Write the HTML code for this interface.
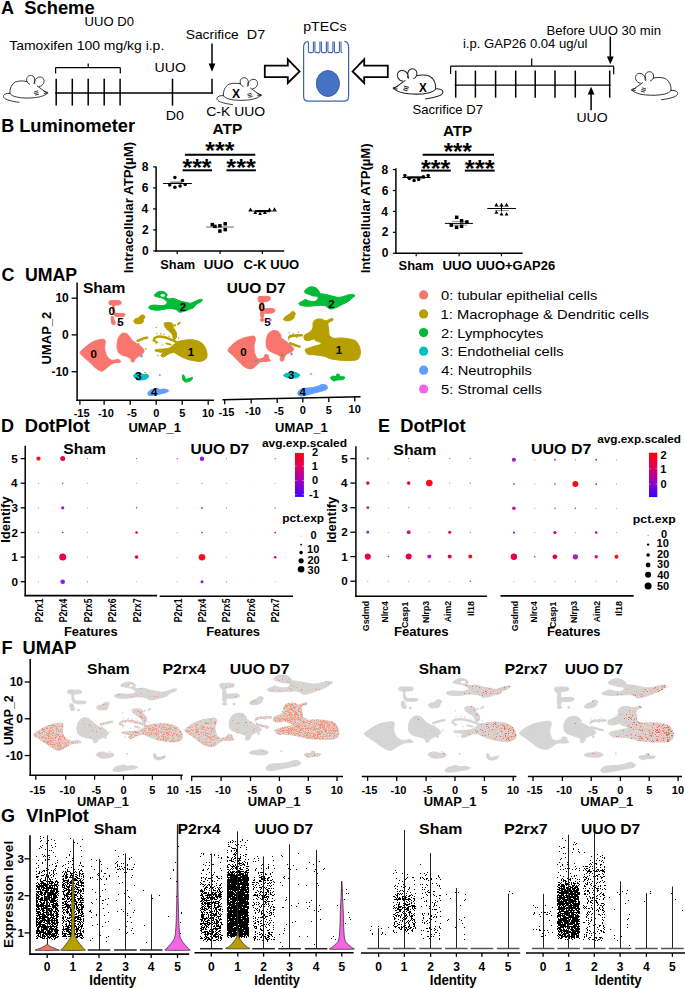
<!DOCTYPE html>
<html><head><meta charset="utf-8"><style>
html,body{margin:0;padding:0;background:#fff;}
svg{display:block;font-family:"Liberation Sans", sans-serif;}
</style></head><body>
<svg width="685" height="988" viewBox="0 0 685 988">
<rect width="685" height="988" fill="#fff"/>
<text x="1.05" y="14.00" font-size="18.00" style="font-weight:bold;" fill="#000">A</text>
<text x="24.27" y="14.00" font-size="18.00" style="font-weight:bold;" fill="#000" textLength="70.36" lengthAdjust="spacingAndGlyphs">Scheme</text>
<text x="84.59" y="25.50" font-size="13.00" style="" fill="#000" textLength="49.42" lengthAdjust="spacingAndGlyphs">UUO D0</text>
<text x="9.19" y="49.60" font-size="13.50" style="" fill="#000" textLength="155.07" lengthAdjust="spacingAndGlyphs">Tamoxifen 100 mg/kg i.p.</text>
<line x1="55.20" y1="93.00" x2="212.80" y2="93.00" stroke="#000" stroke-width="1.35"/>
<line x1="56.20" y1="78.70" x2="56.20" y2="105.60" stroke="#000" stroke-width="1.50"/>
<line x1="72.30" y1="78.70" x2="72.30" y2="105.60" stroke="#000" stroke-width="1.50"/>
<line x1="88.20" y1="78.70" x2="88.20" y2="105.60" stroke="#000" stroke-width="1.50"/>
<line x1="104.20" y1="78.70" x2="104.20" y2="105.60" stroke="#000" stroke-width="1.50"/>
<line x1="120.10" y1="78.70" x2="120.10" y2="105.60" stroke="#000" stroke-width="1.50"/>
<line x1="172.50" y1="78.70" x2="172.50" y2="105.60" stroke="#000" stroke-width="1.50"/>
<line x1="212.00" y1="78.70" x2="212.00" y2="93.70" stroke="#000" stroke-width="1.50"/>
<path d="M55.6,73.5 V68.3 Q55.6,67.7 56.4,67.7 H87.4 Q88.2,67.7 88.2,66.9 V63.5 M88.2,66.9 Q88.2,67.7 89,67.7 H119.5 Q120.3,67.7 120.3,68.3 V73.5" stroke="#000" stroke-width="1.20" fill="none"/>
<text x="154.61" y="71.90" font-size="13.00" style="" fill="#000" textLength="31.26" lengthAdjust="spacingAndGlyphs">UUO</text>
<text x="165.83" y="119.60" font-size="13.00" style="" fill="#000" textLength="18.23" lengthAdjust="spacingAndGlyphs">D0</text>
<text x="185.67" y="39.30" font-size="13.50" style="" fill="#000" textLength="53.15" lengthAdjust="spacingAndGlyphs">Sacrifice</text>
<text x="246.82" y="39.30" font-size="13.50" style="" fill="#000" textLength="18.41" lengthAdjust="spacingAndGlyphs">D7</text>
<line x1="212.00" y1="43.60" x2="212.00" y2="64.50" stroke="#000" stroke-width="1.50"/>
<path d="M208.6,63.6 L215.4,63.6 L212,71.8 Z" stroke="none" stroke-width="1.00" fill="#000"/>
<path d="M9.9,93.5 C9.5,88 12,84 15.2,82.1 C18,80.8 22,80.6 26.6,81.4 M37.2,86 C40,88 43.5,90.5 47.3,93.2 C45,95.5 41,97 34.2,97.7 C28,98.3 22,98.2 16.5,97 C13,96.2 11,95 9.9,93.5 M26.9,81.6 C25.8,78.5 27.5,75.6 30.4,75.4 C33.5,75.3 35.3,78 34.6,81.2 C34.2,82.6 33.8,83.5 34.2,84 C35,83.6 35.2,82 34.6,81.2 M26.9,81.6 C27.5,82.8 28.5,83.8 29.6,84.2 M34.6,81.2 C35.5,78.5 37.8,76.8 40.5,77 C43.5,77.3 44.8,80.5 43.6,83.2 C42.8,85 41.2,86.2 39.4,86.4 M9.9,93.3 C7,93.2 4.3,93.8 3.5,95.6 C3,97.5 5,99 8,100 C11,101 15,101.8 19,102.3 M34.2,92 L37.5,91 M34.6,93.5 L38,92.6 M35.4,95 L38.6,94.2 M43.8,91.2 L47.6,92.4 M44.2,93.4 L47.8,93.2" stroke="#222" stroke-width="0.90" fill="none" stroke-linecap="round"/>
<path d="M9.9,93.5 C9.5,88 12,84 15.2,82.1 C18,80.8 22,80.6 26.6,81.4 M37.2,86 C40,88 43.5,90.5 47.3,93.2 C45,95.5 41,97 34.2,97.7 C28,98.3 22,98.2 16.5,97 C13,96.2 11,95 9.9,93.5 M26.9,81.6 C25.8,78.5 27.5,75.6 30.4,75.4 C33.5,75.3 35.3,78 34.6,81.2 C34.2,82.6 33.8,83.5 34.2,84 C35,83.6 35.2,82 34.6,81.2 M26.9,81.6 C27.5,82.8 28.5,83.8 29.6,84.2 M34.6,81.2 C35.5,78.5 37.8,76.8 40.5,77 C43.5,77.3 44.8,80.5 43.6,83.2 C42.8,85 41.2,86.2 39.4,86.4 M9.9,93.3 C7,93.2 4.3,93.8 3.5,95.6 C3,97.5 5,99 8,100 C11,101 15,101.8 19,102.3 M34.2,92 L37.5,91 M34.6,93.5 L38,92.6 M35.4,95 L38.6,94.2 M43.8,91.2 L47.6,92.4 M44.2,93.4 L47.8,93.2" stroke="#222" stroke-width="0.90" fill="none" transform="translate(213.5,2.3)" stroke-linecap="round"/>
<text x="231.99" y="97.60" font-size="12.00" style="font-weight:bold;" fill="#000" textLength="8.11" lengthAdjust="spacingAndGlyphs">X</text>
<text x="206.29" y="116.30" font-size="13.50" style="" fill="#000" textLength="58.88" lengthAdjust="spacingAndGlyphs">C-K UUO</text>
<path d="M264.8,65.6 H287.8 V59.3 L299.6,71.4 L287.8,83 V77.2 H264.8 Z" stroke="#000" stroke-width="1.80" fill="#fff" stroke-linejoin="miter"/>
<path d="M387.8,65.6 H364.2 V59.3 L352.6,71.4 L364.2,83 V77.2 H387.8 Z" stroke="#000" stroke-width="1.80" fill="#fff" stroke-linejoin="miter"/>
<text x="303.19" y="30.50" font-size="13.50" style="" fill="#000" textLength="43.33" lengthAdjust="spacingAndGlyphs">pTECs</text>
<path d="M307.8,41.4 C305,41.8 303.6,44 303.6,47.5 V96.2 Q303.6,101.2 308.6,101.2 H343.6 Q348.6,101.2 348.6,96.2 V47.5 C348.6,44 347.2,41.8 344.4,41.4" stroke="#3C64B0" stroke-width="1.20" fill="none"/>
<path d="M308.4,41.4 V51.2 Q308.4,52.6 309.8,52.6 H312.0 Q313.4,52.6 313.4,51.2 V41.4 M314.9,41.4 V51.2 Q314.9,52.6 316.3,52.6 H318.5 Q319.9,52.6 319.9,51.2 V41.4 M321.4,41.4 V51.2 Q321.4,52.6 322.8,52.6 H325.0 Q326.4,52.6 326.4,51.2 V41.4 M327.9,41.4 V51.2 Q327.9,52.6 329.3,52.6 H331.5 Q332.9,52.6 332.9,51.2 V41.4 M334.4,41.4 V51.2 Q334.4,52.6 335.8,52.6 H338.0 Q339.4,52.6 339.4,51.2 V41.4 M341.0,41.4 V51.2 Q341.0,52.6 342.4,52.6 " stroke="#3C64B0" stroke-width="1.10" fill="none"/>
<ellipse cx="327.9" cy="83.5" rx="11.6" ry="13.0" fill="#4472C4" stroke="#2F528F" stroke-width="0.8"/>
<path d="M9.9,93.5 C9.5,88 12,84 15.2,82.1 C18,80.8 22,80.6 26.6,81.4 M37.2,86 C40,88 43.5,90.5 47.3,93.2 C45,95.5 41,97 34.2,97.7 C28,98.3 22,98.2 16.5,97 C13,96.2 11,95 9.9,93.5 M26.9,81.6 C25.8,78.5 27.5,75.6 30.4,75.4 C33.5,75.3 35.3,78 34.6,81.2 C34.2,82.6 33.8,83.5 34.2,84 C35,83.6 35.2,82 34.6,81.2 M26.9,81.6 C27.5,82.8 28.5,83.8 29.6,84.2 M34.6,81.2 C35.5,78.5 37.8,76.8 40.5,77 C43.5,77.3 44.8,80.5 43.6,83.2 C42.8,85 41.2,86.2 39.4,86.4 M9.9,93.3 C7,93.2 4.3,93.8 3.5,95.6 C3,97.5 5,99 8,100 C11,101 15,101.8 19,102.3 M34.2,92 L37.5,91 M34.6,93.5 L38,92.6 M35.4,95 L38.6,94.2 M43.8,91.2 L47.6,92.4 M44.2,93.4 L47.8,93.2" stroke="#222" stroke-width="0.90" fill="none" transform="translate(446.7,-15.7) scale(-1.12,1.12)" stroke-linecap="round"/>
<text x="418.90" y="92.00" font-size="12.00" style="font-weight:bold;" fill="#000" textLength="7.81" lengthAdjust="spacingAndGlyphs">X</text>
<text x="412.40" y="114.20" font-size="13.00" style="" fill="#000" textLength="70.65" lengthAdjust="spacingAndGlyphs">Sacrifice D7</text>
<path d="M9.9,93.5 C9.5,88 12,84 15.2,82.1 C18,80.8 22,80.6 26.6,81.4 M37.2,86 C40,88 43.5,90.5 47.3,93.2 C45,95.5 41,97 34.2,97.7 C28,98.3 22,98.2 16.5,97 C13,96.2 11,95 9.9,93.5 M26.9,81.6 C25.8,78.5 27.5,75.6 30.4,75.4 C33.5,75.3 35.3,78 34.6,81.2 C34.2,82.6 33.8,83.5 34.2,84 C35,83.6 35.2,82 34.6,81.2 M26.9,81.6 C27.5,82.8 28.5,83.8 29.6,84.2 M34.6,81.2 C35.5,78.5 37.8,76.8 40.5,77 C43.5,77.3 44.8,80.5 43.6,83.2 C42.8,85 41.2,86.2 39.4,86.4 M9.9,93.3 C7,93.2 4.3,93.8 3.5,95.6 C3,97.5 5,99 8,100 C11,101 15,101.8 19,102.3 M34.2,92 L37.5,91 M34.6,93.5 L38,92.6 M35.4,95 L38.6,94.2 M43.8,91.2 L47.6,92.4 M44.2,93.4 L47.8,93.2" stroke="#222" stroke-width="0.90" fill="none" transform="translate(681.3,-6.7) scale(-1.04,1.04)" stroke-linecap="round"/>
<line x1="454.60" y1="85.10" x2="610.50" y2="85.10" stroke="#000" stroke-width="1.35"/>
<line x1="455.70" y1="70.60" x2="455.70" y2="97.70" stroke="#000" stroke-width="1.50"/>
<line x1="475.40" y1="70.60" x2="475.40" y2="97.70" stroke="#000" stroke-width="1.50"/>
<line x1="495.60" y1="70.60" x2="495.60" y2="97.70" stroke="#000" stroke-width="1.50"/>
<line x1="515.70" y1="70.60" x2="515.70" y2="97.70" stroke="#000" stroke-width="1.50"/>
<line x1="535.20" y1="70.60" x2="535.20" y2="97.70" stroke="#000" stroke-width="1.50"/>
<line x1="555.00" y1="70.60" x2="555.00" y2="97.70" stroke="#000" stroke-width="1.50"/>
<line x1="575.30" y1="70.60" x2="575.30" y2="97.70" stroke="#000" stroke-width="1.50"/>
<line x1="609.70" y1="70.60" x2="609.70" y2="97.70" stroke="#000" stroke-width="1.50"/>
<path d="M450.6,74 V66.9 Q450.6,66.1 451.4,66.1 H530.9 Q531.7,66.1 531.7,65.3 V58.5 M531.7,65.3 Q531.7,66.1 532.5,66.1 H612.9 Q613.7,66.1 613.7,66.9 V74.3" stroke="#000" stroke-width="1.20" fill="none"/>
<text x="462.92" y="48.00" font-size="13.00" style="" fill="#000" textLength="124.55" lengthAdjust="spacingAndGlyphs">i.p. GAP26 0.04 ug/ul</text>
<text x="546.52" y="34.90" font-size="13.00" style="" fill="#000" textLength="114.43" lengthAdjust="spacingAndGlyphs">Before UUO 30 min</text>
<line x1="610.30" y1="36.50" x2="610.30" y2="57.50" stroke="#000" stroke-width="1.50"/>
<path d="M606.9,56.6 L613.7,56.6 L610.3,64.2 Z" stroke="none" stroke-width="1.00" fill="#000"/>
<line x1="591.10" y1="93.50" x2="591.10" y2="110.20" stroke="#000" stroke-width="1.50"/>
<path d="M587.7,94.6 L594.5,94.6 L591.1,86.8 Z" stroke="none" stroke-width="1.00" fill="#000"/>
<text x="576.41" y="121.80" font-size="13.00" style="" fill="#000" textLength="31.26" lengthAdjust="spacingAndGlyphs">UUO</text>
<text x="1.30" y="131.50" font-size="18.00" style="font-weight:bold;" fill="#000">B</text>
<text x="19.17" y="131.50" font-size="18.00" style="font-weight:bold;" fill="#000" textLength="116.00" lengthAdjust="spacingAndGlyphs">Luminometer</text>
<line x1="156.10" y1="166.40" x2="156.10" y2="251.70" stroke="#000" stroke-width="1.50"/>
<line x1="155.40" y1="250.90" x2="284.20" y2="250.90" stroke="#000" stroke-width="1.50"/>
<line x1="153.10" y1="250.90" x2="156.10" y2="250.90" stroke="#000" stroke-width="1.20"/>
<text x="141.92" y="255.03" font-size="12.00" style="font-weight:bold;" fill="#000">0</text>
<line x1="153.10" y1="229.90" x2="156.10" y2="229.90" stroke="#000" stroke-width="1.20"/>
<text x="141.91" y="234.09" font-size="12.00" style="font-weight:bold;" fill="#000">2</text>
<line x1="153.10" y1="208.90" x2="156.10" y2="208.90" stroke="#000" stroke-width="1.20"/>
<text x="141.49" y="213.03" font-size="12.00" style="font-weight:bold;" fill="#000">4</text>
<line x1="153.10" y1="187.90" x2="156.10" y2="187.90" stroke="#000" stroke-width="1.20"/>
<text x="141.86" y="192.03" font-size="12.00" style="font-weight:bold;" fill="#000">6</text>
<line x1="153.10" y1="166.90" x2="156.10" y2="166.90" stroke="#000" stroke-width="1.20"/>
<text x="141.80" y="171.03" font-size="12.00" style="font-weight:bold;" fill="#000">8</text>
<line x1="177.20" y1="250.90" x2="177.20" y2="253.90" stroke="#000" stroke-width="1.20"/>
<line x1="220.10" y1="250.90" x2="220.10" y2="253.90" stroke="#000" stroke-width="1.20"/>
<line x1="262.40" y1="250.90" x2="262.40" y2="253.90" stroke="#000" stroke-width="1.20"/>
<text x="160.33" y="268.50" font-size="12.50" style="font-weight:bold;" fill="#000" textLength="34.86" lengthAdjust="spacingAndGlyphs">Sham</text>
<text x="203.80" y="268.50" font-size="12.50" style="font-weight:bold;" fill="#000" textLength="29.77" lengthAdjust="spacingAndGlyphs">UUO</text>
<text x="243.47" y="268.50" font-size="12.50" style="font-weight:bold;" fill="#000" textLength="55.78" lengthAdjust="spacingAndGlyphs">C-K UUO</text>
<text transform="translate(133.30,272.50) rotate(-90)" x="-0.88" y="0" font-size="13.00" style="font-weight:bold;" fill="#000" textLength="131.53" lengthAdjust="spacingAndGlyphs">Intracellular ATP(µM)</text>
<text x="212.53" y="134.00" font-size="14.50" style="font-weight:bold;" fill="#000" textLength="29.68" lengthAdjust="spacingAndGlyphs">ATP</text>
<text x="205.33" y="158.76" font-size="24.50" style="font-weight:bold;" fill="#000" textLength="29.00" lengthAdjust="spacingAndGlyphs">***</text>
<line x1="184.90" y1="154.70" x2="255.30" y2="154.70" stroke="#000" stroke-width="2.00"/>
<text x="182.53" y="176.26" font-size="24.50" style="font-weight:bold;" fill="#000" textLength="29.00" lengthAdjust="spacingAndGlyphs">***</text>
<text x="226.33" y="176.26" font-size="24.50" style="font-weight:bold;" fill="#000" textLength="29.40" lengthAdjust="spacingAndGlyphs">***</text>
<line x1="182.60" y1="170.30" x2="212.00" y2="170.30" stroke="#000" stroke-width="2.00"/>
<line x1="226.40" y1="170.30" x2="255.90" y2="170.30" stroke="#000" stroke-width="2.00"/>
<rect x="170.3" y="181.4" width="11.7" height="1.8" fill="#888"/>
<line x1="163.10" y1="183.50" x2="191.90" y2="183.50" stroke="#000" stroke-width="1.00"/>
<circle cx="174.90" cy="177.50" r="1.75" fill="#000"/>
<circle cx="182.50" cy="180.50" r="1.75" fill="#000"/>
<circle cx="169.70" cy="184.90" r="1.75" fill="#000"/>
<circle cx="174.90" cy="187.30" r="1.75" fill="#000"/>
<circle cx="180.10" cy="186.10" r="1.75" fill="#000"/>
<circle cx="185.20" cy="184.50" r="1.75" fill="#000"/>
<line x1="206.10" y1="227.00" x2="233.90" y2="227.00" stroke="#777" stroke-width="1.10"/>
<rect x="210.55" y="222.85" width="3.50" height="3.50" fill="#000"/>
<rect x="213.15" y="224.65" width="3.50" height="3.50" fill="#000"/>
<rect x="218.15" y="224.05" width="3.50" height="3.50" fill="#000"/>
<rect x="218.15" y="229.35" width="3.50" height="3.50" fill="#000"/>
<rect x="223.45" y="222.05" width="3.50" height="3.50" fill="#000"/>
<rect x="223.45" y="227.85" width="3.50" height="3.50" fill="#000"/>
<line x1="248.50" y1="211.10" x2="276.80" y2="211.10" stroke="#333" stroke-width="1.00"/>
<rect x="255.2" y="210.0" width="15.0" height="2.2" fill="#000"/>
<path d="M250.50,207.50 L248.57,211.00 L252.43,211.00 Z" fill="#000"/>
<path d="M255.20,210.50 L253.27,214.00 L257.12,214.00 Z" fill="#000"/>
<path d="M260.10,211.60 L258.18,215.10 L262.03,215.10 Z" fill="#000"/>
<path d="M264.90,210.50 L262.97,214.00 L266.82,214.00 Z" fill="#000"/>
<path d="M269.50,207.50 L267.57,211.00 L271.43,211.00 Z" fill="#000"/>
<path d="M274.50,207.20 L272.57,210.70 L276.43,210.70 Z" fill="#000"/>
<line x1="395.90" y1="168.30" x2="395.90" y2="254.00" stroke="#000" stroke-width="1.50"/>
<line x1="395.20" y1="253.20" x2="522.60" y2="253.20" stroke="#000" stroke-width="1.50"/>
<line x1="392.90" y1="253.20" x2="395.90" y2="253.20" stroke="#000" stroke-width="1.20"/>
<text x="381.72" y="257.33" font-size="12.00" style="font-weight:bold;" fill="#000">0</text>
<line x1="392.90" y1="232.30" x2="395.90" y2="232.30" stroke="#000" stroke-width="1.20"/>
<text x="381.71" y="236.49" font-size="12.00" style="font-weight:bold;" fill="#000">2</text>
<line x1="392.90" y1="211.40" x2="395.90" y2="211.40" stroke="#000" stroke-width="1.20"/>
<text x="381.29" y="215.53" font-size="12.00" style="font-weight:bold;" fill="#000">4</text>
<line x1="392.90" y1="190.50" x2="395.90" y2="190.50" stroke="#000" stroke-width="1.20"/>
<text x="381.66" y="194.63" font-size="12.00" style="font-weight:bold;" fill="#000">6</text>
<line x1="392.90" y1="169.60" x2="395.90" y2="169.60" stroke="#000" stroke-width="1.20"/>
<text x="381.60" y="173.73" font-size="12.00" style="font-weight:bold;" fill="#000">8</text>
<line x1="416.20" y1="253.20" x2="416.20" y2="256.20" stroke="#000" stroke-width="1.20"/>
<line x1="459.10" y1="253.20" x2="459.10" y2="256.20" stroke="#000" stroke-width="1.20"/>
<line x1="501.40" y1="253.20" x2="501.40" y2="256.20" stroke="#000" stroke-width="1.20"/>
<text x="398.63" y="270.00" font-size="12.50" style="font-weight:bold;" fill="#000" textLength="35.17" lengthAdjust="spacingAndGlyphs">Sham</text>
<text x="442.51" y="270.00" font-size="12.50" style="font-weight:bold;" fill="#000" textLength="29.35" lengthAdjust="spacingAndGlyphs">UUO</text>
<text x="476.22" y="270.00" font-size="12.50" style="font-weight:bold;" fill="#000" textLength="78.95" lengthAdjust="spacingAndGlyphs">UUO+GAP26</text>
<text transform="translate(370.40,272.50) rotate(-90)" x="-0.87" y="0" font-size="13.00" style="font-weight:bold;" fill="#000" textLength="130.01" lengthAdjust="spacingAndGlyphs">Intracellular ATP(µM)</text>
<text x="442.93" y="136.00" font-size="14.50" style="font-weight:bold;" fill="#000" textLength="29.37" lengthAdjust="spacingAndGlyphs">ATP</text>
<text x="443.73" y="159.86" font-size="24.50" style="font-weight:bold;" fill="#000" textLength="28.09" lengthAdjust="spacingAndGlyphs">***</text>
<line x1="422.70" y1="154.70" x2="494.00" y2="154.70" stroke="#000" stroke-width="2.00"/>
<text x="421.03" y="177.36" font-size="24.50" style="font-weight:bold;" fill="#000" textLength="29.30" lengthAdjust="spacingAndGlyphs">***</text>
<text x="464.72" y="177.36" font-size="24.50" style="font-weight:bold;" fill="#000" textLength="30.00" lengthAdjust="spacingAndGlyphs">***</text>
<line x1="421.10" y1="170.60" x2="450.80" y2="170.60" stroke="#000" stroke-width="2.00"/>
<line x1="464.80" y1="170.60" x2="494.70" y2="170.60" stroke="#000" stroke-width="2.00"/>
<rect x="407" y="176.3" width="18" height="2.2" fill="#000"/>
<line x1="402.40" y1="177.50" x2="430.70" y2="177.50" stroke="#000" stroke-width="1.00"/>
<circle cx="404.90" cy="175.50" r="1.75" fill="#000"/>
<circle cx="409.40" cy="178.50" r="1.75" fill="#000"/>
<circle cx="414.10" cy="180.50" r="1.75" fill="#000"/>
<circle cx="418.70" cy="179.60" r="1.75" fill="#000"/>
<circle cx="423.40" cy="176.70" r="1.75" fill="#000"/>
<circle cx="428.20" cy="175.50" r="1.75" fill="#000"/>
<line x1="444.90" y1="223.40" x2="472.90" y2="223.40" stroke="#000" stroke-width="1.00"/>
<line x1="452.00" y1="221.40" x2="467.00" y2="221.40" stroke="#666" stroke-width="0.70"/>
<line x1="452.00" y1="225.10" x2="467.00" y2="225.10" stroke="#666" stroke-width="0.70"/>
<rect x="454.95" y="215.55" width="3.50" height="3.50" fill="#000"/>
<rect x="459.85" y="219.05" width="3.50" height="3.50" fill="#000"/>
<rect x="465.15" y="220.25" width="3.50" height="3.50" fill="#000"/>
<rect x="449.55" y="223.35" width="3.50" height="3.50" fill="#000"/>
<rect x="454.85" y="225.65" width="3.50" height="3.50" fill="#000"/>
<rect x="459.85" y="224.55" width="3.50" height="3.50" fill="#000"/>
<line x1="487.30" y1="208.50" x2="515.90" y2="208.50" stroke="#000" stroke-width="1.00"/>
<line x1="494.90" y1="206.40" x2="508.90" y2="206.40" stroke="#666" stroke-width="0.70"/>
<line x1="494.90" y1="210.50" x2="508.90" y2="210.50" stroke="#666" stroke-width="0.70"/>
<line x1="501.50" y1="205.50" x2="501.50" y2="211.50" stroke="#000" stroke-width="1.00"/>
<path d="M496.40,202.80 L494.47,206.30 L498.32,206.30 Z" fill="#000"/>
<path d="M501.50,202.80 L499.57,206.30 L503.43,206.30 Z" fill="#000"/>
<path d="M506.60,202.80 L504.68,206.30 L508.53,206.30 Z" fill="#000"/>
<path d="M496.40,210.20 L494.47,213.70 L498.32,213.70 Z" fill="#000"/>
<path d="M501.50,211.90 L499.57,215.40 L503.43,215.40 Z" fill="#000"/>
<path d="M506.60,211.90 L504.68,215.40 L508.53,215.40 Z" fill="#000"/>
<text x="1.46" y="281.30" font-size="18.00" style="font-weight:bold;" fill="#000">C</text>
<text x="24.93" y="281.30" font-size="18.00" style="font-weight:bold;" fill="#000" textLength="52.27" lengthAdjust="spacingAndGlyphs">UMAP</text>
<path d="M80.30,352.10 C80.92,351.02 82.98,349.23 84.60,347.80 C86.22,346.37 88.20,344.67 90.00,343.50 C91.80,342.33 93.60,341.47 95.40,340.80 C97.20,340.13 99.27,339.68 100.80,339.50 C102.33,339.32 103.87,339.12 104.60,339.70 C105.33,340.28 105.20,341.73 105.20,343.00 C105.20,344.27 104.60,345.87 104.60,347.30 C104.60,348.73 104.83,350.17 105.20,351.60 C105.57,353.03 105.90,354.55 106.80,355.90 C107.70,357.25 109.35,358.98 110.60,359.70 C111.85,360.42 113.13,360.28 114.30,360.20 C115.47,360.12 116.52,359.02 117.60,359.20 C118.68,359.38 120.53,360.77 120.80,361.30 C121.07,361.83 120.37,362.13 119.20,362.40 C118.03,362.67 115.42,362.37 113.80,362.90 C112.18,363.43 111.12,364.42 109.50,365.60 C107.88,366.78 105.55,369.10 104.10,370.00 C102.65,370.90 102.25,371.37 100.80,371.00 C99.35,370.63 97.20,369.23 95.40,367.80 C93.60,366.37 91.97,364.20 90.00,362.40 C88.03,360.60 85.12,358.35 83.60,357.00 C82.08,355.65 81.45,355.12 80.90,354.30 C80.35,353.48 79.68,353.18 80.30,352.10Z" stroke="#F8766D" stroke-width="1.00" fill="#F8766D" stroke-linejoin="round"/>
<path d="M117.60,340.80 C117.97,339.18 118.38,337.77 119.20,336.50 C120.02,335.23 121.23,333.65 122.50,333.20 C123.77,332.75 125.73,333.35 126.80,333.80 C127.87,334.25 128.00,334.82 128.90,335.90 C129.80,336.98 130.93,339.03 132.20,340.30 C133.47,341.57 134.88,342.33 136.50,343.50 C138.12,344.67 140.63,346.03 141.90,347.30 C143.17,348.57 144.10,349.93 144.10,351.10 C144.10,352.27 142.98,353.32 141.90,354.30 C140.82,355.28 138.77,356.18 137.60,357.00 C136.43,357.82 135.45,358.48 134.90,359.20 C134.35,359.92 134.85,360.85 134.30,361.30 C133.75,361.75 132.22,362.35 131.60,361.90 C130.98,361.45 131.40,359.50 130.60,358.60 C129.80,357.70 128.33,357.13 126.80,356.50 C125.27,355.87 122.85,355.62 121.40,354.80 C119.95,353.98 118.83,353.03 118.10,351.60 C117.37,350.17 117.08,348.00 117.00,346.20 C116.92,344.40 117.23,342.42 117.60,340.80Z" stroke="#F8766D" stroke-width="1.00" fill="#F8766D" stroke-linejoin="round"/>
<path d="M109.50,301.00 C110.42,300.35 113.17,300.57 115.00,300.60 C116.83,300.63 119.60,300.55 120.50,301.20 C121.40,301.85 121.23,303.83 120.40,304.50 C119.57,305.17 116.53,304.87 115.50,305.20 C114.47,305.53 114.32,305.45 114.20,306.50 C114.08,307.55 114.50,310.38 114.80,311.50 C115.10,312.62 114.97,312.88 116.00,313.20 C117.03,313.52 119.53,313.27 121.00,313.40 C122.47,313.53 124.30,313.53 124.80,314.00 C125.30,314.47 125.13,315.77 124.00,316.20 C122.87,316.63 119.67,316.77 118.00,316.60 C116.33,316.43 114.87,316.30 114.00,315.20 C113.13,314.10 113.05,311.63 112.80,310.00 C112.55,308.37 113.05,306.32 112.50,305.40 C111.95,304.48 110.00,305.23 109.50,304.50 C109.00,303.77 108.58,301.65 109.50,301.00Z" stroke="#F8766D" stroke-width="1.00" fill="#F8766D" stroke-linejoin="round"/>
<path d="M111.30,317.00 C111.68,316.48 113.05,316.40 113.50,316.90 C113.95,317.40 113.70,319.07 114.00,320.00 C114.30,320.93 115.22,321.78 115.30,322.50 C115.38,323.22 115.05,324.05 114.50,324.30 C113.95,324.55 112.55,324.72 112.00,324.00 C111.45,323.28 111.32,321.17 111.20,320.00 C111.08,318.83 110.92,317.52 111.30,317.00Z" stroke="#F8766D" stroke-width="1.00" fill="#F8766D" stroke-linejoin="round"/>
<path d="M176.20,342.40 C177.27,341.73 178.53,341.47 179.90,341.10 C181.27,340.73 182.75,340.43 184.40,340.20 C186.05,339.97 188.00,339.70 189.80,339.70 C191.60,339.70 193.47,339.82 195.20,340.20 C196.93,340.58 198.83,341.25 200.20,342.00 C201.57,342.75 202.48,343.57 203.40,344.70 C204.32,345.83 205.10,347.37 205.70,348.80 C206.30,350.23 206.85,351.80 207.00,353.30 C207.15,354.80 207.20,356.60 206.60,357.80 C206.00,359.00 204.68,359.90 203.40,360.50 C202.12,361.10 200.72,361.40 198.90,361.40 C197.08,361.40 194.47,360.87 192.50,360.50 C190.53,360.13 188.90,359.80 187.10,359.20 C185.30,358.60 183.37,357.73 181.70,356.90 C180.03,356.07 178.47,354.95 177.10,354.20 C175.73,353.45 175.00,352.40 173.50,352.40 C172.00,352.40 169.45,353.60 168.10,354.20 C166.75,354.80 166.30,355.55 165.40,356.00 C164.50,356.45 163.45,356.97 162.70,356.90 C161.95,356.83 160.90,356.28 160.90,355.60 C160.90,354.92 163.02,353.42 162.70,352.80 C162.38,352.18 160.22,352.20 159.00,351.90 C157.78,351.60 156.00,351.37 155.40,351.00 C154.80,350.63 154.63,350.00 155.40,349.70 C156.17,349.40 158.33,349.35 160.00,349.20 C161.67,349.05 163.75,349.02 165.40,348.80 C167.05,348.58 168.55,348.52 169.90,347.90 C171.25,347.28 172.45,346.02 173.50,345.10 C174.55,344.18 175.13,343.07 176.20,342.40Z" stroke="#B79F00" stroke-width="1.00" fill="#B79F00" stroke-linejoin="round"/>
<path d="M133.90,320.50 C134.07,319.72 135.23,318.92 136.00,318.50 C136.77,318.08 137.75,318.50 138.50,318.00 C139.25,317.50 139.67,315.98 140.50,315.50 C141.33,315.02 142.77,314.85 143.50,315.10 C144.23,315.35 144.90,316.27 144.90,317.00 C144.90,317.73 143.82,318.58 143.50,319.50 C143.18,320.42 143.75,321.78 143.00,322.50 C142.25,323.22 140.33,323.68 139.00,323.80 C137.67,323.92 135.85,323.75 135.00,323.20 C134.15,322.65 133.73,321.28 133.90,320.50Z" stroke="#B79F00" stroke-width="1.00" fill="#B79F00" stroke-linejoin="round"/>
<path d="M154.50,295.10 C154.82,294.40 156.20,292.93 157.30,292.30 C158.40,291.67 159.83,291.30 161.10,291.30 C162.37,291.30 163.87,291.67 164.90,292.30 C165.93,292.93 167.13,294.32 167.30,295.10 C167.47,295.88 165.67,296.37 165.90,297.00 C166.13,297.63 167.43,298.67 168.70,298.90 C169.97,299.13 172.07,298.23 173.50,298.40 C174.93,298.57 176.03,299.42 177.30,299.90 C178.57,300.38 179.68,300.92 181.10,301.30 C182.52,301.68 184.23,301.88 185.80,302.20 C187.37,302.52 188.92,303.35 190.50,303.20 C192.08,303.05 193.72,301.93 195.30,301.30 C196.88,300.67 198.82,299.63 200.00,299.40 C201.18,299.17 202.23,299.50 202.40,299.90 C202.57,300.30 202.03,301.02 201.00,301.80 C199.97,302.58 197.47,303.58 196.20,304.60 C194.93,305.62 194.50,307.12 193.40,307.90 C192.30,308.68 191.03,308.75 189.60,309.30 C188.17,309.85 186.53,310.72 184.80,311.20 C183.07,311.68 180.45,312.35 179.20,312.20 C177.95,312.05 178.25,310.85 177.30,310.30 C176.35,309.75 174.93,309.22 173.50,308.90 C172.07,308.58 170.28,308.33 168.70,308.40 C167.12,308.47 165.90,308.98 164.00,309.30 C162.10,309.62 159.52,310.30 157.30,310.30 C155.08,310.30 152.12,309.78 150.70,309.30 C149.28,308.82 148.80,308.02 148.80,307.40 C148.80,306.78 149.60,305.98 150.70,305.60 C151.80,305.22 153.82,305.10 155.40,305.10 C156.98,305.10 158.62,305.60 160.20,305.60 C161.78,305.60 163.72,305.67 164.90,305.10 C166.08,304.53 167.45,303.23 167.30,302.20 C167.15,301.17 165.18,299.68 164.00,298.90 C162.82,298.12 161.63,297.90 160.20,297.50 C158.77,297.10 156.35,296.90 155.40,296.50 C154.45,296.10 154.18,295.80 154.50,295.10Z" stroke="#00BA38" stroke-width="1.00" fill="#00BA38" stroke-linejoin="round"/>
<path d="M182.50,375.00 C182.75,374.33 184.00,375.33 184.50,376.00 C185.00,376.67 184.75,378.58 185.50,379.00 C186.25,379.42 187.83,378.75 189.00,378.50 C190.17,378.25 192.17,377.17 192.50,377.50 C192.83,377.83 192.08,379.75 191.00,380.50 C189.92,381.25 187.33,382.08 186.00,382.00 C184.67,381.92 183.58,381.17 183.00,380.00 C182.42,378.83 182.25,375.67 182.50,375.00Z" stroke="#00BA38" stroke-width="1.00" fill="#00BA38" stroke-linejoin="round"/>
<path d="M133.50,376.00 C133.33,375.00 134.92,374.00 136.00,373.50 C137.08,373.00 138.83,372.83 140.00,373.00 C141.17,373.17 141.83,374.30 143.00,374.50 C144.17,374.70 146.07,373.87 147.00,374.20 C147.93,374.53 148.77,375.70 148.60,376.50 C148.43,377.30 147.27,378.42 146.00,379.00 C144.73,379.58 142.50,379.92 141.00,380.00 C139.50,380.08 138.25,380.17 137.00,379.50 C135.75,378.83 133.67,377.00 133.50,376.00Z" stroke="#00BFC4" stroke-width="1.00" fill="#00BFC4" stroke-linejoin="round"/>
<path d="M147.80,393.50 C147.97,392.72 148.97,391.25 150.00,390.50 C151.03,389.75 152.83,389.38 154.00,389.00 C155.17,388.62 156.00,388.12 157.00,388.20 C158.00,388.28 158.83,389.37 160.00,389.50 C161.17,389.63 162.53,388.83 164.00,389.00 C165.47,389.17 168.47,389.92 168.80,390.50 C169.13,391.08 167.47,391.92 166.00,392.50 C164.53,393.08 162.00,393.52 160.00,394.00 C158.00,394.48 155.83,395.20 154.00,395.40 C152.17,395.60 150.03,395.52 149.00,395.20 C147.97,394.88 147.63,394.28 147.80,393.50Z" stroke="#619CFF" stroke-width="1.00" fill="#619CFF" stroke-linejoin="round"/>
<path d="M164.30,323.30 C164.70,322.72 165.88,322.58 167.00,322.50 C168.12,322.42 170.00,322.47 171.00,322.80 C172.00,323.13 172.63,323.72 173.00,324.50 C173.37,325.28 172.87,326.58 173.20,327.50 C173.53,328.42 174.45,329.08 175.00,330.00 C175.55,330.92 176.25,331.92 176.50,333.00 C176.75,334.08 176.67,335.50 176.50,336.50 C176.33,337.50 176.00,338.58 175.50,339.00 C175.00,339.42 174.00,339.58 173.50,339.00 C173.00,338.42 172.92,336.50 172.50,335.50 C172.08,334.50 171.67,333.83 171.00,333.00 C170.33,332.17 169.33,331.25 168.50,330.50 C167.67,329.75 166.65,329.25 166.00,328.50 C165.35,327.75 164.88,326.87 164.60,326.00 C164.32,325.13 163.90,323.88 164.30,323.30Z" stroke="#B79F00" stroke-width="1.00" fill="#B79F00" stroke-linejoin="round"/>
<ellipse cx="162.80" cy="295.40" rx="2.20" ry="1.30" fill="#fff"/>
<path d="M153.80,340.50 C153.93,340.12 154.07,338.80 154.60,338.20 C155.13,337.60 156.10,337.18 157.00,336.90 C157.90,336.62 158.90,336.48 160.00,336.50 C161.10,336.52 162.25,336.68 163.60,337.00 C164.95,337.32 166.60,337.87 168.10,338.40 C169.60,338.93 171.28,339.60 172.60,340.20 C173.92,340.80 175.43,341.70 176.00,342.00" stroke="#B79F00" stroke-width="2.40" fill="none" stroke-linecap="round" stroke-linejoin="round"/>
<path d="M154.00,339.50 C154.25,339.83 155.00,341.03 155.50,341.50 C156.00,341.97 156.75,342.17 157.00,342.30" stroke="#B79F00" stroke-width="1.80" fill="none" stroke-linecap="round" stroke-linejoin="round"/>
<path d="M137.60,340.80 C138.17,340.58 139.85,339.93 141.00,339.50 C142.15,339.07 143.45,338.52 144.50,338.20 C145.55,337.88 146.83,337.70 147.30,337.60" stroke="#B79F00" stroke-width="2.40" fill="none" stroke-linecap="round" stroke-linejoin="round"/>
<path d="M166.30,343.30 L170.80,344.70" stroke="#B79F00" stroke-width="1.80" fill="none" stroke-linecap="round" stroke-linejoin="round"/>
<circle cx="170.9" cy="340.5" r="0.70" fill="#B79F00"/>
<circle cx="175.1" cy="345.6" r="0.70" fill="#B79F00"/>
<circle cx="173.8" cy="345.1" r="0.70" fill="#B79F00"/>
<circle cx="156.7" cy="333.6" r="0.70" fill="#B79F00"/>
<circle cx="178.6" cy="338.2" r="0.70" fill="#B79F00"/>
<circle cx="177.6" cy="324.8" r="0.70" fill="#B79F00"/>
<circle cx="167.3" cy="328.2" r="0.70" fill="#B79F00"/>
<circle cx="169.1" cy="336.3" r="0.70" fill="#B79F00"/>
<circle cx="156.3" cy="327.4" r="0.70" fill="#B79F00"/>
<circle cx="162.7" cy="344.9" r="0.70" fill="#B79F00"/>
<circle cx="174.4" cy="326.0" r="0.70" fill="#B79F00"/>
<circle cx="175.1" cy="325.5" r="0.70" fill="#B79F00"/>
<circle cx="170.8" cy="325.2" r="0.70" fill="#B79F00"/>
<circle cx="156.0" cy="343.8" r="0.70" fill="#B79F00"/>
<circle cx="174.90" cy="324.80" r="0.90" fill="#B79F00"/>
<circle cx="179.40" cy="323.00" r="1.20" fill="#B79F00"/>
<circle cx="178.30" cy="323.80" r="0.90" fill="#B79F00"/>
<circle cx="160.90" cy="333.80" r="0.80" fill="#B79F00"/>
<circle cx="164.00" cy="334.30" r="0.80" fill="#B79F00"/>
<circle cx="158.10" cy="355.50" r="0.80" fill="#B79F00"/>
<circle cx="145.00" cy="372.50" r="0.80" fill="#B79F00"/>
<circle cx="138.70" cy="344.00" r="0.90" fill="#B79F00"/>
<circle cx="145.70" cy="348.90" r="0.80" fill="#B79F00"/>
<circle cx="118.50" cy="324.00" r="1.40" fill="#F564E3"/>
<circle cx="159.80" cy="374.90" r="1.00" fill="#F564E3"/>
<circle cx="141.40" cy="356.10" r="1.30" fill="#619CFF"/>
<text x="108.61" y="315.16" font-size="11.50" style="font-weight:bold;" fill="#000">0</text>
<text x="117.29" y="326.10" font-size="11.50" style="font-weight:bold;" fill="#000">5</text>
<text x="90.61" y="357.76" font-size="11.50" style="font-weight:bold;" fill="#000">0</text>
<text x="179.83" y="311.41" font-size="11.50" style="font-weight:bold;" fill="#000">2</text>
<text x="187.70" y="356.36" font-size="11.50" style="font-weight:bold;" fill="#000">1</text>
<text x="135.28" y="380.15" font-size="11.50" style="font-weight:bold;" fill="#000">3</text>
<text x="151.05" y="395.66" font-size="11.50" style="font-weight:bold;" fill="#000">4</text>
<path d="M228.30,349.20 C228.75,348.12 230.15,346.75 231.60,345.40 C233.05,344.05 235.20,342.27 237.00,341.10 C238.80,339.93 240.43,339.12 242.40,338.40 C244.37,337.68 246.83,337.15 248.80,336.80 C250.77,336.45 253.12,335.77 254.20,336.30 C255.28,336.83 255.30,338.65 255.30,340.00 C255.30,341.35 254.38,342.60 254.20,344.40 C254.02,346.20 253.83,348.65 254.20,350.80 C254.57,352.95 255.50,355.95 256.40,357.30 C257.30,358.65 258.33,358.90 259.60,358.90 C260.87,358.90 263.10,358.02 264.00,357.30 C264.90,356.58 264.28,354.95 265.00,354.60 C265.72,354.25 267.67,354.57 268.30,355.20 C268.93,355.83 268.43,357.50 268.80,358.40 C269.17,359.30 270.95,360.07 270.50,360.60 C270.05,361.13 267.73,361.43 266.10,361.60 C264.47,361.77 262.13,361.15 260.70,361.60 C259.27,362.05 258.75,363.22 257.50,364.30 C256.25,365.38 254.65,367.37 253.20,368.10 C251.75,368.83 250.43,369.05 248.80,368.70 C247.17,368.35 245.20,367.35 243.40,366.00 C241.60,364.65 239.80,362.40 238.00,360.60 C236.20,358.80 234.12,356.65 232.60,355.20 C231.08,353.75 229.62,352.90 228.90,351.90 C228.18,350.90 227.85,350.28 228.30,349.20Z" stroke="#F8766D" stroke-width="1.00" fill="#F8766D" stroke-linejoin="round"/>
<path d="M267.20,336.30 C267.75,334.87 268.32,333.47 269.40,332.50 C270.48,331.53 272.27,330.68 273.70,330.50 C275.13,330.32 276.83,330.72 278.00,331.40 C279.17,332.08 280.15,333.52 280.70,334.60 C281.25,335.68 280.48,336.82 281.30,337.90 C282.12,338.98 283.98,339.85 285.60,341.10 C287.22,342.35 289.65,344.13 291.00,345.40 C292.35,346.67 293.52,347.70 293.70,348.70 C293.88,349.70 293.27,350.50 292.10,351.40 C290.93,352.30 287.97,353.12 286.70,354.10 C285.43,355.08 285.05,356.22 284.50,357.30 C283.95,358.38 284.12,360.05 283.40,360.60 C282.68,361.15 280.73,361.33 280.20,360.60 C279.67,359.87 281.10,357.38 280.20,356.20 C279.30,355.02 276.60,354.40 274.80,353.50 C273.00,352.60 270.75,351.78 269.40,350.80 C268.05,349.82 267.25,349.22 266.70,347.60 C266.15,345.98 266.02,342.98 266.10,341.10 C266.18,339.22 266.65,337.73 267.20,336.30Z" stroke="#F8766D" stroke-width="1.00" fill="#F8766D" stroke-linejoin="round"/>
<path d="M258.40,297.00 C258.97,296.17 260.73,296.62 262.00,296.50 C263.27,296.38 264.70,296.22 266.00,296.30 C267.30,296.38 269.15,296.38 269.80,297.00 C270.45,297.62 270.53,299.25 269.90,300.00 C269.27,300.75 267.07,301.17 266.00,301.50 C264.93,301.83 263.97,301.42 263.50,302.00 C263.03,302.58 263.12,303.92 263.20,305.00 C263.28,306.08 263.20,307.90 264.00,308.50 C264.80,309.10 266.67,308.62 268.00,308.60 C269.33,308.58 270.87,308.22 272.00,308.40 C273.13,308.58 274.55,309.02 274.80,309.70 C275.05,310.38 274.63,311.88 273.50,312.50 C272.37,313.12 269.50,313.28 268.00,313.40 C266.50,313.52 265.25,312.77 264.50,313.20 C263.75,313.63 263.72,315.28 263.50,316.00 C263.28,316.72 263.62,317.28 263.20,317.50 C262.78,317.72 261.47,318.05 261.00,317.30 C260.53,316.55 260.45,314.38 260.40,313.00 C260.35,311.62 260.70,310.67 260.70,309.00 C260.70,307.33 260.75,304.25 260.40,303.00 C260.05,301.75 258.93,302.50 258.60,301.50 C258.27,300.50 257.83,297.83 258.40,297.00Z" stroke="#F8766D" stroke-width="1.00" fill="#F8766D" stroke-linejoin="round"/>
<path d="M260.60,318.80 C260.97,318.42 262.37,318.40 263.00,318.60 C263.63,318.80 264.40,319.57 264.40,320.00 C264.40,320.43 263.60,321.05 263.00,321.20 C262.40,321.35 261.20,321.30 260.80,320.90 C260.40,320.50 260.23,319.18 260.60,318.80Z" stroke="#F8766D" stroke-width="1.00" fill="#F8766D" stroke-linejoin="round"/>
<path d="M304.50,291.10 C304.82,290.32 306.20,289.02 307.30,288.30 C308.40,287.58 309.67,286.88 311.10,286.80 C312.53,286.72 314.63,287.17 315.90,287.80 C317.17,288.43 318.00,289.65 318.70,290.60 C319.40,291.55 319.30,292.93 320.10,293.50 C320.90,294.07 322.15,293.77 323.50,294.00 C324.85,294.23 326.62,294.52 328.20,294.90 C329.78,295.28 331.42,295.90 333.00,296.30 C334.58,296.70 336.13,297.22 337.70,297.30 C339.27,297.38 340.67,297.20 342.40,296.80 C344.13,296.40 346.35,295.30 348.10,294.90 C349.85,294.50 351.78,294.23 352.90,294.40 C354.02,294.57 354.97,295.27 354.80,295.90 C354.63,296.53 353.02,297.25 351.90,298.20 C350.78,299.15 349.68,300.57 348.10,301.60 C346.52,302.63 344.13,303.53 342.40,304.40 C340.67,305.27 339.27,306.08 337.70,306.80 C336.13,307.52 334.42,308.38 333.00,308.70 C331.58,309.02 330.47,309.18 329.20,308.70 C327.93,308.22 326.83,306.37 325.40,305.80 C323.97,305.23 322.50,305.30 320.60,305.30 C318.70,305.30 316.22,305.63 314.00,305.80 C311.78,305.97 309.52,306.38 307.30,306.30 C305.08,306.22 302.12,305.78 300.70,305.30 C299.28,304.82 298.65,304.02 298.80,303.40 C298.95,302.78 300.50,302.23 301.60,301.60 C302.70,300.97 304.42,299.78 305.40,299.60 C306.38,299.42 306.55,300.20 307.50,300.50 C308.45,300.80 309.70,301.30 311.10,301.40 C312.50,301.50 314.75,301.58 315.90,301.10 C317.05,300.62 317.78,299.27 318.00,298.50 C318.22,297.73 318.03,296.93 317.20,296.50 C316.37,296.07 314.33,296.25 313.00,295.90 C311.67,295.55 310.47,294.88 309.20,294.40 C307.93,293.92 306.18,293.55 305.40,293.00 C304.62,292.45 304.18,291.88 304.50,291.10Z" stroke="#00BA38" stroke-width="1.00" fill="#00BA38" stroke-linejoin="round"/>
<path d="M304.30,335.40 C304.78,334.43 306.13,334.28 307.20,333.60 C308.27,332.92 309.73,332.37 310.70,331.30 C311.67,330.23 312.62,328.57 313.00,327.20 C313.38,325.83 312.52,324.37 313.00,323.10 C313.48,321.83 314.53,320.28 315.90,319.60 C317.27,318.92 319.53,318.80 321.20,319.00 C322.87,319.20 324.15,320.90 325.90,320.80 C327.65,320.70 330.53,318.50 331.70,318.40 C332.87,318.30 333.48,319.42 332.90,320.20 C332.32,320.98 328.88,321.55 328.20,323.10 C327.52,324.65 328.60,327.45 328.80,329.50 C329.00,331.55 328.52,333.93 329.40,335.40 C330.28,336.87 332.15,337.88 334.10,338.30 C336.05,338.72 338.58,337.80 341.10,337.90 C343.62,338.00 346.87,338.45 349.20,338.90 C351.53,339.35 353.53,339.63 355.10,340.60 C356.67,341.57 357.73,343.05 358.60,344.70 C359.47,346.35 360.12,348.55 360.30,350.50 C360.48,352.45 360.38,354.83 359.70,356.40 C359.02,357.97 358.13,359.22 356.20,359.90 C354.27,360.58 351.20,360.50 348.10,360.50 C345.00,360.50 340.53,360.20 337.60,359.90 C334.67,359.60 332.65,359.28 330.50,358.70 C328.35,358.12 326.83,356.98 324.70,356.40 C322.57,355.82 319.83,355.50 317.70,355.20 C315.57,354.90 313.45,354.70 311.90,354.60 C310.35,354.50 309.38,354.98 308.40,354.60 C307.42,354.22 306.50,353.17 306.00,352.30 C305.50,351.43 304.72,350.18 305.40,349.40 C306.08,348.62 308.43,348.18 310.10,347.60 C311.77,347.02 313.75,346.38 315.40,345.90 C317.05,345.42 319.03,345.10 320.00,344.70 C320.97,344.30 321.38,343.98 321.20,343.50 C321.02,343.02 319.87,342.28 318.90,341.80 C317.93,341.32 316.18,341.08 315.40,340.60 C314.62,340.12 314.98,339.00 314.20,338.90 C313.42,338.80 311.87,339.72 310.70,340.00 C309.53,340.28 308.27,340.70 307.20,340.60 C306.13,340.50 304.78,340.27 304.30,339.40 C303.82,338.53 303.82,336.37 304.30,335.40Z" stroke="#B79F00" stroke-width="1.00" fill="#B79F00" stroke-linejoin="round"/>
<path d="M283.60,319.50 C283.52,318.78 284.60,317.33 285.50,316.50 C286.40,315.67 288.00,315.25 289.00,314.50 C290.00,313.75 290.67,312.45 291.50,312.00 C292.33,311.55 293.37,311.55 294.00,311.80 C294.63,312.05 295.22,312.80 295.30,313.50 C295.38,314.20 294.80,315.17 294.50,316.00 C294.20,316.83 294.25,317.75 293.50,318.50 C292.75,319.25 291.25,320.12 290.00,320.50 C288.75,320.88 287.07,320.97 286.00,320.80 C284.93,320.63 283.68,320.22 283.60,319.50Z" stroke="#B79F00" stroke-width="1.00" fill="#B79F00" stroke-linejoin="round"/>
<path d="M283.50,375.50 C283.33,374.83 284.92,373.92 286.00,373.50 C287.08,373.08 288.83,373.25 290.00,373.00 C291.17,372.75 291.83,372.00 293.00,372.00 C294.17,372.00 295.88,372.50 297.00,373.00 C298.12,373.50 299.62,374.25 299.70,375.00 C299.78,375.75 298.78,377.00 297.50,377.50 C296.22,378.00 293.75,378.00 292.00,378.00 C290.25,378.00 288.42,377.92 287.00,377.50 C285.58,377.08 283.67,376.17 283.50,375.50Z" stroke="#00BFC4" stroke-width="1.00" fill="#00BFC4" stroke-linejoin="round"/>
<path d="M297.80,393.50 C297.88,392.58 298.63,390.83 299.50,390.00 C300.37,389.17 301.58,388.83 303.00,388.50 C304.42,388.17 306.33,388.17 308.00,388.00 C309.67,387.83 311.33,387.80 313.00,387.50 C314.67,387.20 316.67,386.65 318.00,386.20 C319.33,385.75 319.92,385.08 321.00,384.80 C322.08,384.52 323.45,384.22 324.50,384.50 C325.55,384.78 326.97,385.67 327.30,386.50 C327.63,387.33 327.38,388.75 326.50,389.50 C325.62,390.25 323.75,390.50 322.00,391.00 C320.25,391.50 318.17,391.92 316.00,392.50 C313.83,393.08 311.17,393.95 309.00,394.50 C306.83,395.05 304.67,395.63 303.00,395.80 C301.33,395.97 299.87,395.88 299.00,395.50 C298.13,395.12 297.72,394.42 297.80,393.50Z" stroke="#619CFF" stroke-width="1.00" fill="#619CFF" stroke-linejoin="round"/>
<path d="M330.50,378.00 C330.33,377.17 332.08,376.25 333.00,376.00 C333.92,375.75 335.33,376.83 336.00,376.50 C336.67,376.17 336.42,374.33 337.00,374.00 C337.58,373.67 339.00,374.08 339.50,374.50 C340.00,374.92 339.15,376.08 340.00,376.50 C340.85,376.92 344.10,376.50 344.60,377.00 C345.10,377.50 344.27,379.00 343.00,379.50 C341.73,380.00 338.50,379.75 337.00,380.00 C335.50,380.25 335.08,381.33 334.00,381.00 C332.92,380.67 330.67,378.83 330.50,378.00Z" stroke="#00BA38" stroke-width="1.00" fill="#00BA38" stroke-linejoin="round"/>
<path d="M289.20,337.20 C289.58,337.00 290.53,336.27 291.50,336.00 C292.47,335.73 293.83,335.70 295.00,335.60 C296.17,335.50 297.37,335.45 298.50,335.40 C299.63,335.35 301.25,335.32 301.80,335.30" stroke="#B79F00" stroke-width="2.60" fill="none" stroke-linecap="round" stroke-linejoin="round"/>
<path d="M290.20,343.20 C290.67,343.38 291.95,343.90 293.00,344.30 C294.05,344.70 295.40,345.22 296.50,345.60 C297.60,345.98 299.08,346.43 299.60,346.60" stroke="#B79F00" stroke-width="2.40" fill="none" stroke-linecap="round" stroke-linejoin="round"/>
<circle cx="293.2" cy="333.7" r="0.70" fill="#B79F00"/>
<circle cx="298.4" cy="332.3" r="0.70" fill="#B79F00"/>
<circle cx="296.6" cy="337.6" r="0.70" fill="#B79F00"/>
<circle cx="288.9" cy="340.1" r="0.70" fill="#B79F00"/>
<circle cx="288.6" cy="338.8" r="0.70" fill="#B79F00"/>
<circle cx="289.1" cy="332.6" r="0.70" fill="#B79F00"/>
<circle cx="294.8" cy="345.9" r="0.70" fill="#B79F00"/>
<circle cx="290.0" cy="335.0" r="0.70" fill="#B79F00"/>
<circle cx="270.40" cy="320.10" r="1.40" fill="#F564E3"/>
<circle cx="310.90" cy="373.90" r="1.00" fill="#F564E3"/>
<circle cx="291.50" cy="354.10" r="1.30" fill="#619CFF"/>
<circle cx="255.90" cy="361.10" r="1.00" fill="#00BFC4"/>
<circle cx="238.60" cy="355.20" r="0.90" fill="#B79F00"/>
<circle cx="282.30" cy="355.20" r="1.00" fill="#00BA38"/>
<circle cx="261.50" cy="320.00" r="1.00" fill="#F8766D"/>
<text x="258.51" y="311.26" font-size="11.50" style="font-weight:bold;" fill="#000">0</text>
<text x="264.19" y="325.90" font-size="11.50" style="font-weight:bold;" fill="#000">5</text>
<text x="240.21" y="355.86" font-size="11.50" style="font-weight:bold;" fill="#000">0</text>
<text x="328.33" y="307.91" font-size="11.50" style="font-weight:bold;" fill="#000">2</text>
<text x="335.70" y="353.96" font-size="11.50" style="font-weight:bold;" fill="#000">1</text>
<text x="287.98" y="378.85" font-size="11.50" style="font-weight:bold;" fill="#000">3</text>
<text x="299.45" y="395.66" font-size="11.50" style="font-weight:bold;" fill="#000">4</text>
<line x1="77.10" y1="282.40" x2="77.10" y2="400.90" stroke="#000" stroke-width="1.50"/>
<line x1="71.60" y1="298.20" x2="77.10" y2="298.20" stroke="#000" stroke-width="1.30"/>
<text x="55.44" y="302.33" font-size="12.00" style="font-weight:bold;" fill="#000">10</text>
<line x1="71.60" y1="334.90" x2="77.10" y2="334.90" stroke="#000" stroke-width="1.30"/>
<text x="62.12" y="339.03" font-size="12.00" style="font-weight:bold;" fill="#000">0</text>
<line x1="71.60" y1="371.70" x2="77.10" y2="371.70" stroke="#000" stroke-width="1.30"/>
<text x="51.45" y="375.83" font-size="12.00" style="font-weight:bold;" fill="#000">-10</text>
<line x1="76.40" y1="400.20" x2="213.90" y2="400.20" stroke="#000" stroke-width="1.50"/>
<line x1="79.90" y1="400.20" x2="79.90" y2="404.70" stroke="#000" stroke-width="1.30"/>
<text x="73.69" y="417.20" font-size="11.00" style="font-weight:bold;" fill="#000">-15</text>
<line x1="104.10" y1="400.20" x2="104.10" y2="404.70" stroke="#000" stroke-width="1.30"/>
<text x="97.96" y="417.20" font-size="11.00" style="font-weight:bold;" fill="#000">-10</text>
<line x1="130.20" y1="400.20" x2="130.20" y2="404.70" stroke="#000" stroke-width="1.30"/>
<text x="127.05" y="417.20" font-size="11.00" style="font-weight:bold;" fill="#000">-5</text>
<line x1="156.20" y1="400.20" x2="156.20" y2="404.70" stroke="#000" stroke-width="1.30"/>
<text x="153.15" y="417.20" font-size="11.00" style="font-weight:bold;" fill="#000">0</text>
<line x1="182.20" y1="400.20" x2="182.20" y2="404.70" stroke="#000" stroke-width="1.30"/>
<text x="179.13" y="417.20" font-size="11.00" style="font-weight:bold;" fill="#000">5</text>
<line x1="208.20" y1="400.20" x2="208.20" y2="404.70" stroke="#000" stroke-width="1.30"/>
<text x="201.96" y="417.20" font-size="11.00" style="font-weight:bold;" fill="#000">10</text>
<line x1="222.40" y1="399.70" x2="360.50" y2="396.80" stroke="#000" stroke-width="1.50"/>
<line x1="224.70" y1="399.65" x2="224.70" y2="404.15" stroke="#000" stroke-width="1.30"/>
<text x="218.49" y="415.75" font-size="11.00" style="font-weight:bold;" fill="#000">-15</text>
<line x1="251.20" y1="399.10" x2="251.20" y2="403.60" stroke="#000" stroke-width="1.30"/>
<text x="245.06" y="415.20" font-size="11.00" style="font-weight:bold;" fill="#000">-10</text>
<line x1="277.20" y1="398.55" x2="277.20" y2="403.05" stroke="#000" stroke-width="1.30"/>
<text x="274.05" y="414.65" font-size="11.00" style="font-weight:bold;" fill="#000">-5</text>
<line x1="302.80" y1="398.01" x2="302.80" y2="402.51" stroke="#000" stroke-width="1.30"/>
<text x="299.75" y="414.11" font-size="11.00" style="font-weight:bold;" fill="#000">0</text>
<line x1="328.80" y1="397.47" x2="328.80" y2="401.97" stroke="#000" stroke-width="1.30"/>
<text x="325.73" y="413.57" font-size="11.00" style="font-weight:bold;" fill="#000">5</text>
<line x1="354.80" y1="396.92" x2="354.80" y2="401.42" stroke="#000" stroke-width="1.30"/>
<text x="348.56" y="413.02" font-size="11.00" style="font-weight:bold;" fill="#000">10</text>
<text x="82.95" y="292.80" font-size="15.00" style="font-weight:bold;" fill="#000" textLength="42.41" lengthAdjust="spacingAndGlyphs">Sham</text>
<text x="226.87" y="292.80" font-size="15.00" style="font-weight:bold;" fill="#000" textLength="58.72" lengthAdjust="spacingAndGlyphs">UUO D7</text>
<text transform="translate(50.60,363.80) rotate(-90)" x="-0.78" y="0" font-size="13.00" style="font-weight:bold;" fill="#000" textLength="52.91" lengthAdjust="spacingAndGlyphs">UMAP_2</text>
<text x="128.42" y="431.80" font-size="13.00" style="font-weight:bold;" fill="#000" textLength="52.44" lengthAdjust="spacingAndGlyphs">UMAP_1</text>
<text x="275.02" y="431.80" font-size="13.00" style="font-weight:bold;" fill="#000" textLength="52.64" lengthAdjust="spacingAndGlyphs">UMAP_1</text>
<circle cx="423.6" cy="294.90" r="4.6" fill="#F8766D"/>
<text x="441.13" y="299.90" font-size="13.50" style="" fill="#000" textLength="156.20" lengthAdjust="spacingAndGlyphs">0: tubular epithelial cells</text>
<circle cx="423.6" cy="313.90" r="4.6" fill="#B79F00"/>
<text x="440.58" y="318.90" font-size="13.50" style="" fill="#000" textLength="208.26" lengthAdjust="spacingAndGlyphs">1: Macrophage &amp; Dendritic cells</text>
<circle cx="423.6" cy="332.60" r="4.6" fill="#00BA38"/>
<text x="440.97" y="337.60" font-size="13.50" style="" fill="#000" textLength="102.26" lengthAdjust="spacingAndGlyphs">2: Lymphocytes</text>
<circle cx="423.6" cy="351.20" r="4.6" fill="#00BFC4"/>
<text x="441.14" y="356.20" font-size="13.50" style="" fill="#000" textLength="122.39" lengthAdjust="spacingAndGlyphs">3: Endothelial cells</text>
<circle cx="423.6" cy="370.20" r="4.6" fill="#619CFF"/>
<text x="441.36" y="375.20" font-size="13.50" style="" fill="#000" textLength="90.57" lengthAdjust="spacingAndGlyphs">4: Neutrophils</text>
<circle cx="423.6" cy="389.00" r="4.6" fill="#F564E3"/>
<text x="441.11" y="394.00" font-size="13.50" style="" fill="#000" textLength="100.82" lengthAdjust="spacingAndGlyphs">5: Stromal cells</text>
<text x="0.90" y="432.40" font-size="18.00" style="font-weight:bold;" fill="#000">D</text>
<text x="24.67" y="432.40" font-size="18.00" style="font-weight:bold;" fill="#000" textLength="65.25" lengthAdjust="spacingAndGlyphs">DotPlot</text>
<line x1="25.20" y1="445.80" x2="25.20" y2="596.30" stroke="#000" stroke-width="1.50"/>
<line x1="20.70" y1="458.60" x2="25.20" y2="458.60" stroke="#000" stroke-width="1.30"/>
<text x="11.32" y="462.57" font-size="11.70" style="font-weight:bold;" fill="#000">5</text>
<line x1="20.70" y1="483.20" x2="25.20" y2="483.20" stroke="#000" stroke-width="1.30"/>
<text x="11.06" y="487.22" font-size="11.70" style="font-weight:bold;" fill="#000">4</text>
<line x1="20.70" y1="507.80" x2="25.20" y2="507.80" stroke="#000" stroke-width="1.30"/>
<text x="11.42" y="511.82" font-size="11.70" style="font-weight:bold;" fill="#000">3</text>
<line x1="20.70" y1="532.50" x2="25.20" y2="532.50" stroke="#000" stroke-width="1.30"/>
<text x="11.46" y="536.58" font-size="11.70" style="font-weight:bold;" fill="#000">2</text>
<line x1="20.70" y1="557.10" x2="25.20" y2="557.10" stroke="#000" stroke-width="1.30"/>
<text x="11.32" y="561.12" font-size="11.70" style="font-weight:bold;" fill="#000">1</text>
<line x1="20.70" y1="581.70" x2="25.20" y2="581.70" stroke="#000" stroke-width="1.30"/>
<text x="11.47" y="585.73" font-size="11.70" style="font-weight:bold;" fill="#000">0</text>
<line x1="24.50" y1="595.60" x2="157.10" y2="595.60" stroke="#000" stroke-width="1.60"/>
<line x1="159.70" y1="596.20" x2="293.00" y2="596.20" stroke="#000" stroke-width="1.60"/>
<text transform="translate(10.40,541.90) rotate(-90)" x="-0.87" y="0" font-size="12.80" style="font-weight:bold;" fill="#000" textLength="46.24" lengthAdjust="spacingAndGlyphs">Identify</text>
<circle cx="38.50" cy="458.60" r="2.10" fill="#FF0A1E"/>
<circle cx="62.70" cy="458.60" r="2.50" fill="#E6004E"/>
<circle cx="87.40" cy="458.60" r="0.50" fill="#FF0A1E"/>
<circle cx="112.00" cy="458.60" r="0.35" fill="#D0C8D8"/>
<circle cx="136.60" cy="458.60" r="0.60" fill="#9A14DC"/>
<circle cx="38.50" cy="483.20" r="0.55" fill="#B070F0"/>
<circle cx="62.70" cy="483.20" r="0.70" fill="#5A30F5"/>
<circle cx="87.40" cy="483.20" r="0.55" fill="#B070F0"/>
<circle cx="112.00" cy="483.20" r="0.35" fill="#D0C8D8"/>
<circle cx="136.60" cy="483.20" r="0.55" fill="#B070F0"/>
<circle cx="38.50" cy="507.80" r="0.55" fill="#B070F0"/>
<circle cx="62.70" cy="507.80" r="1.60" fill="#9A14DC"/>
<circle cx="87.40" cy="507.80" r="0.55" fill="#B070F0"/>
<circle cx="112.00" cy="507.80" r="0.35" fill="#D0C8D8"/>
<circle cx="136.60" cy="507.80" r="0.70" fill="#9A14DC"/>
<circle cx="38.50" cy="532.50" r="0.55" fill="#B070F0"/>
<circle cx="62.70" cy="532.50" r="0.80" fill="#5A30F5"/>
<circle cx="87.40" cy="532.50" r="0.55" fill="#B070F0"/>
<circle cx="112.00" cy="532.50" r="0.35" fill="#D0C8D8"/>
<circle cx="136.60" cy="532.50" r="1.30" fill="#E6004E"/>
<circle cx="38.50" cy="557.10" r="0.55" fill="#B070F0"/>
<circle cx="62.70" cy="557.10" r="3.50" fill="#E6004E"/>
<circle cx="87.40" cy="557.10" r="0.55" fill="#B070F0"/>
<circle cx="112.00" cy="557.10" r="0.35" fill="#D0C8D8"/>
<circle cx="136.60" cy="557.10" r="1.80" fill="#E6004E"/>
<circle cx="38.50" cy="581.70" r="0.55" fill="#B070F0"/>
<circle cx="62.70" cy="581.70" r="2.30" fill="#9A14DC"/>
<circle cx="87.40" cy="581.70" r="0.50" fill="#D0107A"/>
<circle cx="112.00" cy="581.70" r="0.35" fill="#D0C8D8"/>
<circle cx="136.60" cy="581.70" r="0.40" fill="#5A30F5"/>
<circle cx="177.20" cy="458.70" r="0.60" fill="#FF0A1E"/>
<circle cx="202.00" cy="458.70" r="2.20" fill="#9A14DC"/>
<circle cx="226.50" cy="458.70" r="0.50" fill="#D0107A"/>
<circle cx="251.30" cy="458.70" r="0.35" fill="#D0C8D8"/>
<circle cx="275.20" cy="458.70" r="0.60" fill="#9A14DC"/>
<circle cx="177.20" cy="483.30" r="0.55" fill="#B070F0"/>
<circle cx="202.00" cy="483.30" r="0.50" fill="#5A30F5"/>
<circle cx="226.50" cy="483.30" r="0.55" fill="#B070F0"/>
<circle cx="251.30" cy="483.30" r="0.35" fill="#D0C8D8"/>
<circle cx="275.20" cy="483.30" r="0.55" fill="#B070F0"/>
<circle cx="177.20" cy="507.90" r="0.55" fill="#B070F0"/>
<circle cx="202.00" cy="507.90" r="0.90" fill="#9A14DC"/>
<circle cx="226.50" cy="507.90" r="0.55" fill="#B070F0"/>
<circle cx="251.30" cy="507.90" r="0.35" fill="#D0C8D8"/>
<circle cx="275.20" cy="507.90" r="0.60" fill="#9A14DC"/>
<circle cx="177.20" cy="532.60" r="0.55" fill="#B070F0"/>
<circle cx="202.00" cy="532.60" r="0.80" fill="#5A30F5"/>
<circle cx="226.50" cy="532.60" r="0.55" fill="#B070F0"/>
<circle cx="251.30" cy="532.60" r="0.35" fill="#D0C8D8"/>
<circle cx="275.20" cy="532.60" r="0.90" fill="#FF0A1E"/>
<circle cx="177.20" cy="557.20" r="0.55" fill="#B070F0"/>
<circle cx="202.00" cy="557.20" r="3.30" fill="#FF0A1E"/>
<circle cx="226.50" cy="557.20" r="0.55" fill="#B070F0"/>
<circle cx="251.30" cy="557.20" r="0.35" fill="#D0C8D8"/>
<circle cx="275.20" cy="557.20" r="1.30" fill="#E6004E"/>
<circle cx="177.20" cy="581.80" r="0.55" fill="#B070F0"/>
<circle cx="202.00" cy="581.80" r="1.50" fill="#9A14DC"/>
<circle cx="226.50" cy="581.80" r="0.50" fill="#FF0A1E"/>
<circle cx="251.30" cy="581.80" r="0.35" fill="#D0C8D8"/>
<circle cx="275.20" cy="581.80" r="0.40" fill="#5A30F5"/>
<text transform="translate(42.53,621.70) rotate(-90)" x="-0.59" y="0" font-size="10.40" style="font-weight:bold" fill="#000" textLength="23.83" lengthAdjust="spacingAndGlyphs">P2rx1</text>
<text transform="translate(67.13,621.70) rotate(-90)" x="-0.58" y="0" font-size="10.40" style="font-weight:bold" fill="#000" textLength="23.63" lengthAdjust="spacingAndGlyphs">P2rx4</text>
<text transform="translate(91.58,621.70) rotate(-90)" x="-0.59" y="0" font-size="10.40" style="font-weight:bold" fill="#000" textLength="23.83" lengthAdjust="spacingAndGlyphs">P2rx5</text>
<text transform="translate(116.18,621.70) rotate(-90)" x="-0.59" y="0" font-size="10.40" style="font-weight:bold" fill="#000" textLength="23.90" lengthAdjust="spacingAndGlyphs">P2rx6</text>
<text transform="translate(140.83,621.70) rotate(-90)" x="-0.59" y="0" font-size="10.40" style="font-weight:bold" fill="#000" textLength="23.98" lengthAdjust="spacingAndGlyphs">P2rx7</text>
<text transform="translate(181.63,621.70) rotate(-90)" x="-0.59" y="0" font-size="10.40" style="font-weight:bold" fill="#000" textLength="23.83" lengthAdjust="spacingAndGlyphs">P2rx1</text>
<text transform="translate(205.53,621.70) rotate(-90)" x="-0.58" y="0" font-size="10.40" style="font-weight:bold" fill="#000" textLength="23.63" lengthAdjust="spacingAndGlyphs">P2rx4</text>
<text transform="translate(230.38,621.70) rotate(-90)" x="-0.59" y="0" font-size="10.40" style="font-weight:bold" fill="#000" textLength="23.83" lengthAdjust="spacingAndGlyphs">P2rx5</text>
<text transform="translate(254.78,621.70) rotate(-90)" x="-0.59" y="0" font-size="10.40" style="font-weight:bold" fill="#000" textLength="23.90" lengthAdjust="spacingAndGlyphs">P2rx6</text>
<text transform="translate(279.33,621.70) rotate(-90)" x="-0.59" y="0" font-size="10.40" style="font-weight:bold" fill="#000" textLength="23.98" lengthAdjust="spacingAndGlyphs">P2rx7</text>
<text x="63.94" y="636.30" font-size="13.00" style="font-weight:bold;" fill="#000" textLength="53.79" lengthAdjust="spacingAndGlyphs">Features</text>
<text x="206.14" y="636.30" font-size="13.00" style="font-weight:bold;" fill="#000" textLength="53.90" lengthAdjust="spacingAndGlyphs">Features</text>
<text x="63.35" y="453.80" font-size="15.00" style="font-weight:bold;" fill="#000" textLength="42.72" lengthAdjust="spacingAndGlyphs">Sham</text>
<text x="190.47" y="453.80" font-size="15.00" style="font-weight:bold;" fill="#000" textLength="58.82" lengthAdjust="spacingAndGlyphs">UUO D7</text>
<text x="261.95" y="446.70" font-size="10.50" style="font-weight:bold;" fill="#000" textLength="85.04" lengthAdjust="spacingAndGlyphs">avg.exp.scaled</text>
<defs><linearGradient id="cb295" x1="0" y1="1" x2="0" y2="0"><stop offset="0" stop-color="#3A00FF"/><stop offset="0.35" stop-color="#9C00C0"/><stop offset="0.68" stop-color="#E00058"/><stop offset="1" stop-color="#FF0008"/></linearGradient></defs>
<rect x="295.00" y="452.90" width="8.90" height="44.00" fill="url(#cb295)"/>
<line x1="295.00" y1="466.10" x2="296.80" y2="466.10" stroke="#fff" stroke-width="0.60" opacity="0.7"/>
<line x1="302.10" y1="466.10" x2="303.90" y2="466.10" stroke="#fff" stroke-width="0.60" opacity="0.7"/>
<line x1="295.00" y1="480.40" x2="296.80" y2="480.40" stroke="#fff" stroke-width="0.60" opacity="0.7"/>
<line x1="302.10" y1="480.40" x2="303.90" y2="480.40" stroke="#fff" stroke-width="0.60" opacity="0.7"/>
<line x1="295.00" y1="494.30" x2="296.80" y2="494.30" stroke="#fff" stroke-width="0.60" opacity="0.7"/>
<line x1="302.10" y1="494.30" x2="303.90" y2="494.30" stroke="#fff" stroke-width="0.60" opacity="0.7"/>
<text x="312.02" y="456.14" font-size="11.00" style="font-weight:bold;" fill="#000">2</text>
<text x="311.71" y="469.88" font-size="11.00" style="font-weight:bold;" fill="#000">1</text>
<text x="311.96" y="484.19" font-size="11.00" style="font-weight:bold;" fill="#000">0</text>
<text x="308.97" y="498.08" font-size="11.00" style="font-weight:bold;" fill="#000">-1</text>
<text x="282.31" y="522.10" font-size="11.00" style="font-weight:bold;" fill="#000" textLength="41.78" lengthAdjust="spacingAndGlyphs">pct.exp</text>
<circle cx="301.1" cy="536.10" r="0.50" fill="#999"/>
<circle cx="301.1" cy="544.60" r="0.95" fill="#000"/>
<circle cx="301.1" cy="552.60" r="1.80" fill="#000"/>
<circle cx="301.1" cy="560.80" r="2.60" fill="#000"/>
<circle cx="301.1" cy="569.20" r="3.30" fill="#000"/>
<text x="310.46" y="539.19" font-size="11.00" style="font-weight:bold;" fill="#000">0</text>
<text x="307.11" y="552.99" font-size="11.00" style="font-weight:bold;" fill="#000">10</text>
<text x="307.42" y="563.79" font-size="11.00" style="font-weight:bold;" fill="#000">20</text>
<text x="307.55" y="574.28" font-size="11.00" style="font-weight:bold;" fill="#000">30</text>
<text x="378.00" y="432.30" font-size="18.00" style="font-weight:bold;" fill="#000">E</text>
<text x="400.27" y="432.30" font-size="18.00" style="font-weight:bold;" fill="#000" textLength="65.25" lengthAdjust="spacingAndGlyphs">DotPlot</text>
<line x1="355.90" y1="446.20" x2="355.90" y2="596.90" stroke="#000" stroke-width="1.50"/>
<line x1="350.40" y1="458.60" x2="355.90" y2="458.60" stroke="#000" stroke-width="1.30"/>
<text x="341.22" y="462.57" font-size="11.70" style="font-weight:bold;" fill="#000">5</text>
<line x1="350.40" y1="483.10" x2="355.90" y2="483.10" stroke="#000" stroke-width="1.30"/>
<text x="340.96" y="487.12" font-size="11.70" style="font-weight:bold;" fill="#000">4</text>
<line x1="350.40" y1="507.70" x2="355.90" y2="507.70" stroke="#000" stroke-width="1.30"/>
<text x="341.32" y="511.72" font-size="11.70" style="font-weight:bold;" fill="#000">3</text>
<line x1="350.40" y1="532.20" x2="355.90" y2="532.20" stroke="#000" stroke-width="1.30"/>
<text x="341.36" y="536.28" font-size="11.70" style="font-weight:bold;" fill="#000">2</text>
<line x1="350.40" y1="556.60" x2="355.90" y2="556.60" stroke="#000" stroke-width="1.30"/>
<text x="341.22" y="560.62" font-size="11.70" style="font-weight:bold;" fill="#000">1</text>
<line x1="350.40" y1="581.20" x2="355.90" y2="581.20" stroke="#000" stroke-width="1.30"/>
<text x="341.37" y="585.23" font-size="11.70" style="font-weight:bold;" fill="#000">0</text>
<line x1="355.40" y1="596.20" x2="486.90" y2="596.20" stroke="#000" stroke-width="1.60"/>
<line x1="500.50" y1="595.90" x2="633.70" y2="595.90" stroke="#000" stroke-width="1.60"/>
<text transform="translate(336.20,542.20) rotate(-90)" x="-0.87" y="0" font-size="12.80" style="font-weight:bold;" fill="#000" textLength="46.44" lengthAdjust="spacingAndGlyphs">Identify</text>
<circle cx="367.80" cy="458.60" r="1.00" fill="#5A30F5"/>
<circle cx="388.40" cy="458.60" r="0.55" fill="#B070F0"/>
<circle cx="408.70" cy="458.60" r="0.70" fill="#9A14DC"/>
<circle cx="429.30" cy="458.60" r="0.50" fill="#B070F0"/>
<circle cx="449.70" cy="458.60" r="0.60" fill="#9A14DC"/>
<circle cx="470.30" cy="458.60" r="0.60" fill="#9A14DC"/>
<circle cx="367.80" cy="483.10" r="1.80" fill="#D0107A"/>
<circle cx="388.40" cy="483.10" r="0.50" fill="#B070F0"/>
<circle cx="408.70" cy="483.10" r="1.80" fill="#E6004E"/>
<circle cx="429.30" cy="483.10" r="3.30" fill="#FF0A1E"/>
<circle cx="449.70" cy="483.10" r="0.60" fill="#B070F0"/>
<circle cx="470.30" cy="483.10" r="0.60" fill="#9A14DC"/>
<circle cx="367.80" cy="507.70" r="1.40" fill="#B41AB4"/>
<circle cx="388.40" cy="507.70" r="0.55" fill="#B070F0"/>
<circle cx="408.70" cy="507.70" r="0.60" fill="#B070F0"/>
<circle cx="429.30" cy="507.70" r="0.55" fill="#B070F0"/>
<circle cx="449.70" cy="507.70" r="0.55" fill="#B070F0"/>
<circle cx="470.30" cy="507.70" r="0.55" fill="#B070F0"/>
<circle cx="367.80" cy="532.20" r="1.40" fill="#9A14DC"/>
<circle cx="388.40" cy="532.20" r="0.50" fill="#B070F0"/>
<circle cx="408.70" cy="532.20" r="1.90" fill="#D0107A"/>
<circle cx="429.30" cy="532.20" r="0.55" fill="#B070F0"/>
<circle cx="449.70" cy="532.20" r="1.50" fill="#E6004E"/>
<circle cx="470.30" cy="532.20" r="0.50" fill="#9A14DC"/>
<circle cx="367.80" cy="556.60" r="3.10" fill="#E6004E"/>
<circle cx="388.40" cy="556.60" r="0.80" fill="#FF0A1E"/>
<circle cx="408.70" cy="556.60" r="3.00" fill="#E6004E"/>
<circle cx="429.30" cy="556.60" r="2.00" fill="#B41AB4"/>
<circle cx="449.70" cy="556.60" r="2.00" fill="#E6004E"/>
<circle cx="470.30" cy="556.60" r="2.00" fill="#FF0A1E"/>
<circle cx="367.80" cy="581.20" r="0.55" fill="#B070F0"/>
<circle cx="388.40" cy="581.20" r="0.55" fill="#B070F0"/>
<circle cx="408.70" cy="581.20" r="0.55" fill="#B070F0"/>
<circle cx="429.30" cy="581.20" r="0.55" fill="#B070F0"/>
<circle cx="449.70" cy="581.20" r="0.50" fill="#B070F0"/>
<circle cx="470.30" cy="581.20" r="0.70" fill="#9A14DC"/>
<circle cx="513.90" cy="459.70" r="2.00" fill="#9A14DC"/>
<circle cx="534.70" cy="459.70" r="0.55" fill="#B070F0"/>
<circle cx="554.90" cy="459.70" r="0.90" fill="#9A14DC"/>
<circle cx="575.40" cy="459.70" r="0.50" fill="#9A14DC"/>
<circle cx="596.20" cy="459.70" r="0.90" fill="#9A14DC"/>
<circle cx="616.50" cy="459.70" r="0.55" fill="#B070F0"/>
<circle cx="513.90" cy="484.10" r="0.90" fill="#D0107A"/>
<circle cx="534.70" cy="484.10" r="0.50" fill="#B070F0"/>
<circle cx="554.90" cy="484.10" r="0.80" fill="#D0107A"/>
<circle cx="575.40" cy="484.10" r="3.00" fill="#FF0A1E"/>
<circle cx="596.20" cy="484.10" r="0.90" fill="#E6004E"/>
<circle cx="616.50" cy="484.10" r="0.55" fill="#B070F0"/>
<circle cx="513.90" cy="508.20" r="1.80" fill="#D0107A"/>
<circle cx="534.70" cy="508.20" r="0.50" fill="#B070F0"/>
<circle cx="554.90" cy="508.20" r="0.70" fill="#9A14DC"/>
<circle cx="575.40" cy="508.20" r="0.70" fill="#9A14DC"/>
<circle cx="596.20" cy="508.20" r="0.55" fill="#B070F0"/>
<circle cx="616.50" cy="508.20" r="0.50" fill="#B070F0"/>
<circle cx="513.90" cy="532.60" r="1.10" fill="#9A14DC"/>
<circle cx="534.70" cy="532.60" r="0.50" fill="#B070F0"/>
<circle cx="554.90" cy="532.60" r="1.60" fill="#D0107A"/>
<circle cx="575.40" cy="532.60" r="0.55" fill="#B070F0"/>
<circle cx="596.20" cy="532.60" r="1.30" fill="#D0107A"/>
<circle cx="616.50" cy="532.60" r="0.50" fill="#B070F0"/>
<circle cx="513.90" cy="556.80" r="3.20" fill="#E6004E"/>
<circle cx="534.70" cy="556.80" r="0.80" fill="#FF0A1E"/>
<circle cx="554.90" cy="556.80" r="2.40" fill="#E6004E"/>
<circle cx="575.40" cy="556.80" r="2.60" fill="#B41AB4"/>
<circle cx="596.20" cy="556.80" r="1.70" fill="#D0107A"/>
<circle cx="616.50" cy="556.80" r="2.00" fill="#FF0A1E"/>
<circle cx="513.90" cy="581.20" r="0.55" fill="#B070F0"/>
<circle cx="534.70" cy="581.20" r="0.55" fill="#B070F0"/>
<circle cx="554.90" cy="581.20" r="0.55" fill="#B070F0"/>
<circle cx="575.40" cy="581.20" r="0.55" fill="#B070F0"/>
<circle cx="596.20" cy="581.20" r="0.55" fill="#B070F0"/>
<circle cx="616.50" cy="581.20" r="0.55" fill="#B070F0"/>
<text transform="translate(369.29,630.90) rotate(-90)" x="-0.36" y="0" font-size="9.20" style="font-weight:bold" fill="#000" textLength="30.55" lengthAdjust="spacingAndGlyphs">Gsdmd</text>
<text transform="translate(387.99,621.90) rotate(-90)" x="-0.57" y="0" font-size="9.20" style="font-weight:bold" fill="#000" textLength="21.21" lengthAdjust="spacingAndGlyphs">Nlrc4</text>
<text transform="translate(408.16,627.60) rotate(-90)" x="-0.36" y="0" font-size="9.20" style="font-weight:bold" fill="#000" textLength="26.20" lengthAdjust="spacingAndGlyphs">Casp1</text>
<text transform="translate(428.88,622.50) rotate(-90)" x="-0.58" y="0" font-size="9.20" style="font-weight:bold" fill="#000" textLength="22.09" lengthAdjust="spacingAndGlyphs">Nlrp3</text>
<text transform="translate(451.23,622.00) rotate(-90)" x="-0.22" y="0" font-size="9.20" style="font-weight:bold" fill="#000" textLength="21.26" lengthAdjust="spacingAndGlyphs">Aim2</text>
<text transform="translate(473.89,615.30) rotate(-90)" x="-0.60" y="0" font-size="9.20" style="font-weight:bold" fill="#000" textLength="14.87" lengthAdjust="spacingAndGlyphs">Il18</text>
<text transform="translate(517.89,630.90) rotate(-90)" x="-0.36" y="0" font-size="9.20" style="font-weight:bold" fill="#000" textLength="30.55" lengthAdjust="spacingAndGlyphs">Gsdmd</text>
<text transform="translate(537.29,621.90) rotate(-90)" x="-0.57" y="0" font-size="9.20" style="font-weight:bold" fill="#000" textLength="21.21" lengthAdjust="spacingAndGlyphs">Nlrc4</text>
<text transform="translate(556.26,627.60) rotate(-90)" x="-0.36" y="0" font-size="9.20" style="font-weight:bold" fill="#000" textLength="26.20" lengthAdjust="spacingAndGlyphs">Casp1</text>
<text transform="translate(577.38,622.50) rotate(-90)" x="-0.58" y="0" font-size="9.20" style="font-weight:bold" fill="#000" textLength="22.09" lengthAdjust="spacingAndGlyphs">Nlrp3</text>
<text transform="translate(599.83,622.00) rotate(-90)" x="-0.22" y="0" font-size="9.20" style="font-weight:bold" fill="#000" textLength="21.26" lengthAdjust="spacingAndGlyphs">Aim2</text>
<text transform="translate(622.49,615.30) rotate(-90)" x="-0.60" y="0" font-size="9.20" style="font-weight:bold" fill="#000" textLength="14.87" lengthAdjust="spacingAndGlyphs">Il18</text>
<text x="393.92" y="636.30" font-size="13.00" style="font-weight:bold;" fill="#000" textLength="54.72" lengthAdjust="spacingAndGlyphs">Features</text>
<text x="546.94" y="636.30" font-size="13.00" style="font-weight:bold;" fill="#000" textLength="53.59" lengthAdjust="spacingAndGlyphs">Features</text>
<text x="393.34" y="454.70" font-size="15.00" style="font-weight:bold;" fill="#000" textLength="43.14" lengthAdjust="spacingAndGlyphs">Sham</text>
<text x="530.94" y="454.40" font-size="15.00" style="font-weight:bold;" fill="#000" textLength="60.46" lengthAdjust="spacingAndGlyphs">UUO D7</text>
<text x="597.25" y="442.50" font-size="10.50" style="font-weight:bold;" fill="#000" textLength="83.82" lengthAdjust="spacingAndGlyphs">avg.exp.scaled</text>
<defs><linearGradient id="cb649" x1="0" y1="1" x2="0" y2="0"><stop offset="0" stop-color="#3A00FF"/><stop offset="0.35" stop-color="#9C00C0"/><stop offset="0.68" stop-color="#E00058"/><stop offset="1" stop-color="#FF0008"/></linearGradient></defs>
<rect x="649.00" y="452.70" width="8.30" height="44.40" fill="url(#cb649)"/>
<line x1="649.00" y1="468.80" x2="650.80" y2="468.80" stroke="#fff" stroke-width="0.60" opacity="0.7"/>
<line x1="655.50" y1="468.80" x2="657.30" y2="468.80" stroke="#fff" stroke-width="0.60" opacity="0.7"/>
<line x1="649.00" y1="484.10" x2="650.80" y2="484.10" stroke="#fff" stroke-width="0.60" opacity="0.7"/>
<line x1="655.50" y1="484.10" x2="657.30" y2="484.10" stroke="#fff" stroke-width="0.60" opacity="0.7"/>
<text x="660.52" y="458.84" font-size="11.00" style="font-weight:bold;" fill="#000">2</text>
<text x="660.21" y="472.58" font-size="11.00" style="font-weight:bold;" fill="#000">1</text>
<text x="660.46" y="487.89" font-size="11.00" style="font-weight:bold;" fill="#000">0</text>
<text x="632.89" y="522.90" font-size="11.00" style="font-weight:bold;" fill="#000" textLength="42.91" lengthAdjust="spacingAndGlyphs">pct.exp</text>
<circle cx="648.1" cy="535.40" r="0.60" fill="#999"/>
<circle cx="648.1" cy="544.60" r="1.20" fill="#000"/>
<circle cx="648.1" cy="555.00" r="1.80" fill="#000"/>
<circle cx="648.1" cy="565.00" r="2.40" fill="#000"/>
<circle cx="648.1" cy="574.80" r="3.00" fill="#000"/>
<circle cx="648.1" cy="585.90" r="3.50" fill="#000"/>
<text x="660.96" y="537.79" font-size="11.00" style="font-weight:bold;" fill="#000">0</text>
<text x="656.61" y="547.49" font-size="11.00" style="font-weight:bold;" fill="#000">10</text>
<text x="656.92" y="557.79" font-size="11.00" style="font-weight:bold;" fill="#000">20</text>
<text x="657.05" y="568.28" font-size="11.00" style="font-weight:bold;" fill="#000">30</text>
<text x="657.13" y="578.59" font-size="11.00" style="font-weight:bold;" fill="#000">40</text>
<text x="656.96" y="589.69" font-size="11.00" style="font-weight:bold;" fill="#000">50</text>
<text x="1.40" y="653.90" font-size="18.00" style="font-weight:bold;" fill="#000">F</text>
<text x="22.50" y="653.90" font-size="18.00" style="font-weight:bold;" fill="#000" textLength="53.82" lengthAdjust="spacingAndGlyphs">UMAP</text>
<path d="M33.83,734.17 C34.56,733.24 36.98,731.71 38.87,730.48 C40.77,729.25 43.09,727.80 45.20,726.79 C47.31,725.79 49.42,725.05 51.53,724.48 C53.64,723.91 56.06,723.52 57.86,723.36 C59.66,723.21 61.45,723.04 62.31,723.54 C63.17,724.04 63.02,725.28 63.02,726.37 C63.02,727.45 62.31,728.82 62.31,730.05 C62.31,731.28 62.59,732.51 63.02,733.74 C63.45,734.97 63.84,736.27 64.89,737.43 C65.95,738.59 67.88,740.07 69.35,740.69 C70.81,741.30 72.32,741.19 73.68,741.12 C75.05,741.05 76.28,740.10 77.55,740.26 C78.82,740.42 80.99,741.60 81.30,742.06 C81.61,742.52 80.79,742.77 79.43,743.00 C78.06,743.23 74.99,742.97 73.10,743.43 C71.20,743.89 69.95,744.73 68.06,745.75 C66.16,746.76 63.43,748.75 61.73,749.52 C60.03,750.29 59.56,750.69 57.86,750.38 C56.16,750.06 53.64,748.86 51.53,747.63 C49.42,746.41 47.51,744.55 45.20,743.00 C42.90,741.46 39.48,739.53 37.70,738.37 C35.92,737.21 35.18,736.76 34.54,736.06 C33.89,735.36 33.11,735.10 33.83,734.17Z" stroke="#D5D5D5" stroke-width="1.00" fill="#D5D5D5" stroke-linejoin="round"/>
<path d="M77.55,724.48 C77.98,723.09 78.47,721.88 79.43,720.79 C80.38,719.71 81.81,718.35 83.29,717.96 C84.78,717.58 87.08,718.09 88.33,718.48 C89.58,718.86 89.74,719.35 90.79,720.28 C91.85,721.21 93.18,722.96 94.66,724.05 C96.15,725.14 97.81,725.79 99.70,726.79 C101.60,727.80 104.55,728.97 106.03,730.05 C107.51,731.14 108.61,732.31 108.61,733.31 C108.61,734.31 107.30,735.21 106.03,736.06 C104.76,736.90 102.36,737.67 100.99,738.37 C99.62,739.07 98.47,739.64 97.83,740.26 C97.18,740.87 97.77,741.67 97.12,742.06 C96.48,742.45 94.68,742.96 93.96,742.57 C93.24,742.19 93.72,740.52 92.79,739.74 C91.85,738.97 90.13,738.49 88.33,737.94 C86.54,737.40 83.70,737.19 82.00,736.49 C80.30,735.79 79.00,734.97 78.14,733.74 C77.28,732.51 76.94,730.65 76.85,729.11 C76.75,727.57 77.12,725.87 77.55,724.48Z" stroke="#D5D5D5" stroke-width="1.00" fill="#D5D5D5" stroke-linejoin="round"/>
<path d="M68.06,690.35 C69.13,689.79 72.35,689.98 74.50,690.00 C76.65,690.03 79.89,689.96 80.95,690.52 C82.00,691.08 81.81,692.78 80.83,693.35 C79.85,693.92 76.30,693.66 75.09,693.95 C73.88,694.23 73.70,694.16 73.57,695.06 C73.43,695.96 73.92,698.39 74.27,699.35 C74.62,700.31 74.46,700.54 75.67,700.81 C76.89,701.08 79.82,700.87 81.53,700.98 C83.25,701.10 85.40,701.10 85.99,701.50 C86.57,701.90 86.38,703.01 85.05,703.38 C83.72,703.75 79.97,703.87 78.02,703.73 C76.07,703.58 74.35,703.47 73.33,702.52 C72.32,701.58 72.22,699.47 71.92,698.07 C71.63,696.66 72.22,694.91 71.57,694.12 C70.93,693.33 68.64,693.98 68.06,693.35 C67.47,692.72 66.98,690.90 68.06,690.35Z" stroke="#D5D5D5" stroke-width="1.00" fill="#D5D5D5" stroke-linejoin="round"/>
<path d="M70.17,704.07 C70.62,703.63 72.22,703.55 72.74,703.98 C73.27,704.41 72.98,705.84 73.33,706.64 C73.68,707.44 74.76,708.17 74.85,708.79 C74.95,709.40 74.56,710.11 73.92,710.33 C73.27,710.54 71.63,710.69 70.99,710.07 C70.34,709.46 70.19,707.64 70.05,706.64 C69.91,705.64 69.72,704.51 70.17,704.07Z" stroke="#D5D5D5" stroke-width="1.00" fill="#D5D5D5" stroke-linejoin="round"/>
<path d="M146.23,725.85 C147.48,725.28 148.96,725.05 150.57,724.74 C152.17,724.42 153.91,724.16 155.84,723.96 C157.77,723.76 160.06,723.54 162.17,723.54 C164.28,723.54 166.47,723.64 168.50,723.96 C170.53,724.29 172.76,724.87 174.36,725.51 C175.96,726.15 177.03,726.85 178.11,727.82 C179.18,728.80 180.10,730.11 180.80,731.34 C181.51,732.57 182.15,733.91 182.33,735.20 C182.50,736.49 182.56,738.03 181.86,739.06 C181.15,740.09 179.61,740.86 178.11,741.37 C176.60,741.89 174.96,742.15 172.83,742.15 C170.70,742.15 167.64,741.69 165.33,741.37 C163.03,741.06 161.11,740.77 159.00,740.26 C156.89,739.74 154.63,739.00 152.68,738.29 C150.72,737.57 148.89,736.61 147.28,735.97 C145.68,735.33 144.82,734.43 143.06,734.43 C141.31,734.43 138.32,735.46 136.74,735.97 C135.15,736.49 134.63,737.13 133.57,737.51 C132.52,737.90 131.29,738.34 130.41,738.29 C129.53,738.23 128.30,737.76 128.30,737.17 C128.30,736.59 130.78,735.30 130.41,734.77 C130.04,734.24 127.50,734.26 126.07,734.00 C124.64,733.74 122.55,733.54 121.85,733.23 C121.15,732.91 120.95,732.37 121.85,732.11 C122.75,731.85 125.29,731.81 127.24,731.68 C129.20,731.55 131.64,731.53 133.57,731.34 C135.51,731.15 137.26,731.10 138.85,730.57 C140.43,730.04 141.83,728.95 143.06,728.17 C144.30,727.38 144.98,726.42 146.23,725.85Z" stroke="#D5D5D5" stroke-width="1.00" fill="#D5D5D5" stroke-linejoin="round"/>
<path d="M96.65,707.07 C96.85,706.40 98.22,705.71 99.11,705.35 C100.01,705.00 101.17,705.35 102.04,704.93 C102.92,704.50 103.41,703.20 104.39,702.78 C105.37,702.37 107.05,702.22 107.90,702.44 C108.76,702.65 109.55,703.44 109.55,704.07 C109.55,704.70 108.28,705.43 107.90,706.21 C107.53,707.00 108.20,708.17 107.32,708.79 C106.44,709.40 104.19,709.80 102.63,709.90 C101.07,710.00 98.94,709.86 97.94,709.39 C96.95,708.91 96.46,707.74 96.65,707.07Z" stroke="#D5D5D5" stroke-width="1.00" fill="#D5D5D5" stroke-linejoin="round"/>
<path d="M120.80,685.29 C121.17,684.69 122.79,683.43 124.08,682.89 C125.37,682.34 127.05,682.03 128.53,682.03 C130.02,682.03 131.77,682.34 132.99,682.89 C134.20,683.43 135.60,684.62 135.80,685.29 C135.99,685.96 133.88,686.37 134.16,686.92 C134.43,687.46 135.95,688.35 137.44,688.55 C138.92,688.75 141.38,687.97 143.06,688.12 C144.74,688.26 146.03,688.99 147.52,689.40 C149.00,689.82 150.31,690.28 151.97,690.60 C153.63,690.93 155.64,691.10 157.48,691.38 C159.32,691.65 161.13,692.36 162.99,692.23 C164.84,692.10 166.76,691.15 168.61,690.60 C170.47,690.06 172.74,689.17 174.12,688.97 C175.51,688.77 176.74,689.06 176.94,689.40 C177.13,689.75 176.51,690.36 175.29,691.03 C174.08,691.70 171.15,692.56 169.67,693.43 C168.18,694.31 167.68,695.59 166.39,696.26 C165.10,696.94 163.61,696.99 161.93,697.46 C160.25,697.94 158.34,698.68 156.31,699.09 C154.28,699.51 151.21,700.08 149.75,699.95 C148.28,699.82 148.63,698.79 147.52,698.32 C146.41,697.85 144.74,697.39 143.06,697.12 C141.38,696.85 139.29,696.64 137.44,696.69 C135.58,696.75 134.16,697.19 131.93,697.46 C129.70,697.74 126.68,698.32 124.08,698.32 C121.48,698.32 118.00,697.88 116.34,697.46 C114.68,697.05 114.12,696.36 114.12,695.84 C114.12,695.31 115.05,694.62 116.34,694.29 C117.63,693.96 120.00,693.86 121.85,693.86 C123.71,693.86 125.62,694.29 127.48,694.29 C129.33,694.29 131.60,694.35 132.99,693.86 C134.37,693.38 135.97,692.26 135.80,691.38 C135.62,690.49 133.32,689.22 131.93,688.55 C130.54,687.87 129.16,687.69 127.48,687.35 C125.80,687.00 122.97,686.83 121.85,686.49 C120.74,686.14 120.43,685.89 120.80,685.29Z" stroke="#D5D5D5" stroke-width="1.00" fill="#D5D5D5" stroke-linejoin="round"/>
<path d="M153.61,753.81 C153.91,753.24 155.37,754.10 155.96,754.67 C156.54,755.24 156.25,756.88 157.13,757.24 C158.01,757.60 159.86,757.03 161.23,756.81 C162.60,756.60 164.94,755.67 165.33,755.95 C165.72,756.24 164.84,757.88 163.57,758.53 C162.31,759.17 159.28,759.88 157.71,759.81 C156.15,759.74 154.88,759.10 154.20,758.10 C153.52,757.10 153.32,754.38 153.61,753.81Z" stroke="#D5D5D5" stroke-width="1.00" fill="#D5D5D5" stroke-linejoin="round"/>
<path d="M96.18,754.67 C95.99,753.81 97.85,752.95 99.11,752.52 C100.38,752.09 102.44,751.95 103.80,752.09 C105.17,752.24 105.95,753.21 107.32,753.38 C108.69,753.55 110.91,752.84 112.01,753.12 C113.10,753.41 114.08,754.41 113.88,755.10 C113.69,755.78 112.32,756.74 110.83,757.24 C109.35,757.74 106.73,758.03 104.97,758.10 C103.22,758.17 101.75,758.24 100.29,757.67 C98.82,757.10 96.38,755.52 96.18,754.67Z" stroke="#D5D5D5" stroke-width="1.00" fill="#D5D5D5" stroke-linejoin="round"/>
<path d="M112.94,769.67 C113.14,769.00 114.31,767.75 115.52,767.10 C116.73,766.46 118.84,766.14 120.21,765.82 C121.58,765.49 122.55,765.06 123.73,765.13 C124.90,765.20 125.88,766.13 127.24,766.24 C128.61,766.36 130.21,765.67 131.93,765.82 C133.65,765.96 137.17,766.60 137.56,767.10 C137.95,767.60 135.99,768.32 134.27,768.82 C132.56,769.32 129.59,769.69 127.24,770.10 C124.90,770.52 122.36,771.13 120.21,771.30 C118.06,771.48 115.56,771.40 114.35,771.13 C113.14,770.86 112.75,770.35 112.94,769.67Z" stroke="#D5D5D5" stroke-width="1.00" fill="#D5D5D5" stroke-linejoin="round"/>
<path d="M132.28,709.47 C132.75,708.97 134.14,708.86 135.45,708.79 C136.76,708.71 138.96,708.76 140.13,709.04 C141.31,709.33 142.05,709.83 142.48,710.50 C142.91,711.17 142.32,712.29 142.71,713.07 C143.10,713.86 144.18,714.43 144.82,715.22 C145.47,716.00 146.29,716.86 146.58,717.79 C146.87,718.72 146.78,719.93 146.58,720.79 C146.39,721.65 145.99,722.58 145.41,722.94 C144.82,723.29 143.65,723.44 143.06,722.94 C142.48,722.44 142.38,720.79 141.89,719.93 C141.40,719.08 140.92,718.50 140.13,717.79 C139.35,717.08 138.18,716.29 137.20,715.65 C136.23,715.00 135.04,714.57 134.27,713.93 C133.51,713.29 132.97,712.53 132.63,711.79 C132.30,711.04 131.81,709.97 132.28,709.47Z" stroke="#D5D5D5" stroke-width="1.00" fill="#D5D5D5" stroke-linejoin="round"/>
<ellipse cx="130.52" cy="685.54" rx="2.58" ry="1.11" fill="#fff"/>
<path d="M119.98,724.22 C120.13,723.89 120.29,722.76 120.91,722.25 C121.54,721.74 122.67,721.38 123.73,721.13 C124.78,720.89 125.95,720.78 127.24,720.79 C128.53,720.81 129.88,720.95 131.46,721.22 C133.04,721.49 134.98,721.96 136.74,722.42 C138.49,722.88 140.47,723.45 142.01,723.96 C143.55,724.48 145.33,725.25 145.99,725.51" stroke="#D5D5D5" stroke-width="2.40" fill="none" stroke-linecap="round" stroke-linejoin="round"/>
<path d="M120.21,723.36 C120.50,723.65 121.38,724.68 121.97,725.08 C122.55,725.48 123.43,725.65 123.73,725.77" stroke="#D5D5D5" stroke-width="1.80" fill="none" stroke-linecap="round" stroke-linejoin="round"/>
<path d="M100.99,724.48 C101.65,724.29 103.63,723.74 104.97,723.36 C106.32,722.99 107.85,722.52 109.08,722.25 C110.31,721.98 111.81,721.82 112.36,721.74" stroke="#D5D5D5" stroke-width="2.40" fill="none" stroke-linecap="round" stroke-linejoin="round"/>
<path d="M134.63,726.62 L139.90,727.82" stroke="#D5D5D5" stroke-width="1.80" fill="none" stroke-linecap="round" stroke-linejoin="round"/>
<circle cx="140.1" cy="724.3" r="0.70" fill="#D5D5D5"/>
<circle cx="144.9" cy="728.6" r="0.70" fill="#D5D5D5"/>
<circle cx="143.4" cy="728.1" r="0.70" fill="#D5D5D5"/>
<circle cx="123.4" cy="718.3" r="0.70" fill="#D5D5D5"/>
<circle cx="149.1" cy="722.3" r="0.70" fill="#D5D5D5"/>
<circle cx="147.9" cy="710.8" r="0.70" fill="#D5D5D5"/>
<circle cx="135.7" cy="713.6" r="0.70" fill="#D5D5D5"/>
<circle cx="137.8" cy="720.7" r="0.70" fill="#D5D5D5"/>
<circle cx="122.9" cy="713.0" r="0.70" fill="#D5D5D5"/>
<circle cx="130.4" cy="728.0" r="0.70" fill="#D5D5D5"/>
<circle cx="144.1" cy="711.8" r="0.70" fill="#D5D5D5"/>
<circle cx="145.0" cy="711.3" r="0.70" fill="#D5D5D5"/>
<circle cx="139.9" cy="711.1" r="0.70" fill="#D5D5D5"/>
<circle cx="122.6" cy="727.0" r="0.70" fill="#D5D5D5"/>
<circle cx="144.71" cy="710.76" r="0.90" fill="#D5D5D5"/>
<circle cx="149.98" cy="709.21" r="1.20" fill="#D5D5D5"/>
<circle cx="148.69" cy="709.90" r="0.90" fill="#D5D5D5"/>
<circle cx="128.30" cy="718.48" r="0.80" fill="#D5D5D5"/>
<circle cx="131.93" cy="718.90" r="0.80" fill="#D5D5D5"/>
<circle cx="125.02" cy="737.09" r="0.80" fill="#D5D5D5"/>
<circle cx="109.66" cy="751.67" r="0.80" fill="#D5D5D5"/>
<circle cx="102.28" cy="727.22" r="0.90" fill="#D5D5D5"/>
<circle cx="110.48" cy="731.43" r="0.80" fill="#D5D5D5"/>
<circle cx="78.60" cy="710.07" r="1.40" fill="#D5D5D5"/>
<circle cx="127.01" cy="753.72" r="1.00" fill="#D5D5D5"/>
<circle cx="105.44" cy="737.60" r="1.30" fill="#D5D5D5"/>
<path d="M122.5 684.5h0m6 1h0m-58 6h0m92 1h0m2 0h0m-45 2h0m3 0h0m37 0h0m-42 1h0m19 0h0m-6 1h0m3 0h0m5 0h0m18 0h0m-4 1h0m1 2h0m-48 5h0m-33 1h0m-2 1h0m30 0h0m36 4h0m-1 1h0m3 0h0m-5 1h0m7 0h0m1 0h0m-5 2h0m5 0h0m0 1h0m-1 1h0m1 0h0m-1 1h0m1 0h0m4 0h0m-4 1h0m1 0h0m2 0h0m1 1h0m-62 1h0m42 0h0m4 0h0m1 0h0m2 0h0m1 0h0m-11 1h0m8 0h0m5 0h0m-28 1h0m4 0h0m11 0h0m3 0h0m9 0h0m1 0h0m1 0h0m4 0h0m4 0h0m-86 1h0m42 0h0m3 0h0m5 0h0m11 0h0m21 0h0m20 0h0m-108 1h0m1 0h0m4 0h0m5 0h0m58 0h0m24 0h0m9 0h0m7 0h0m-111 1h0m1 0h0m3 0h0m1 0h0m1 0h0m7 0h0m80 0h0m6 0h0m7 0h0m9 0h0m3 0h0m2 0h0m1 0h0m1 0h0m-120 1h0m4 0h0m1 0h0m1 0h0m1 0h0m2 0h0m31 0h0m44 0h0m2 0h0m7 0h0m1 0h0m10 0h0m1 0h0m4 0h0m2 0h0m-117 1h0m1 0h0m1 0h0m4 0h0m5 0h0m6 0h0m23 0h0m10 0h0m63 0h0m1 0h0m2 0h0m1 0h0m3 0h0m1 0h0m3 0h0m5 0h0m1 0h0m-134 1h0m3 0h0m5 0h0m1 0h0m5 0h0m1 0h0m1 0h0m87 0h0m1 0h0m5 0h0m1 0h0m2 0h0m1 0h0m2 0h0m1 0h0m4 0h0m5 0h0m2 0h0m1 0h0m5 0h0m2 0h0m-130 1h0m6 0h0m4 0h0m1 0h0m1 0h0m1 0h0m2 0h0m1 0h0m24 0h0m14 0h0m42 0h0m6 0h0m2 0h0m2 0h0m2 0h0m8 0h0m1 0h0m3 0h0m2 0h0m2 0h0m1 0h0m3 0h0m3 0h0m-136 1h0m1 0h0m9 0h0m7 0h0m83 0h0m2 0h0m2 0h0m5 0h0m1 0h0m1 0h0m1 0h0m1 0h0m2 0h0m1 0h0m1 0h0m2 0h0m12 0h0m2 0h0m1 0h0m1 0h0m-132 1h0m1 0h0m4 0h0m7 0h0m5 0h0m1 0h0m31 0h0m42 0h0m4 0h0m3 0h0m2 0h0m4 0h0m4 0h0m4 0h0m3 0h0m1 0h0m3 0h0m1 0h0m2 0h0m2 0h0m7 0h0m4 0h0m-140 1h0m13 0h0m7 0h0m37 0h0m26 0h0m2 0h0m8 0h0m3 0h0m8 0h0m2 0h0m1 0h0m1 0h0m1 0h0m1 0h0m4 0h0m2 0h0m1 0h0m2 0h0m2 0h0m2 0h0m1 0h0m2 0h0m3 0h0m5 0h0m2 0h0m4 0h0m-141 1h0m2 0h0m1 0h0m1 0h0m7 0h0m2 0h0m1 0h0m2 0h0m2 0h0m45 0h0m24 0h0m8 0h0m13 0h0m7 0h0m1 0h0m2 0h0m2 0h0m5 0h0m11 0h0m4 0h0m-142 1h0m3 0h0m6 0h0m3 0h0m2 0h0m1 0h0m6 0h0m5 0h0m69 0h0m18 0h0m5 0h0m3 0h0m6 0h0m1 0h0m2 0h0m2 0h0m1 0h0m2 0h0m2 0h0m1 0h0m6 0h0m-144 1h0m4 0h0m4 0h0m2 0h0m4 0h0m3 0h0m4 0h0m3 0h0m3 0h0m71 0h0m3 0h0m11 0h0m2 0h0m2 0h0m10 0h0m5 0h0m1 0h0m2 0h0m8 0h0m1 0h0m-140 1h0m4 0h0m7 0h0m5 0h0m4 0h0m2 0h0m1 0h0m1 0h0m27 0h0m71 0h0m1 0h0m1 0h0m5 0h0m9 0h0m2 0h0m1 0h0m-142 1h0m1 0h0m1 0h0m1 0h0m2 0h0m1 0h0m2 0h0m2 0h0m2 0h0m1 0h0m1 0h0m3 0h0m3 0h0m1 0h0m2 0h0m2 0h0m69 0h0m1 0h0m31 0h0m1 0h0m1 0h0m1 0h0m6 0h0m1 0h0m3 0h0m4 0h0m-139 1h0m3 0h0m2 0h0m5 0h0m1 0h0m5 0h0m1 0h0m6 0h0m65 0h0m27 0h0m1 0h0m7 0h0m2 0h0m3 0h0m-125 1h0m1 0h0m4 0h0m8 0h0m3 0h0m3 0h0m1 0h0m1 0h0m99 0h0m1 0h0m7 0h0m5 0h0m2 0h0m-137 1h0m1 0h0m3 0h0m1 0h0m1 0h0m2 0h0m1 0h0m1 0h0m2 0h0m3 0h0m1 0h0m2 0h0m2 0h0m2 0h0m3 0h0m1 0h0m91 0h0m7 0h0m2 0h0m4 0h0m1 0h0m1 0h0m1 0h0m2 0h0m1 0h0m-136 1h0m1 0h0m3 0h0m3 0h0m2 0h0m16 0h0m97 0h0m6 0h0m2 0h0m1 0h0m-129 1h0m1 0h0m1 0h0m1 0h0m2 0h0m2 0h0m1 0h0m3 0h0m4 0h0m1 0h0m1 0h0m4 0h0m7 0h0m2 0h0m2 0h0m-30 1h0m3 0h0m5 0h0m1 0h0m1 0h0m5 0h0m1 0h0m2 0h0m1 0h0m9 0h0m-27 1h0m5 0h0m2 0h0m3 0h0m1 0h0m1 0h0m5 0h0m-13 1h0m9 0h0m3 0h0m-12 1h0m2 0h0m1 0h0m4 0h0m2 0h0m3 0h0m1 0h0m1 0h0m-5 1h0m4 0h0m-10 1h0m7 0h0m1 0h0m-8 1h0m1 0h0m1 0h0m1 0h0m1 0h0m-1 1h0m49 5h0m48 1h0m8 0h0m-62 1h0" stroke="#F6AE9A" stroke-width="1.05" stroke-linecap="square" fill="none"/>
<path d="M129.5 684.5h0m11 4h0m8 3h0m-7 2h0m-23 1h0m36 2h0m3 0h0m-54 8h0m2 5h0m32 2h0m2 0h0m3 0h0m-2 1h0m0 1h0m-1 3h0m1 0h0m1 0h0m1 1h0m2 3h0m-86 3h0m4 0h0m22 1h0m5 0h0m65 0h0m6 0h0m3 0h0m2 0h0m2 0h0m-119 1h0m3 0h0m1 0h0m1 0h0m8 0h0m28 0h0m61 0h0m4 0h0m1 0h0m1 0h0m3 0h0m3 0h0m6 0h0m-113 1h0m4 0h0m3 0h0m84 0h0m1 0h0m12 0h0m12 0h0m-121 1h0m3 0h0m3 0h0m93 0h0m3 0h0m1 0h0m10 0h0m1 0h0m6 0h0m3 0h0m4 0h0m-135 1h0m4 0h0m1 0h0m3 0h0m6 0h0m44 0h0m45 0h0m3 0h0m1 0h0m6 0h0m6 0h0m7 0h0m2 0h0m5 0h0m1 0h0m-134 1h0m1 0h0m1 0h0m8 0h0m97 0h0m3 0h0m1 0h0m3 0h0m8 0h0m1 0h0m1 0h0m1 0h0m2 0h0m-126 1h0m6 0h0m1 0h0m3 0h0m3 0h0m4 0h0m32 0h0m49 0h0m3 0h0m6 0h0m22 0h0m-133 1h0m4 0h0m1 0h0m4 0h0m3 0h0m7 0h0m3 0h0m35 0h0m33 0h0m5 0h0m1 0h0m23 0h0m11 0h0m11 0h0m-143 1h0m5 0h0m4 0h0m3 0h0m4 0h0m71 0h0m9 0h0m2 0h0m1 0h0m1 0h0m6 0h0m8 0h0m10 0h0m5 0h0m1 0h0m4 0h0m9 0h0m-141 1h0m1 0h0m7 0h0m1 0h0m1 0h0m4 0h0m74 0h0m11 0h0m5 0h0m3 0h0m3 0h0m2 0h0m2 0h0m2 0h0m1 0h0m7 0h0m3 0h0m1 0h0m1 0h0m5 0h0m-139 1h0m12 0h0m2 0h0m8 0h0m2 0h0m70 0h0m2 0h0m15 0h0m2 0h0m4 0h0m5 0h0m2 0h0m5 0h0m1 0h0m4 0h0m6 0h0m2 0h0m1 0h0m4 0h0m-146 1h0m12 0h0m1 0h0m4 0h0m3 0h0m3 0h0m5 0h0m68 0h0m4 0h0m1 0h0m13 0h0m7 0h0m6 0h0m5 0h0m5 0h0m4 0h0m3 0h0m-144 1h0m7 0h0m6 0h0m1 0h0m7 0h0m3 0h0m1 0h0m2 0h0m68 0h0m28 0h0m3 0h0m2 0h0m2 0h0m7 0h0m-130 1h0m3 0h0m9 0h0m1 0h0m9 0h0m65 0h0m30 0h0m4 0h0m16 0h0m-134 1h0m3 0h0m1 0h0m2 0h0m4 0h0m4 0h0m1 0h0m4 0h0m67 0h0m26 0h0m6 0h0m4 0h0m1 0h0m5 0h0m-120 1h0m5 0h0m2 0h0m97 0h0m3 0h0m2 0h0m1 0h0m3 0h0m11 0h0m-127 1h0m5 0h0m3 0h0m107 0h0m6 0h0m1 0h0m6 0h0m-135 1h0m1 0h0m2 0h0m1 0h0m1 0h0m3 0h0m22 0h0m97 0h0m4 0h0m-127 1h0m1 0h0m2 0h0m3 0h0m5 0h0m1 0h0m5 0h0m4 0h0m3 0h0m6 0h0m-30 1h0m2 0h0m10 0h0m7 0h0m6 0h0m-24 1h0m2 0h0m1 0h0m1 0h0m2 0h0m12 0h0m-12 1h0m3 0h0m1 0h0m2 0h0m4 0h0m2 0h0m2 0h0m-16 1h0m5 0h0m3 0h0m-7 1h0m6 0h0m4 0h0m-5 1h0m2 0h0m1 0h0m38 6h0m64 3h0m-5 1h0" stroke="#F39276" stroke-width="1.05" stroke-linecap="square" fill="none"/>
<path d="M185.13,729.59 C185.66,728.64 187.29,727.44 188.98,726.26 C190.67,725.08 193.17,723.51 195.27,722.49 C197.37,721.47 199.27,720.75 201.56,720.12 C203.86,719.50 206.73,719.03 209.02,718.72 C211.31,718.41 214.05,717.82 215.31,718.28 C216.58,718.75 216.60,720.34 216.60,721.53 C216.60,722.71 215.53,723.81 215.31,725.38 C215.10,726.96 214.89,729.11 215.31,731.00 C215.74,732.88 216.83,735.51 217.88,736.69 C218.93,737.88 220.13,738.10 221.61,738.10 C223.08,738.10 225.69,737.32 226.73,736.69 C227.78,736.07 227.06,734.63 227.90,734.33 C228.73,734.02 231.01,734.30 231.75,734.85 C232.48,735.41 231.90,736.87 232.33,737.66 C232.75,738.45 234.83,739.12 234.31,739.59 C233.78,740.05 231.08,740.32 229.18,740.46 C227.28,740.61 224.56,740.07 222.89,740.46 C221.22,740.86 220.62,741.88 219.16,742.83 C217.70,743.78 215.84,745.52 214.15,746.16 C212.46,746.80 210.93,746.99 209.02,746.69 C207.12,746.38 204.83,745.50 202.73,744.32 C200.63,743.14 198.53,741.16 196.44,739.59 C194.34,738.01 191.91,736.12 190.14,734.85 C188.38,733.58 186.67,732.84 185.83,731.96 C185.00,731.08 184.61,730.54 185.13,729.59Z" stroke="#D5D5D5" stroke-width="1.00" fill="#D5D5D5" stroke-linejoin="round"/>
<path d="M230.46,718.28 C231.10,717.03 231.76,715.80 233.03,714.95 C234.29,714.10 236.37,713.36 238.04,713.20 C239.71,713.04 241.69,713.39 243.05,713.99 C244.41,714.59 245.55,715.84 246.19,716.79 C246.84,717.74 245.94,718.74 246.89,719.69 C247.85,720.64 250.02,721.40 251.90,722.49 C253.79,723.59 256.62,725.15 258.20,726.26 C259.77,727.37 261.13,728.28 261.34,729.15 C261.56,730.03 260.84,730.73 259.48,731.52 C258.12,732.31 254.66,733.03 253.19,733.89 C251.71,734.75 251.26,735.74 250.62,736.69 C249.98,737.64 250.18,739.10 249.34,739.59 C248.51,740.07 246.23,740.23 245.61,739.59 C244.99,738.94 246.66,736.77 245.61,735.73 C244.56,734.69 241.42,734.15 239.32,733.36 C237.22,732.57 234.60,731.86 233.03,731.00 C231.45,730.13 230.52,729.61 229.88,728.19 C229.24,726.77 229.08,724.14 229.18,722.49 C229.28,720.84 229.82,719.54 230.46,718.28Z" stroke="#D5D5D5" stroke-width="1.00" fill="#D5D5D5" stroke-linejoin="round"/>
<path d="M220.21,683.83 C220.87,683.10 222.93,683.49 224.40,683.39 C225.88,683.29 227.55,683.14 229.06,683.21 C230.58,683.29 232.74,683.29 233.49,683.83 C234.25,684.37 234.35,685.80 233.61,686.46 C232.87,687.12 230.31,687.48 229.06,687.77 C227.82,688.07 226.70,687.70 226.15,688.21 C225.61,688.72 225.70,689.89 225.80,690.84 C225.90,691.79 225.80,693.38 226.73,693.91 C227.67,694.44 229.84,694.01 231.40,694.00 C232.95,693.98 234.74,693.66 236.06,693.82 C237.38,693.98 239.03,694.36 239.32,694.96 C239.61,695.56 239.13,696.88 237.80,697.42 C236.48,697.96 233.14,698.10 231.40,698.21 C229.65,698.31 228.19,697.65 227.32,698.03 C226.44,698.41 226.40,699.86 226.15,700.49 C225.90,701.11 226.29,701.61 225.80,701.80 C225.32,701.99 223.78,702.28 223.24,701.63 C222.69,700.97 222.60,699.07 222.54,697.86 C222.48,696.64 222.89,695.81 222.89,694.35 C222.89,692.89 222.95,690.18 222.54,689.09 C222.13,687.99 220.83,688.65 220.44,687.77 C220.05,686.90 219.55,684.56 220.21,683.83Z" stroke="#D5D5D5" stroke-width="1.00" fill="#D5D5D5" stroke-linejoin="round"/>
<path d="M222.77,702.94 C223.20,702.60 224.83,702.59 225.57,702.77 C226.31,702.94 227.20,703.61 227.20,703.99 C227.20,704.37 226.27,704.91 225.57,705.04 C224.87,705.18 223.47,705.13 223.01,704.78 C222.54,704.43 222.34,703.28 222.77,702.94Z" stroke="#D5D5D5" stroke-width="1.00" fill="#D5D5D5" stroke-linejoin="round"/>
<path d="M273.93,678.66 C274.30,677.97 275.91,676.83 277.19,676.20 C278.47,675.57 279.95,674.96 281.62,674.89 C283.29,674.81 285.74,675.21 287.21,675.76 C288.69,676.32 289.66,677.38 290.48,678.22 C291.29,679.05 291.18,680.26 292.11,680.76 C293.04,681.26 294.50,680.99 296.07,681.20 C297.64,681.40 299.70,681.65 301.55,681.99 C303.39,682.32 305.29,682.86 307.14,683.21 C308.99,683.57 310.79,684.02 312.62,684.09 C314.44,684.16 316.07,684.00 318.09,683.65 C320.11,683.30 322.70,682.34 324.74,681.99 C326.78,681.64 329.03,681.40 330.33,681.55 C331.63,681.70 332.74,682.31 332.54,682.86 C332.35,683.42 330.47,684.05 329.16,684.88 C327.86,685.71 326.58,686.96 324.74,687.86 C322.89,688.77 320.11,689.56 318.09,690.32 C316.07,691.08 314.44,691.79 312.62,692.42 C310.79,693.05 308.79,693.81 307.14,694.09 C305.49,694.36 304.19,694.51 302.71,694.09 C301.24,693.66 299.95,692.04 298.28,691.54 C296.61,691.05 294.90,691.11 292.69,691.11 C290.48,691.11 287.58,691.40 285.00,691.54 C282.42,691.69 279.77,692.06 277.19,691.98 C274.61,691.91 271.15,691.53 269.50,691.11 C267.85,690.68 267.11,689.98 267.29,689.44 C267.46,688.90 269.27,688.42 270.55,687.86 C271.83,687.31 273.83,686.27 274.98,686.11 C276.12,685.95 276.32,686.63 277.42,686.90 C278.53,687.16 279.99,687.60 281.62,687.69 C283.25,687.77 285.87,687.85 287.21,687.42 C288.55,687.00 289.41,685.82 289.66,685.14 C289.91,684.47 289.70,683.77 288.73,683.39 C287.76,683.01 285.39,683.17 283.83,682.86 C282.28,682.56 280.88,681.97 279.41,681.55 C277.93,681.13 275.89,680.80 274.98,680.32 C274.06,679.84 273.56,679.34 273.93,678.66Z" stroke="#D5D5D5" stroke-width="1.00" fill="#D5D5D5" stroke-linejoin="round"/>
<path d="M273.70,717.49 C274.26,716.65 275.83,716.51 277.08,715.92 C278.32,715.32 280.03,714.83 281.15,713.90 C282.28,712.96 283.39,711.50 283.83,710.30 C284.28,709.11 283.27,707.82 283.83,706.71 C284.40,705.60 285.62,704.24 287.21,703.64 C288.81,703.04 291.45,702.94 293.39,703.12 C295.33,703.29 296.83,704.78 298.87,704.69 C300.91,704.61 304.27,702.68 305.63,702.59 C306.98,702.50 307.70,703.48 307.02,704.17 C306.34,704.85 302.34,705.35 301.55,706.71 C300.75,708.07 302.01,710.52 302.25,712.32 C302.48,714.12 301.92,716.21 302.94,717.49 C303.97,718.78 306.15,719.67 308.42,720.04 C310.69,720.40 313.65,719.60 316.58,719.69 C319.51,719.77 323.30,720.17 326.02,720.56 C328.74,720.96 331.07,721.21 332.89,722.05 C334.72,722.90 335.96,724.20 336.97,725.65 C337.98,727.09 338.74,729.02 338.95,730.73 C339.17,732.44 339.05,734.53 338.25,735.90 C337.46,737.28 336.43,738.37 334.17,738.97 C331.92,739.57 328.35,739.50 324.74,739.50 C321.12,739.50 315.92,739.24 312.50,738.97 C309.08,738.71 306.73,738.43 304.23,737.92 C301.72,737.41 299.95,736.42 297.47,735.90 C294.98,735.39 291.80,735.12 289.31,734.85 C286.82,734.59 284.36,734.41 282.55,734.33 C280.75,734.24 279.62,734.66 278.47,734.33 C277.33,733.99 276.26,733.07 275.68,732.31 C275.09,731.55 274.18,730.45 274.98,729.77 C275.77,729.08 278.51,728.70 280.45,728.19 C282.40,727.68 284.71,727.12 286.63,726.70 C288.55,726.28 290.86,726.00 291.99,725.65 C293.12,725.30 293.60,725.02 293.39,724.60 C293.18,724.17 291.84,723.53 290.71,723.10 C289.58,722.68 287.54,722.48 286.63,722.05 C285.72,721.63 286.15,720.65 285.23,720.56 C284.32,720.47 282.51,721.28 281.15,721.53 C279.79,721.78 278.32,722.14 277.08,722.05 C275.83,721.97 274.26,721.76 273.70,721.00 C273.13,720.24 273.13,718.34 273.70,717.49Z" stroke="#D5D5D5" stroke-width="1.00" fill="#D5D5D5" stroke-linejoin="round"/>
<path d="M249.57,703.55 C249.48,702.93 250.74,701.65 251.79,700.92 C252.84,700.19 254.70,699.83 255.87,699.17 C257.03,698.51 257.81,697.37 258.78,696.98 C259.75,696.58 260.96,696.58 261.69,696.80 C262.43,697.02 263.11,697.68 263.21,698.29 C263.31,698.91 262.63,699.76 262.28,700.49 C261.93,701.22 261.98,702.02 261.11,702.68 C260.24,703.34 258.49,704.10 257.03,704.43 C255.58,704.77 253.61,704.84 252.37,704.69 C251.13,704.55 249.67,704.18 249.57,703.55Z" stroke="#D5D5D5" stroke-width="1.00" fill="#D5D5D5" stroke-linejoin="round"/>
<path d="M249.46,752.65 C249.26,752.07 251.11,751.26 252.37,750.90 C253.63,750.53 255.67,750.68 257.03,750.46 C258.39,750.24 259.17,749.58 260.53,749.58 C261.89,749.58 263.89,750.02 265.19,750.46 C266.49,750.90 268.24,751.55 268.34,752.21 C268.43,752.87 267.27,753.96 265.77,754.40 C264.28,754.84 261.40,754.84 259.36,754.84 C257.32,754.84 255.19,754.77 253.54,754.40 C251.89,754.04 249.65,753.23 249.46,752.65Z" stroke="#D5D5D5" stroke-width="1.00" fill="#D5D5D5" stroke-linejoin="round"/>
<path d="M266.12,768.43 C266.22,767.63 267.09,766.09 268.10,765.36 C269.11,764.63 270.53,764.34 272.18,764.05 C273.83,763.75 276.07,763.75 278.01,763.61 C279.95,763.46 281.89,763.43 283.83,763.17 C285.78,762.91 288.11,762.42 289.66,762.03 C291.21,761.64 291.89,761.05 293.16,760.80 C294.42,760.55 296.01,760.29 297.23,760.54 C298.46,760.79 300.11,761.56 300.50,762.29 C300.89,763.02 300.59,764.27 299.57,764.92 C298.54,765.58 296.36,765.80 294.32,766.24 C292.28,766.68 289.85,767.04 287.33,767.55 C284.81,768.06 281.70,768.82 279.17,769.31 C276.65,769.79 274.12,770.30 272.18,770.45 C270.24,770.59 268.53,770.52 267.52,770.18 C266.51,769.85 266.02,769.23 266.12,768.43Z" stroke="#D5D5D5" stroke-width="1.00" fill="#D5D5D5" stroke-linejoin="round"/>
<path d="M304.23,754.84 C304.03,754.11 306.07,753.31 307.14,753.09 C308.21,752.87 309.86,753.82 310.64,753.53 C311.41,753.23 311.12,751.63 311.80,751.33 C312.48,751.04 314.13,751.41 314.71,751.77 C315.30,752.14 314.31,753.16 315.30,753.53 C316.29,753.89 320.07,753.53 320.66,753.96 C321.24,754.40 320.27,755.72 318.79,756.16 C317.32,756.59 313.55,756.38 311.80,756.59 C310.05,756.81 309.57,757.76 308.31,757.47 C307.04,757.18 304.42,755.57 304.23,754.84Z" stroke="#D5D5D5" stroke-width="1.00" fill="#D5D5D5" stroke-linejoin="round"/>
<path d="M256.10,719.07 C256.55,718.90 257.65,718.25 258.78,718.02 C259.91,717.79 261.50,717.76 262.86,717.67 C264.22,717.58 265.62,717.54 266.94,717.49 C268.26,717.45 270.14,717.42 270.78,717.41" stroke="#D5D5D5" stroke-width="2.60" fill="none" stroke-linecap="round" stroke-linejoin="round"/>
<path d="M257.27,724.33 C257.81,724.49 259.30,724.95 260.53,725.30 C261.75,725.65 263.32,726.10 264.61,726.44 C265.89,726.77 267.62,727.17 268.22,727.31" stroke="#D5D5D5" stroke-width="2.40" fill="none" stroke-linecap="round" stroke-linejoin="round"/>
<circle cx="260.7" cy="716.0" r="0.70" fill="#D5D5D5"/>
<circle cx="266.8" cy="714.8" r="0.70" fill="#D5D5D5"/>
<circle cx="264.7" cy="719.4" r="0.70" fill="#D5D5D5"/>
<circle cx="255.8" cy="721.6" r="0.70" fill="#D5D5D5"/>
<circle cx="255.4" cy="720.5" r="0.70" fill="#D5D5D5"/>
<circle cx="256.0" cy="715.1" r="0.70" fill="#D5D5D5"/>
<circle cx="262.6" cy="726.7" r="0.70" fill="#D5D5D5"/>
<circle cx="257.0" cy="717.2" r="0.70" fill="#D5D5D5"/>
<circle cx="234.19" cy="704.08" r="1.40" fill="#D5D5D5"/>
<circle cx="281.39" cy="751.25" r="1.00" fill="#D5D5D5"/>
<circle cx="258.78" cy="733.89" r="1.30" fill="#D5D5D5"/>
<circle cx="217.30" cy="740.03" r="1.00" fill="#D5D5D5"/>
<circle cx="197.14" cy="734.85" r="0.90" fill="#D5D5D5"/>
<circle cx="248.06" cy="734.85" r="1.00" fill="#D5D5D5"/>
<circle cx="223.82" cy="703.99" r="1.00" fill="#D5D5D5"/>
<path d="M283.5 676.5h0m5 3h0m-6 3h0m21 1h0m-10 2h0m-63 1h0m2 0h0m62 0h0m21 2h0m-44 2h0m8 0h0m7 0h0m22 0h0m-27 1h0m10 0h0m-69 2h0m39 5h0m-7 2h0m-2 1h0m3 0h0m-5 1h0m3 0h0m39 1h0m1 0h0m-7 1h0m2 0h0m2 0h0m5 0h0m1 0h0m-11 1h0m1 0h0m1 0h0m1 0h0m1 0h0m1 0h0m1 0h0m1 0h0m1 0h0m8 0h0m-16 1h0m2 0h0m6 0h0m1 0h0m2 0h0m3 0h0m1 0h0m1 0h0m-17 1h0m1 0h0m1 0h0m5 0h0m4 0h0m4 0h0m-15 1h0m3 0h0m1 0h0m1 0h0m1 0h0m2 0h0m1 0h0m1 0h0m1 0h0m3 0h0m-14 1h0m2 0h0m12 0h0m2 0h0m-13 1h0m1 0h0m1 0h0m4 0h0m3 0h0m1 0h0m4 0h0m-19 1h0m3 0h0m3 0h0m5 0h0m2 0h0m-13 1h0m2 0h0m4 0h0m1 0h0m1 0h0m1 0h0m3 0h0m1 0h0m1 0h0m1 0h0m4 0h0m-62 1h0m48 0h0m4 0h0m5 0h0m1 0h0m-12 1h0m3 0h0m5 0h0m1 0h0m2 0h0m2 0h0m-21 1h0m3 0h0m2 0h0m1 0h0m1 0h0m1 0h0m1 0h0m2 0h0m4 0h0m2 0h0m3 0h0m1 0h0m4 0h0m-42 1h0m5 0h0m3 0h0m2 0h0m7 0h0m2 0h0m1 0h0m1 0h0m2 0h0m1 0h0m3 0h0m3 0h0m1 0h0m1 0h0m2 0h0m4 0h0m2 0h0m-43 1h0m1 0h0m3 0h0m13 0h0m3 0h0m3 0h0m3 0h0m1 0h0m6 0h0m2 0h0m1 0h0m4 0h0m1 0h0m4 0h0m-93 1h0m3 0h0m49 0h0m2 0h0m3 0h0m4 0h0m6 0h0m2 0h0m1 0h0m5 0h0m2 0h0m1 0h0m1 0h0m5 0h0m1 0h0m1 0h0m1 0h0m2 0h0m5 0h0m1 0h0m1 0h0m-102 1h0m39 0h0m14 0h0m1 0h0m21 0h0m4 0h0m4 0h0m1 0h0m3 0h0m1 0h0m1 0h0m1 0h0m1 0h0m1 0h0m1 0h0m2 0h0m1 0h0m1 0h0m6 0h0m6 0h0m-107 1h0m6 0h0m62 0h0m3 0h0m1 0h0m3 0h0m2 0h0m2 0h0m5 0h0m5 0h0m5 0h0m2 0h0m2 0h0m3 0h0m1 0h0m5 0h0m2 0h0m4 0h0m4 0h0m2 0h0m-127 1h0m17 0h0m1 0h0m1 0h0m61 0h0m2 0h0m1 0h0m7 0h0m3 0h0m2 0h0m2 0h0m14 0h0m1 0h0m1 0h0m3 0h0m2 0h0m1 0h0m2 0h0m1 0h0m3 0h0m1 0h0m1 0h0m1 0h0m1 0h0m1 0h0m-122 1h0m3 0h0m7 0h0m16 0h0m57 0h0m1 0h0m1 0h0m3 0h0m4 0h0m3 0h0m1 0h0m2 0h0m1 0h0m1 0h0m5 0h0m4 0h0m3 0h0m5 0h0m3 0h0m1 0h0m2 0h0m1 0h0m2 0h0m1 0h0m-138 1h0m10 0h0m7 0h0m3 0h0m1 0h0m23 0h0m18 0h0m37 0h0m1 0h0m4 0h0m1 0h0m3 0h0m1 0h0m2 0h0m3 0h0m2 0h0m2 0h0m1 0h0m1 0h0m4 0h0m2 0h0m1 0h0m2 0h0m2 0h0m1 0h0m1 0h0m1 0h0m2 0h0m1 0h0m1 0h0m1 0h0m2 0h0m-144 1h0m4 0h0m1 0h0m2 0h0m17 0h0m42 0h0m3 0h0m32 0h0m1 0h0m2 0h0m2 0h0m4 0h0m1 0h0m2 0h0m4 0h0m2 0h0m4 0h0m14 0h0m1 0h0m1 0h0m3 0h0m2 0h0m-140 1h0m1 0h0m4 0h0m2 0h0m35 0h0m7 0h0m3 0h0m14 0h0m2 0h0m2 0h0m30 0h0m2 0h0m5 0h0m2 0h0m1 0h0m2 0h0m1 0h0m1 0h0m1 0h0m2 0h0m1 0h0m1 0h0m1 0h0m2 0h0m2 0h0m2 0h0m1 0h0m1 0h0m4 0h0m1 0h0m2 0h0m4 0h0m-144 1h0m2 0h0m3 0h0m6 0h0m2 0h0m48 0h0m10 0h0m1 0h0m5 0h0m22 0h0m6 0h0m1 0h0m1 0h0m1 0h0m3 0h0m1 0h0m2 0h0m2 0h0m7 0h0m1 0h0m5 0h0m1 0h0m4 0h0m2 0h0m1 0h0m1 0h0m4 0h0m2 0h0m2 0h0m-146 1h0m2 0h0m8 0h0m2 0h0m11 0h0m71 0h0m2 0h0m5 0h0m1 0h0m7 0h0m1 0h0m7 0h0m5 0h0m2 0h0m5 0h0m1 0h0m7 0h0m1 0h0m7 0h0m-146 1h0m7 0h0m4 0h0m7 0h0m2 0h0m2 0h0m2 0h0m53 0h0m14 0h0m1 0h0m1 0h0m2 0h0m2 0h0m4 0h0m1 0h0m2 0h0m1 0h0m3 0h0m2 0h0m8 0h0m2 0h0m2 0h0m2 0h0m1 0h0m2 0h0m1 0h0m1 0h0m2 0h0m2 0h0m1 0h0m1 0h0m4 0h0m6 0h0m1 0h0m2 0h0m-144 1h0m4 0h0m1 0h0m6 0h0m1 0h0m1 0h0m7 0h0m24 0h0m43 0h0m3 0h0m3 0h0m2 0h0m3 0h0m1 0h0m5 0h0m1 0h0m2 0h0m1 0h0m7 0h0m1 0h0m1 0h0m1 0h0m3 0h0m2 0h0m8 0h0m1 0h0m8 0h0m3 0h0m1 0h0m-147 1h0m2 0h0m1 0h0m4 0h0m8 0h0m4 0h0m66 0h0m2 0h0m1 0h0m3 0h0m1 0h0m2 0h0m1 0h0m3 0h0m1 0h0m1 0h0m3 0h0m1 0h0m1 0h0m1 0h0m10 0h0m4 0h0m2 0h0m1 0h0m7 0h0m2 0h0m2 0h0m1 0h0m4 0h0m3 0h0m1 0h0m1 0h0m-147 1h0m1 0h0m5 0h0m87 0h0m1 0h0m1 0h0m1 0h0m1 0h0m3 0h0m7 0h0m2 0h0m1 0h0m1 0h0m4 0h0m1 0h0m2 0h0m3 0h0m3 0h0m6 0h0m2 0h0m1 0h0m2 0h0m2 0h0m1 0h0m4 0h0m4 0h0m4 0h0m-151 1h0m3 0h0m2 0h0m4 0h0m5 0h0m1 0h0m8 0h0m4 0h0m33 0h0m3 0h0m28 0h0m6 0h0m3 0h0m1 0h0m2 0h0m2 0h0m4 0h0m5 0h0m4 0h0m1 0h0m1 0h0m4 0h0m2 0h0m7 0h0m3 0h0m3 0h0m3 0h0m1 0h0m1 0h0m3 0h0m2 0h0m-147 1h0m2 0h0m3 0h0m5 0h0m7 0h0m1 0h0m5 0h0m66 0h0m1 0h0m1 0h0m3 0h0m2 0h0m7 0h0m1 0h0m2 0h0m3 0h0m3 0h0m2 0h0m3 0h0m1 0h0m1 0h0m4 0h0m2 0h0m1 0h0m3 0h0m1 0h0m3 0h0m5 0h0m4 0h0m1 0h0m1 0h0m2 0h0m3 0h0m1 0h0m-146 1h0m9 0h0m4 0h0m74 0h0m7 0h0m2 0h0m2 0h0m5 0h0m2 0h0m1 0h0m2 0h0m3 0h0m3 0h0m1 0h0m2 0h0m1 0h0m4 0h0m1 0h0m1 0h0m2 0h0m6 0h0m7 0h0m2 0h0m3 0h0m1 0h0m-146 1h0m3 0h0m2 0h0m8 0h0m1 0h0m2 0h0m8 0h0m12 0h0m4 0h0m62 0h0m5 0h0m1 0h0m1 0h0m1 0h0m4 0h0m3 0h0m6 0h0m1 0h0m3 0h0m6 0h0m3 0h0m3 0h0m5 0h0m1 0h0m-135 1h0m6 0h0m3 0h0m4 0h0m3 0h0m10 0h0m71 0h0m3 0h0m2 0h0m1 0h0m3 0h0m1 0h0m1 0h0m1 0h0m3 0h0m5 0h0m4 0h0m1 0h0m3 0h0m1 0h0m7 0h0m2 0h0m1 0h0m-144 1h0m6 0h0m9 0h0m1 0h0m3 0h0m2 0h0m1 0h0m3 0h0m8 0h0m2 0h0m3 0h0m1 0h0m76 0h0m1 0h0m9 0h0m1 0h0m2 0h0m7 0h0m7 0h0m1 0h0m-139 1h0m2 0h0m2 0h0m5 0h0m3 0h0m2 0h0m6 0h0m1 0h0m9 0h0m82 0h0m1 0h0m2 0h0m3 0h0m1 0h0m2 0h0m1 0h0m3 0h0m1 0h0m3 0h0m1 0h0m-125 1h0m4 0h0m4 0h0m1 0h0m1 0h0m1 0h0m11 0h0m1 0h0m4 0h0m3 0h0m88 0h0m2 0h0m3 0h0m-127 1h0m13 0h0m9 0h0m1 0h0m8 0h0m-28 1h0m3 0h0m2 1h0m1 0h0m2 0h0m2 0h0m1 1h0m-6 1h0m1 0h0m2 0h0m2 0h0m-3 1h0m2 0h0m103 6h0m-5 2h0m9 0h0m-56 1h0m46 0h0m6 0h0m6 0h0m-4 1h0m-8 1h0m1 1h0" stroke="#F6AE9A" stroke-width="1.05" stroke-linecap="square" fill="none"/>
<path d="M282.5 679.5h0m-3 1h0m8 1h0m2 0h0m37 0h0m2 2h0m-37 2h0m-65 2h0m70 0h0m-7 1h0m2 1h0m10 0h0m15 0h0m3 0h0m-46 1h0m28 0h0m-66 6h0m17 5h0m36 2h0m7 0h0m10 0h0m-15 1h0m1 0h0m1 0h0m3 0h0m7 0h0m1 0h0m2 0h0m-20 1h0m1 0h0m5 0h0m1 0h0m5 0h0m3 0h0m1 0h0m-15 1h0m1 0h0m3 0h0m4 0h0m2 0h0m-12 1h0m2 0h0m4 0h0m3 0h0m1 0h0m1 0h0m-12 1h0m8 0h0m3 0h0m4 0h0m1 0h0m1 0h0m-11 1h0m1 0h0m1 0h0m1 0h0m6 0h0m-10 1h0m4 0h0m2 0h0m4 0h0m-16 1h0m3 0h0m1 0h0m1 0h0m6 0h0m2 0h0m3 0h0m1 0h0m1 0h0m-12 1h0m2 0h0m1 0h0m4 0h0m1 0h0m4 0h0m1 0h0m-17 1h0m1 0h0m4 0h0m6 0h0m1 0h0m-54 1h0m47 0h0m1 0h0m1 0h0m3 0h0m1 0h0m1 0h0m1 0h0m3 0h0m1 0h0m1 0h0m-15 1h0m2 0h0m2 0h0m3 0h0m4 0h0m-57 1h0m54 0h0m6 0h0m-25 1h0m10 0h0m3 0h0m1 0h0m5 0h0m3 0h0m2 0h0m-25 1h0m3 0h0m1 0h0m2 0h0m1 0h0m4 0h0m1 0h0m4 0h0m1 0h0m5 0h0m1 0h0m3 0h0m-91 1h0m64 0h0m4 0h0m2 0h0m3 0h0m1 0h0m1 0h0m4 0h0m2 0h0m3 0h0m4 0h0m1 0h0m1 0h0m17 0h0m-85 1h0m43 0h0m4 0h0m6 0h0m2 0h0m1 0h0m1 0h0m1 0h0m10 0h0m11 0h0m3 0h0m2 0h0m4 0h0m3 0h0m-123 1h0m10 0h0m65 0h0m6 0h0m4 0h0m6 0h0m4 0h0m7 0h0m1 0h0m1 0h0m3 0h0m2 0h0m1 0h0m10 0h0m2 0h0m1 0h0m2 0h0m6 0h0m-125 1h0m8 0h0m1 0h0m23 0h0m7 0h0m1 0h0m4 0h0m40 0h0m5 0h0m8 0h0m2 0h0m1 0h0m5 0h0m6 0h0m4 0h0m1 0h0m2 0h0m3 0h0m4 0h0m1 0h0m-127 1h0m1 0h0m1 0h0m1 0h0m3 0h0m4 0h0m21 0h0m2 0h0m53 0h0m3 0h0m3 0h0m11 0h0m1 0h0m5 0h0m2 0h0m5 0h0m5 0h0m-129 1h0m96 0h0m6 0h0m17 0h0m2 0h0m1 0h0m1 0h0m1 0h0m1 0h0m2 0h0m3 0h0m2 0h0m4 0h0m1 0h0m-139 1h0m101 0h0m2 0h0m2 0h0m5 0h0m15 0h0m2 0h0m1 0h0m1 0h0m4 0h0m1 0h0m4 0h0m1 0h0m-144 1h0m12 0h0m1 0h0m86 0h0m6 0h0m1 0h0m2 0h0m1 0h0m3 0h0m2 0h0m1 0h0m10 0h0m5 0h0m2 0h0m4 0h0m5 0h0m3 0h0m2 0h0m-149 1h0m2 0h0m7 0h0m7 0h0m1 0h0m3 0h0m3 0h0m72 0h0m3 0h0m2 0h0m5 0h0m2 0h0m3 0h0m1 0h0m10 0h0m3 0h0m1 0h0m2 0h0m5 0h0m1 0h0m2 0h0m1 0h0m1 0h0m5 0h0m3 0h0m4 0h0m-138 1h0m4 0h0m6 0h0m4 0h0m42 0h0m29 0h0m5 0h0m1 0h0m3 0h0m7 0h0m2 0h0m1 0h0m1 0h0m2 0h0m1 0h0m1 0h0m1 0h0m2 0h0m4 0h0m2 0h0m2 0h0m2 0h0m4 0h0m1 0h0m4 0h0m3 0h0m1 0h0m4 0h0m-146 1h0m4 0h0m1 0h0m5 0h0m2 0h0m3 0h0m6 0h0m24 0h0m44 0h0m1 0h0m7 0h0m2 0h0m1 0h0m1 0h0m2 0h0m1 0h0m1 0h0m4 0h0m2 0h0m3 0h0m8 0h0m1 0h0m1 0h0m2 0h0m2 0h0m4 0h0m3 0h0m4 0h0m3 0h0m-147 1h0m2 0h0m8 0h0m15 0h0m42 0h0m26 0h0m3 0h0m1 0h0m1 0h0m2 0h0m1 0h0m3 0h0m1 0h0m2 0h0m6 0h0m1 0h0m1 0h0m2 0h0m5 0h0m17 0h0m1 0h0m2 0h0m2 0h0m1 0h0m2 0h0m1 0h0m1 0h0m1 0h0m1 0h0m-151 1h0m3 0h0m7 0h0m1 0h0m1 0h0m13 0h0m3 0h0m64 0h0m2 0h0m2 0h0m6 0h0m1 0h0m2 0h0m1 0h0m4 0h0m3 0h0m6 0h0m10 0h0m2 0h0m1 0h0m1 0h0m2 0h0m3 0h0m1 0h0m1 0h0m5 0h0m2 0h0m2 0h0m-139 1h0m1 0h0m4 0h0m2 0h0m2 0h0m32 0h0m16 0h0m30 0h0m2 0h0m3 0h0m7 0h0m3 0h0m1 0h0m2 0h0m6 0h0m1 0h0m9 0h0m1 0h0m3 0h0m1 0h0m6 0h0m-133 1h0m11 0h0m1 0h0m1 0h0m35 0h0m36 0h0m3 0h0m6 0h0m1 0h0m2 0h0m2 0h0m3 0h0m1 0h0m7 0h0m3 0h0m2 0h0m2 0h0m2 0h0m5 0h0m1 0h0m1 0h0m6 0h0m1 0h0m2 0h0m1 0h0m2 0h0m2 0h0m-144 1h0m8 0h0m1 0h0m4 0h0m7 0h0m70 0h0m14 0h0m4 0h0m5 0h0m3 0h0m7 0h0m2 0h0m2 0h0m1 0h0m1 0h0m1 0h0m3 0h0m10 0h0m5 0h0m-133 1h0m2 0h0m7 0h0m81 0h0m4 0h0m5 0h0m2 0h0m1 0h0m3 0h0m3 0h0m2 0h0m2 0h0m9 0h0m3 0h0m1 0h0m4 0h0m-140 1h0m14 0h0m4 0h0m1 0h0m90 0h0m2 0h0m5 0h0m2 0h0m1 0h0m1 0h0m3 0h0m3 0h0m3 0h0m2 0h0m4 0h0m4 0h0m-126 1h0m2 0h0m1 0h0m8 0h0m8 0h0m5 0h0m76 0h0m4 0h0m3 0h0m2 0h0m1 0h0m5 0h0m-123 1h0m11 0h0m6 0h0m7 0h0m7 0h0m77 0h0m5 0h0m2 0h0m1 0h0m1 0h0m3 0h0m3 0h0m5 0h0m4 0h0m2 0h0m-128 1h0m9 0h0m11 0h0m7 0h0m-33 1h0m22 0h0m-15 1h0m4 0h0m-8 1h0m1 0h0m6 0h0m6 0h0m-10 1h0m9 0h0m-10 1h0m2 0h0m7 0h0m-2 1h0m3 0h0m-3 1h0m51 5h0m48 2h0m4 1h0m-8 1h0m8 0h0m-2 1h0m-18 8h0" stroke="#F39276" stroke-width="1.05" stroke-linecap="square" fill="none"/>
<path d="M364.54,733.19 C365.28,732.22 367.75,730.62 369.68,729.33 C371.61,728.04 373.98,726.52 376.13,725.47 C378.28,724.42 380.43,723.64 382.58,723.04 C384.73,722.44 387.20,722.04 389.04,721.88 C390.87,721.71 392.70,721.53 393.58,722.05 C394.45,722.58 394.29,723.88 394.29,725.02 C394.29,726.16 393.58,727.59 393.58,728.88 C393.58,730.17 393.86,731.45 394.29,732.74 C394.73,734.03 395.13,735.39 396.21,736.60 C397.28,737.81 399.25,739.37 400.75,740.01 C402.24,740.66 403.77,740.54 405.17,740.46 C406.56,740.39 407.82,739.40 409.11,739.57 C410.41,739.73 412.62,740.97 412.94,741.45 C413.26,741.93 412.42,742.20 411.02,742.44 C409.63,742.68 406.50,742.41 404.57,742.89 C402.64,743.37 401.36,744.25 399.43,745.31 C397.50,746.38 394.71,748.46 392.98,749.26 C391.25,750.07 390.77,750.49 389.04,750.16 C387.30,749.83 384.73,748.58 382.58,747.29 C380.43,746.00 378.48,744.06 376.13,742.44 C373.78,740.82 370.29,738.80 368.48,737.59 C366.67,736.38 365.91,735.90 365.26,735.17 C364.60,734.43 363.80,734.16 364.54,733.19Z" stroke="#D5D5D5" stroke-width="1.00" fill="#D5D5D5" stroke-linejoin="round"/>
<path d="M409.11,723.04 C409.55,721.59 410.05,720.32 411.02,719.18 C412.00,718.04 413.45,716.62 414.97,716.22 C416.48,715.81 418.83,716.35 420.11,716.76 C421.38,717.16 421.54,717.67 422.62,718.64 C423.69,719.62 425.05,721.46 426.56,722.59 C428.07,723.73 429.77,724.42 431.70,725.47 C433.63,726.52 436.64,727.74 438.15,728.88 C439.66,730.02 440.78,731.24 440.78,732.29 C440.78,733.34 439.45,734.28 438.15,735.17 C436.86,736.05 434.41,736.86 433.01,737.59 C431.62,738.32 430.44,738.92 429.79,739.57 C429.13,740.21 429.73,741.05 429.07,741.45 C428.41,741.86 426.58,742.39 425.84,741.99 C425.11,741.59 425.60,739.84 424.65,739.03 C423.69,738.22 421.94,737.71 420.11,737.14 C418.27,736.57 415.39,736.35 413.65,735.61 C411.92,734.88 410.59,734.03 409.71,732.74 C408.83,731.45 408.50,729.51 408.40,727.89 C408.30,726.28 408.67,724.49 409.11,723.04Z" stroke="#D5D5D5" stroke-width="1.00" fill="#D5D5D5" stroke-linejoin="round"/>
<path d="M399.43,687.30 C400.53,686.72 403.81,686.91 406.01,686.94 C408.20,686.97 411.50,686.90 412.58,687.48 C413.65,688.07 413.45,689.85 412.46,690.45 C411.46,691.04 407.84,690.77 406.60,691.07 C405.37,691.37 405.19,691.30 405.05,692.24 C404.91,693.18 405.41,695.73 405.77,696.73 C406.12,697.73 405.97,697.97 407.20,698.26 C408.44,698.54 411.42,698.32 413.18,698.44 C414.93,698.56 417.12,698.56 417.72,698.98 C418.31,699.40 418.11,700.56 416.76,700.95 C415.41,701.34 411.58,701.46 409.59,701.31 C407.60,701.16 405.85,701.04 404.81,700.05 C403.77,699.07 403.68,696.85 403.38,695.38 C403.08,693.92 403.68,692.08 403.02,691.25 C402.36,690.43 400.03,691.10 399.43,690.45 C398.84,689.79 398.34,687.89 399.43,687.30Z" stroke="#D5D5D5" stroke-width="1.00" fill="#D5D5D5" stroke-linejoin="round"/>
<path d="M401.58,701.67 C402.04,701.21 403.68,701.13 404.21,701.58 C404.75,702.03 404.45,703.53 404.81,704.36 C405.17,705.20 406.26,705.97 406.36,706.61 C406.46,707.25 406.07,708.00 405.41,708.23 C404.75,708.45 403.08,708.60 402.42,707.96 C401.76,707.31 401.60,705.41 401.46,704.36 C401.33,703.32 401.13,702.13 401.58,701.67Z" stroke="#D5D5D5" stroke-width="1.00" fill="#D5D5D5" stroke-linejoin="round"/>
<path d="M479.14,724.48 C480.41,723.88 481.93,723.64 483.56,723.31 C485.19,722.98 486.97,722.71 488.94,722.50 C490.91,722.29 493.24,722.05 495.39,722.05 C497.54,722.05 499.77,722.16 501.84,722.50 C503.92,722.85 506.19,723.45 507.82,724.12 C509.45,724.79 510.55,725.53 511.64,726.54 C512.74,727.56 513.68,728.94 514.39,730.23 C515.11,731.51 515.77,732.92 515.95,734.27 C516.12,735.61 516.18,737.23 515.47,738.31 C514.75,739.39 513.18,740.19 511.64,740.73 C510.11,741.27 508.44,741.54 506.27,741.54 C504.10,741.54 500.97,741.06 498.62,740.73 C496.27,740.40 494.32,740.10 492.17,739.57 C490.01,739.03 487.70,738.25 485.71,737.50 C483.72,736.75 481.85,735.75 480.22,735.08 C478.58,734.40 477.71,733.46 475.91,733.46 C474.12,733.46 471.07,734.54 469.46,735.08 C467.85,735.61 467.31,736.29 466.23,736.69 C465.16,737.10 463.90,737.56 463.01,737.50 C462.11,737.44 460.86,736.95 460.86,736.33 C460.86,735.72 463.39,734.37 463.01,733.82 C462.63,733.27 460.04,733.28 458.59,733.01 C457.13,732.74 455.00,732.53 454.28,732.20 C453.57,731.87 453.37,731.30 454.28,731.03 C455.20,730.77 457.79,730.72 459.78,730.59 C461.77,730.45 464.26,730.42 466.23,730.23 C468.21,730.03 470.00,729.97 471.61,729.42 C473.22,728.86 474.66,727.73 475.91,726.90 C477.17,726.08 477.86,725.08 479.14,724.48Z" stroke="#D5D5D5" stroke-width="1.00" fill="#D5D5D5" stroke-linejoin="round"/>
<path d="M428.59,704.81 C428.79,704.11 430.18,703.39 431.10,703.02 C432.02,702.64 433.19,703.02 434.09,702.57 C434.98,702.12 435.48,700.76 436.48,700.32 C437.47,699.89 439.19,699.74 440.06,699.96 C440.94,700.19 441.74,701.01 441.74,701.67 C441.74,702.33 440.44,703.09 440.06,703.92 C439.68,704.74 440.36,705.97 439.47,706.61 C438.57,707.25 436.28,707.67 434.69,707.78 C433.09,707.88 430.92,707.73 429.91,707.24 C428.89,706.74 428.39,705.52 428.59,704.81Z" stroke="#D5D5D5" stroke-width="1.00" fill="#D5D5D5" stroke-linejoin="round"/>
<path d="M453.21,682.00 C453.59,681.38 455.24,680.06 456.55,679.49 C457.87,678.92 459.58,678.59 461.10,678.59 C462.61,678.59 464.40,678.92 465.64,679.49 C466.87,680.06 468.30,681.30 468.50,682.00 C468.70,682.71 466.55,683.14 466.83,683.71 C467.11,684.28 468.66,685.21 470.18,685.42 C471.69,685.63 474.20,684.82 475.91,684.97 C477.63,685.12 478.94,685.88 480.45,686.31 C481.97,686.75 483.30,687.23 485.00,687.57 C486.69,687.92 488.74,688.10 490.61,688.38 C492.48,688.66 494.34,689.41 496.23,689.28 C498.12,689.14 500.07,688.14 501.96,687.57 C503.86,687.00 506.17,686.08 507.58,685.87 C508.99,685.66 510.25,685.96 510.45,686.31 C510.65,686.67 510.01,687.32 508.78,688.02 C507.54,688.72 504.55,689.62 503.04,690.54 C501.53,691.45 501.01,692.80 499.69,693.50 C498.38,694.20 496.87,694.26 495.15,694.76 C493.44,695.25 491.49,696.03 489.42,696.46 C487.35,696.90 484.22,697.49 482.72,697.36 C481.23,697.23 481.59,696.15 480.45,695.65 C479.32,695.16 477.63,694.68 475.91,694.40 C474.20,694.11 472.07,693.89 470.18,693.95 C468.28,694.01 466.83,694.47 464.56,694.76 C462.29,695.04 459.20,695.65 456.55,695.65 C453.91,695.65 450.36,695.19 448.67,694.76 C446.97,694.32 446.40,693.60 446.40,693.05 C446.40,692.50 447.35,691.78 448.67,691.43 C449.98,691.09 452.39,690.98 454.28,690.98 C456.18,690.98 458.13,691.43 460.02,691.43 C461.91,691.43 464.22,691.49 465.64,690.98 C467.05,690.48 468.68,689.31 468.50,688.38 C468.32,687.45 465.97,686.12 464.56,685.42 C463.15,684.71 461.73,684.52 460.02,684.16 C458.31,683.80 455.42,683.62 454.28,683.26 C453.15,682.90 452.83,682.63 453.21,682.00Z" stroke="#D5D5D5" stroke-width="1.00" fill="#D5D5D5" stroke-linejoin="round"/>
<path d="M486.67,753.75 C486.97,753.16 488.46,754.05 489.06,754.65 C489.66,755.25 489.36,756.97 490.25,757.35 C491.15,757.72 493.04,757.12 494.44,756.90 C495.83,756.67 498.22,755.70 498.62,756.00 C499.02,756.30 498.12,758.02 496.83,758.69 C495.53,759.37 492.44,760.12 490.85,760.04 C489.26,759.97 487.96,759.29 487.27,758.24 C486.57,757.20 486.37,754.35 486.67,753.75Z" stroke="#D5D5D5" stroke-width="1.00" fill="#D5D5D5" stroke-linejoin="round"/>
<path d="M428.11,754.65 C427.91,753.75 429.81,752.86 431.10,752.41 C432.40,751.96 434.49,751.81 435.88,751.96 C437.27,752.11 438.07,753.13 439.47,753.31 C440.86,753.48 443.13,752.74 444.25,753.04 C445.36,753.34 446.36,754.38 446.16,755.10 C445.96,755.82 444.56,756.82 443.05,757.35 C441.54,757.87 438.87,758.17 437.08,758.24 C435.28,758.32 433.79,758.39 432.30,757.80 C430.80,757.20 428.31,755.55 428.11,754.65Z" stroke="#D5D5D5" stroke-width="1.00" fill="#D5D5D5" stroke-linejoin="round"/>
<path d="M445.20,770.37 C445.40,769.66 446.60,768.35 447.83,767.67 C449.07,767.00 451.22,766.67 452.61,766.33 C454.00,765.98 455.00,765.53 456.20,765.61 C457.39,765.68 458.39,766.66 459.78,766.78 C461.17,766.90 462.81,766.18 464.56,766.33 C466.31,766.48 469.90,767.15 470.30,767.67 C470.69,768.20 468.70,768.95 466.95,769.47 C465.20,769.99 462.17,770.38 459.78,770.82 C457.39,771.25 454.80,771.89 452.61,772.07 C450.42,772.25 447.87,772.18 446.64,771.89 C445.40,771.61 445.00,771.07 445.20,770.37Z" stroke="#D5D5D5" stroke-width="1.00" fill="#D5D5D5" stroke-linejoin="round"/>
<path d="M464.92,707.33 C465.40,706.80 466.81,706.68 468.15,706.61 C469.48,706.53 471.73,706.58 472.93,706.88 C474.12,707.18 474.88,707.70 475.32,708.41 C475.75,709.11 475.16,710.28 475.55,711.10 C475.95,711.92 477.05,712.52 477.71,713.34 C478.36,714.17 479.20,715.07 479.50,716.04 C479.80,717.01 479.70,718.28 479.50,719.18 C479.30,720.08 478.90,721.05 478.30,721.43 C477.71,721.80 476.51,721.95 475.91,721.43 C475.32,720.90 475.22,719.18 474.72,718.28 C474.22,717.39 473.72,716.79 472.93,716.04 C472.13,715.29 470.93,714.47 469.94,713.79 C468.94,713.12 467.73,712.67 466.95,712.00 C466.17,711.32 465.62,710.53 465.28,709.75 C464.94,708.97 464.44,707.85 464.92,707.33Z" stroke="#D5D5D5" stroke-width="1.00" fill="#D5D5D5" stroke-linejoin="round"/>
<ellipse cx="463.13" cy="682.27" rx="2.63" ry="1.17" fill="#fff"/>
<path d="M452.37,722.77 C452.53,722.43 452.69,721.25 453.33,720.71 C453.96,720.17 455.12,719.80 456.20,719.54 C457.27,719.29 458.47,719.17 459.78,719.18 C461.10,719.20 462.47,719.35 464.08,719.63 C465.70,719.91 467.67,720.41 469.46,720.89 C471.25,721.37 473.26,721.97 474.84,722.50 C476.41,723.04 478.22,723.85 478.90,724.12" stroke="#D5D5D5" stroke-width="2.40" fill="none" stroke-linecap="round" stroke-linejoin="round"/>
<path d="M452.61,721.88 C452.91,722.17 453.81,723.25 454.40,723.67 C455.00,724.09 455.90,724.27 456.20,724.39" stroke="#D5D5D5" stroke-width="1.80" fill="none" stroke-linecap="round" stroke-linejoin="round"/>
<path d="M433.01,723.04 C433.69,722.85 435.70,722.26 437.08,721.88 C438.45,721.49 440.00,720.99 441.26,720.71 C442.51,720.42 444.05,720.26 444.60,720.17" stroke="#D5D5D5" stroke-width="2.40" fill="none" stroke-linecap="round" stroke-linejoin="round"/>
<path d="M467.31,725.29 L472.69,726.54" stroke="#D5D5D5" stroke-width="1.80" fill="none" stroke-linecap="round" stroke-linejoin="round"/>
<circle cx="472.9" cy="722.8" r="0.70" fill="#D5D5D5"/>
<circle cx="477.8" cy="727.3" r="0.70" fill="#D5D5D5"/>
<circle cx="476.2" cy="726.9" r="0.70" fill="#D5D5D5"/>
<circle cx="455.8" cy="716.6" r="0.70" fill="#D5D5D5"/>
<circle cx="482.1" cy="720.7" r="0.70" fill="#D5D5D5"/>
<circle cx="480.8" cy="708.7" r="0.70" fill="#D5D5D5"/>
<circle cx="468.5" cy="711.7" r="0.70" fill="#D5D5D5"/>
<circle cx="470.6" cy="719.0" r="0.70" fill="#D5D5D5"/>
<circle cx="455.4" cy="711.0" r="0.70" fill="#D5D5D5"/>
<circle cx="463.0" cy="726.7" r="0.70" fill="#D5D5D5"/>
<circle cx="477.0" cy="709.7" r="0.70" fill="#D5D5D5"/>
<circle cx="477.9" cy="709.3" r="0.70" fill="#D5D5D5"/>
<circle cx="472.7" cy="709.0" r="0.70" fill="#D5D5D5"/>
<circle cx="455.1" cy="725.7" r="0.70" fill="#D5D5D5"/>
<circle cx="477.59" cy="708.67" r="0.90" fill="#D5D5D5"/>
<circle cx="482.96" cy="707.06" r="1.20" fill="#D5D5D5"/>
<circle cx="481.65" cy="707.78" r="0.90" fill="#D5D5D5"/>
<circle cx="460.86" cy="716.76" r="0.80" fill="#D5D5D5"/>
<circle cx="464.56" cy="717.21" r="0.80" fill="#D5D5D5"/>
<circle cx="457.51" cy="736.24" r="0.80" fill="#D5D5D5"/>
<circle cx="441.86" cy="751.51" r="0.80" fill="#D5D5D5"/>
<circle cx="434.33" cy="725.92" r="0.90" fill="#D5D5D5"/>
<circle cx="442.69" cy="730.32" r="0.80" fill="#D5D5D5"/>
<circle cx="410.19" cy="707.96" r="1.40" fill="#D5D5D5"/>
<circle cx="459.54" cy="753.66" r="1.00" fill="#D5D5D5"/>
<circle cx="437.55" cy="736.78" r="1.30" fill="#D5D5D5"/>
<path d="M466.5 680.5h0m0 2h0m-1 3h0m8 0h0m-4 1h0m35 0h0m5 0h0m-103 1h0m74 0h0m3 0h0m3 0h0m16 0h0m5 0h0m-36 1h0m1 0h0m16 0h0m10 0h0m1 0h0m5 0h0m-97 1h0m72 0h0m6 0h0m1 0h0m4 0h0m1 0h0m3 0h0m4 0h0m2 0h0m1 0h0m2 0h0m-100 1h0m5 0h0m75 0h0m4 0h0m8 0h0m1 0h0m4 0h0m-34 1h0m8 0h0m6 0h0m10 0h0m1 0h0m1 0h0m1 0h0m-18 1h0m7 0h0m4 0h0m14 0h0m-18 1h0m2 0h0m5 0h0m3 0h0m2 0h0m5 0h0m-20 1h0m2 0h0m3 0h0m1 0h0m2 1h0m2 0h0m-2 1h0m-75 4h0m25 7h0m33 4h0m6 4h0m2 0h0m1 3h0m-2 1h0m19 3h0m-8 1h0m3 0h0m2 0h0m2 0h0m5 0h0m3 0h0m2 0h0m-18 1h0m1 0h0m7 0h0m1 0h0m2 0h0m2 0h0m4 0h0m3 0h0m1 0h0m-86 1h0m69 0h0m5 0h0m1 0h0m3 0h0m2 0h0m4 0h0m-131 1h0m113 0h0m5 0h0m2 0h0m3 0h0m3 0h0m2 0h0m2 0h0m3 0h0m1 0h0m2 0h0m-121 1h0m93 0h0m8 0h0m8 0h0m3 0h0m4 0h0m4 0h0m1 0h0m1 0h0m-30 1h0m5 0h0m1 0h0m9 0h0m2 0h0m2 0h0m2 0h0m2 0h0m6 0h0m1 0h0m-36 1h0m7 0h0m2 0h0m4 0h0m5 0h0m1 0h0m1 0h0m3 0h0m7 0h0m1 0h0m2 0h0m2 0h0m1 0h0m-82 1h0m38 0h0m13 0h0m8 0h0m2 0h0m1 0h0m2 0h0m6 0h0m1 0h0m1 0h0m2 0h0m4 0h0m3 0h0m2 0h0m-47 1h0m11 0h0m11 0h0m1 0h0m11 0h0m8 0h0m5 0h0m1 0h0m-47 1h0m1 0h0m1 0h0m3 0h0m9 0h0m7 0h0m3 0h0m3 0h0m1 0h0m7 0h0m6 0h0m1 0h0m2 0h0m2 0h0m1 0h0m-13 1h0m3 0h0m9 0h0m1 0h0m-33 1h0m12 0h0m1 0h0m2 0h0m7 0h0m2 0h0m3 0h0m6 0h0m-90 1h0m41 0h0m16 0h0m3 0h0m9 0h0m6 0h0m4 0h0m1 0h0m4 0h0m5 0h0m-24 1h0m2 0h0m8 0h0m2 0h0m2 0h0m4 0h0m2 0h0m1 0h0m2 0h0m1 0h0m2 0h0m-27 1h0m7 0h0m8 0h0m2 0h0m2 0h0m2 0h0m2 0h0m-19 1h0m3 0h0m6 0h0m2 0h0m3 0h0m2 0h0m3 0h0m1 0h0m1 0h0m1 0h0m-19 1h0m2 0h0m4 0h0m3 0h0m4 0h0m1 0h0m2 0h0m-12 1h0m3 0h0m4 0h0m3 0h0m1 0h0m-133 1h0m128 0h0m1 0h0m-121 4h0m45 8h0m3 2h0m11 0h0m-10 1h0m7 0h0" stroke="#F0B4A8" stroke-width="1.05" stroke-linecap="square" fill="none"/>
<path d="M466.5 685.5h0m6 1h0m4 0h0m33 0h0m-30 1h0m25 0h0m-15 1h0m16 1h0m-28 2h0m8 0h0m1 0h0m-3 1h0m17 0h0m-36 1h0m5 0h0m17 0h0m4 0h0m7 0h0m-15 2h0m-11 11h0m3 4h0m2 4h0m-58 5h0m77 3h0m-1 1h0m-13 1h0m5 0h0m1 0h0m6 0h0m2 0h0m7 0h0m1 1h0m4 0h0m-21 1h0m7 0h0m5 0h0m6 0h0m-16 1h0m8 0h0m8 0h0m8 0h0m-11 1h0m3 0h0m1 0h0m4 0h0m-29 1h0m12 0h0m12 0h0m4 0h0m5 0h0m-38 1h0m7 0h0m28 0h0m3 0h0m-36 1h0m8 0h0m16 0h0m7 0h0m5 0h0m-37 1h0m7 0h0m14 1h0m8 0h0m1 0h0m2 0h0m4 0h0m-43 1h0m19 0h0m27 0h0m-33 1h0m3 0h0m20 0h0m10 0h0m-19 1h0m4 0h0m5 0h0m6 0h0m2 0h0m-5 1h0m-14 1h0m9 0h0m4 0h0m-1 1h0m2 0h0m1 1h0m-66 13h0" stroke="#EA6E56" stroke-width="1.05" stroke-linecap="square" fill="none"/>
<path d="M519.93,732.40 C520.46,731.47 522.08,730.30 523.77,729.14 C525.45,727.98 527.95,726.44 530.04,725.44 C532.13,724.44 534.03,723.74 536.32,723.12 C538.60,722.51 541.47,722.05 543.75,721.75 C546.04,721.45 548.77,720.86 550.03,721.32 C551.29,721.78 551.31,723.34 551.31,724.50 C551.31,725.66 550.24,726.73 550.03,728.28 C549.82,729.82 549.60,731.93 550.03,733.77 C550.45,735.62 551.54,738.20 552.58,739.36 C553.63,740.52 554.83,740.73 556.30,740.73 C557.77,740.73 560.37,739.97 561.42,739.36 C562.46,738.74 561.75,737.34 562.58,737.04 C563.41,736.74 565.68,737.01 566.41,737.55 C567.15,738.10 566.57,739.53 566.99,740.30 C567.42,741.08 569.49,741.73 568.97,742.19 C568.45,742.65 565.75,742.91 563.86,743.05 C561.96,743.20 559.25,742.67 557.58,743.05 C555.92,743.44 555.32,744.44 553.86,745.37 C552.41,746.30 550.55,748.01 548.87,748.64 C547.18,749.27 545.65,749.45 543.75,749.15 C541.86,748.85 539.57,747.99 537.48,746.83 C535.39,745.67 533.30,743.74 531.20,742.19 C529.11,740.65 526.69,738.80 524.93,737.55 C523.17,736.31 521.46,735.58 520.63,734.72 C519.80,733.86 519.41,733.33 519.93,732.40Z" stroke="#D5D5D5" stroke-width="1.00" fill="#D5D5D5" stroke-linejoin="round"/>
<path d="M565.13,721.32 C565.77,720.09 566.43,718.89 567.69,718.05 C568.95,717.22 571.02,716.49 572.69,716.34 C574.35,716.18 576.33,716.52 577.68,717.11 C579.04,717.70 580.18,718.93 580.82,719.86 C581.46,720.79 580.57,721.76 581.52,722.69 C582.47,723.62 584.64,724.37 586.52,725.44 C588.39,726.52 591.22,728.05 592.79,729.14 C594.36,730.22 595.71,731.11 595.93,731.97 C596.14,732.83 595.42,733.52 594.07,734.29 C592.71,735.06 589.27,735.76 587.79,736.61 C586.32,737.45 585.88,738.43 585.24,739.36 C584.60,740.29 584.79,741.72 583.96,742.19 C583.13,742.67 580.86,742.82 580.24,742.19 C579.62,741.56 581.29,739.43 580.24,738.41 C579.19,737.40 576.06,736.87 573.97,736.09 C571.87,735.32 569.26,734.62 567.69,733.77 C566.12,732.93 565.19,732.41 564.55,731.03 C563.91,729.64 563.76,727.06 563.86,725.44 C563.95,723.82 564.50,722.55 565.13,721.32Z" stroke="#D5D5D5" stroke-width="1.00" fill="#D5D5D5" stroke-linejoin="round"/>
<path d="M554.91,687.56 C555.57,686.84 557.62,687.23 559.09,687.13 C560.56,687.03 562.23,686.89 563.74,686.96 C565.25,687.03 567.40,687.03 568.16,687.56 C568.91,688.09 569.01,689.49 568.27,690.14 C567.54,690.78 564.98,691.14 563.74,691.43 C562.50,691.71 561.38,691.35 560.83,691.86 C560.29,692.36 560.39,693.50 560.49,694.43 C560.58,695.36 560.49,696.92 561.42,697.44 C562.35,697.95 564.51,697.54 566.06,697.52 C567.61,697.51 569.39,697.20 570.71,697.35 C572.03,697.51 573.67,697.88 573.97,698.47 C574.26,699.06 573.77,700.35 572.45,700.88 C571.14,701.40 567.81,701.55 566.06,701.65 C564.32,701.75 562.87,701.10 562.00,701.48 C561.13,701.85 561.09,703.27 560.83,703.88 C560.58,704.50 560.97,704.98 560.49,705.17 C560.00,705.36 558.47,705.64 557.93,705.00 C557.39,704.35 557.29,702.49 557.23,701.30 C557.17,700.12 557.58,699.30 557.58,697.87 C557.58,696.44 557.64,693.79 557.23,692.71 C556.83,691.64 555.53,692.28 555.14,691.43 C554.75,690.57 554.25,688.28 554.91,687.56Z" stroke="#D5D5D5" stroke-width="1.00" fill="#D5D5D5" stroke-linejoin="round"/>
<path d="M557.47,706.29 C557.89,705.96 559.52,705.94 560.25,706.11 C560.99,706.29 561.88,706.95 561.88,707.32 C561.88,707.69 560.95,708.22 560.25,708.35 C559.56,708.48 558.16,708.43 557.70,708.09 C557.23,707.75 557.04,706.62 557.47,706.29Z" stroke="#D5D5D5" stroke-width="1.00" fill="#D5D5D5" stroke-linejoin="round"/>
<path d="M608.48,682.49 C608.84,681.82 610.45,680.70 611.73,680.09 C613.01,679.47 614.48,678.87 616.15,678.80 C617.81,678.73 620.25,679.11 621.72,679.66 C623.20,680.20 624.16,681.25 624.98,682.06 C625.79,682.88 625.67,684.07 626.60,684.55 C627.53,685.04 628.99,684.78 630.55,684.98 C632.12,685.18 634.18,685.43 636.02,685.76 C637.86,686.09 639.75,686.62 641.59,686.96 C643.43,687.30 645.23,687.75 647.06,687.82 C648.88,687.89 650.50,687.73 652.52,687.39 C654.53,687.05 657.11,686.10 659.14,685.76 C661.17,685.41 663.42,685.18 664.72,685.33 C666.02,685.47 667.12,686.07 666.93,686.62 C666.73,687.16 664.85,687.78 663.56,688.59 C662.26,689.41 660.98,690.62 659.14,691.51 C657.30,692.40 654.53,693.17 652.52,693.92 C650.50,694.66 648.88,695.36 647.06,695.98 C645.23,696.59 643.24,697.34 641.59,697.61 C639.95,697.88 638.65,698.03 637.18,697.61 C635.71,697.20 634.43,695.61 632.76,695.12 C631.10,694.63 629.39,694.69 627.19,694.69 C624.98,694.69 622.09,694.98 619.52,695.12 C616.94,695.26 614.31,695.62 611.73,695.55 C609.15,695.48 605.71,695.11 604.06,694.69 C602.42,694.28 601.68,693.59 601.85,693.06 C602.03,692.53 603.83,692.06 605.11,691.51 C606.39,690.97 608.38,689.95 609.52,689.79 C610.67,689.64 610.86,690.31 611.96,690.57 C613.07,690.82 614.52,691.25 616.15,691.34 C617.77,691.43 620.39,691.50 621.72,691.08 C623.06,690.67 623.91,689.51 624.16,688.85 C624.42,688.19 624.20,687.50 623.23,687.13 C622.27,686.76 619.90,686.92 618.35,686.62 C616.80,686.31 615.41,685.74 613.94,685.33 C612.47,684.91 610.43,684.60 609.52,684.12 C608.61,683.65 608.11,683.17 608.48,682.49Z" stroke="#D5D5D5" stroke-width="1.00" fill="#D5D5D5" stroke-linejoin="round"/>
<path d="M608.24,720.55 C608.81,719.72 610.37,719.59 611.61,719.00 C612.85,718.41 614.56,717.94 615.68,717.02 C616.80,716.11 617.91,714.68 618.35,713.50 C618.80,712.33 617.79,711.07 618.35,709.98 C618.92,708.89 620.14,707.56 621.72,706.97 C623.31,706.39 625.95,706.29 627.88,706.46 C629.82,706.63 631.31,708.09 633.34,708.00 C635.38,707.92 638.73,706.03 640.08,705.94 C641.44,705.86 642.16,706.82 641.48,707.49 C640.80,708.16 636.81,708.65 636.02,709.98 C635.22,711.31 636.48,713.72 636.71,715.48 C636.95,717.24 636.38,719.29 637.41,720.55 C638.44,721.81 640.61,722.68 642.87,723.04 C645.14,723.40 648.08,722.61 651.01,722.69 C653.93,722.78 657.71,723.17 660.42,723.55 C663.13,723.94 665.45,724.18 667.27,725.01 C669.09,725.84 670.33,727.12 671.34,728.53 C672.35,729.95 673.10,731.84 673.32,733.52 C673.53,735.19 673.41,737.24 672.62,738.59 C671.83,739.93 670.80,741.00 668.55,741.59 C666.31,742.18 662.74,742.11 659.14,742.11 C655.54,742.11 650.35,741.85 646.94,741.59 C643.53,741.33 641.19,741.06 638.69,740.56 C636.19,740.06 634.43,739.09 631.95,738.59 C629.47,738.08 626.29,737.81 623.82,737.55 C621.34,737.30 618.88,737.12 617.08,737.04 C615.27,736.95 614.15,737.37 613.01,737.04 C611.87,736.71 610.80,735.81 610.22,735.06 C609.64,734.32 608.73,733.24 609.52,732.57 C610.32,731.90 613.05,731.53 614.98,731.03 C616.92,730.52 619.23,729.98 621.14,729.57 C623.06,729.15 625.36,728.88 626.49,728.53 C627.61,728.19 628.10,727.92 627.88,727.50 C627.67,727.09 626.33,726.46 625.21,726.04 C624.09,725.63 622.05,725.43 621.14,725.01 C620.23,724.60 620.66,723.64 619.75,723.55 C618.84,723.47 617.04,724.25 615.68,724.50 C614.33,724.74 612.85,725.10 611.61,725.01 C610.37,724.93 608.81,724.73 608.24,723.98 C607.68,723.24 607.68,721.38 608.24,720.55Z" stroke="#D5D5D5" stroke-width="1.00" fill="#D5D5D5" stroke-linejoin="round"/>
<path d="M584.19,706.89 C584.09,706.27 585.35,705.03 586.40,704.31 C587.44,703.60 589.30,703.24 590.47,702.59 C591.63,701.95 592.40,700.83 593.37,700.45 C594.34,700.06 595.54,700.06 596.28,700.27 C597.01,700.49 597.69,701.13 597.79,701.73 C597.88,702.34 597.21,703.17 596.86,703.88 C596.51,704.60 596.57,705.38 595.69,706.03 C594.82,706.67 593.08,707.42 591.63,707.75 C590.18,708.08 588.22,708.15 586.98,708.00 C585.74,707.86 584.29,707.50 584.19,706.89Z" stroke="#D5D5D5" stroke-width="1.00" fill="#D5D5D5" stroke-linejoin="round"/>
<path d="M584.07,754.99 C583.88,754.42 585.72,753.63 586.98,753.27 C588.24,752.92 590.27,753.06 591.63,752.84 C592.98,752.63 593.76,751.99 595.11,751.99 C596.47,751.99 598.46,752.41 599.76,752.84 C601.06,753.27 602.80,753.92 602.90,754.56 C603.00,755.21 601.83,756.28 600.34,756.71 C598.85,757.14 595.99,757.14 593.95,757.14 C591.92,757.14 589.79,757.07 588.14,756.71 C586.50,756.35 584.27,755.56 584.07,754.99Z" stroke="#D5D5D5" stroke-width="1.00" fill="#D5D5D5" stroke-linejoin="round"/>
<path d="M600.69,770.45 C600.79,769.67 601.66,768.16 602.67,767.45 C603.67,766.73 605.09,766.45 606.73,766.16 C608.38,765.87 610.61,765.87 612.54,765.73 C614.48,765.59 616.42,765.56 618.35,765.30 C620.29,765.04 622.61,764.57 624.16,764.18 C625.71,763.80 626.39,763.22 627.65,762.98 C628.91,762.74 630.50,762.48 631.72,762.72 C632.94,762.97 634.58,763.73 634.97,764.44 C635.36,765.16 635.07,766.37 634.04,767.02 C633.01,767.66 630.85,767.88 628.81,768.31 C626.78,768.74 624.36,769.09 621.84,769.60 C619.32,770.10 616.22,770.84 613.71,771.31 C611.19,771.79 608.67,772.29 606.73,772.43 C604.80,772.57 603.09,772.50 602.09,772.17 C601.08,771.84 600.59,771.24 600.69,770.45Z" stroke="#D5D5D5" stroke-width="1.00" fill="#D5D5D5" stroke-linejoin="round"/>
<path d="M638.69,757.14 C638.50,756.42 640.53,755.64 641.59,755.42 C642.66,755.21 644.31,756.14 645.08,755.85 C645.85,755.56 645.56,753.99 646.24,753.70 C646.92,753.42 648.57,753.78 649.15,754.13 C649.73,754.49 648.74,755.49 649.73,755.85 C650.72,756.21 654.49,755.85 655.07,756.28 C655.65,756.71 654.69,758.00 653.21,758.43 C651.74,758.86 647.98,758.64 646.24,758.86 C644.50,759.07 644.01,760.00 642.76,759.72 C641.50,759.43 638.88,757.86 638.69,757.14Z" stroke="#D5D5D5" stroke-width="1.00" fill="#D5D5D5" stroke-linejoin="round"/>
<path d="M590.70,722.09 C591.14,721.92 592.25,721.29 593.37,721.06 C594.49,720.83 596.08,720.80 597.44,720.72 C598.79,720.63 600.19,720.59 601.50,720.55 C602.82,720.50 604.70,720.47 605.34,720.46" stroke="#D5D5D5" stroke-width="2.60" fill="none" stroke-linecap="round" stroke-linejoin="round"/>
<path d="M591.86,727.25 C592.40,727.40 593.89,727.85 595.11,728.19 C596.33,728.53 597.90,728.98 599.18,729.31 C600.46,729.64 602.18,730.02 602.78,730.17" stroke="#D5D5D5" stroke-width="2.40" fill="none" stroke-linecap="round" stroke-linejoin="round"/>
<circle cx="595.3" cy="719.1" r="0.70" fill="#D5D5D5"/>
<circle cx="601.4" cy="717.9" r="0.70" fill="#D5D5D5"/>
<circle cx="599.3" cy="722.4" r="0.70" fill="#D5D5D5"/>
<circle cx="590.4" cy="724.6" r="0.70" fill="#D5D5D5"/>
<circle cx="590.0" cy="723.5" r="0.70" fill="#D5D5D5"/>
<circle cx="590.6" cy="718.2" r="0.70" fill="#D5D5D5"/>
<circle cx="597.2" cy="729.6" r="0.70" fill="#D5D5D5"/>
<circle cx="591.6" cy="720.2" r="0.70" fill="#D5D5D5"/>
<circle cx="568.85" cy="707.40" r="1.40" fill="#D5D5D5"/>
<circle cx="615.91" cy="753.62" r="1.00" fill="#D5D5D5"/>
<circle cx="593.37" cy="736.61" r="1.30" fill="#D5D5D5"/>
<circle cx="552.00" cy="742.62" r="1.00" fill="#D5D5D5"/>
<circle cx="531.90" cy="737.55" r="0.90" fill="#D5D5D5"/>
<circle cx="582.68" cy="737.55" r="1.00" fill="#D5D5D5"/>
<circle cx="558.51" cy="707.32" r="1.00" fill="#D5D5D5"/>
<path d="M621.5 680.5h0m-7 2h0m9 1h0m-2 1h0m41 1h0m3 0h0m-47 1h0m13 0h0m1 0h0m2 0h0m29 0h0m1 0h0m-33 1h0m2 0h0m24 0h0m6 0h0m-102 1h0m6 0h0m81 0h0m4 0h0m1 0h0m1 0h0m4 0h0m4 0h0m-36 1h0m1 0h0m2 0h0m14 0h0m1 0h0m6 0h0m6 0h0m-90 1h0m71 0h0m13 0h0m1 0h0m1 0h0m3 0h0m-21 1h0m3 0h0m3 0h0m3 0h0m3 0h0m5 0h0m2 0h0m2 0h0m3 0h0m-42 1h0m11 0h0m4 0h0m5 0h0m14 0h0m1 0h0m1 0h0m-34 1h0m14 0h0m4 0h0m3 0h0m5 0h0m5 0h0m2 0h0m-28 1h0m10 0h0m2 0h0m2 0h0m4 0h0m1 0h0m-9 1h0m1 0h0m5 0h0m1 0h0m2 0h0m2 0h0m-4 1h0m1 0h0m-5 1h0m1 0h0m-43 3h0m-3 5h0m39 2h0m2 0h0m6 0h0m-15 1h0m11 0h0m3 1h0m-3 1h0m-2 1h0m4 0h0m-7 1h0m5 0h0m-11 1h0m9 0h0m-3 1h0m1 0h0m-6 1h0m9 0h0m-5 2h0m-14 1h0m11 0h0m1 0h0m-27 1h0m35 0h0m2 0h0m-33 1h0m16 0h0m14 0h0m-40 1h0m32 0h0m1 0h0m12 0h0m-47 1h0m39 0h0m3 0h0m3 0h0m4 0h0m6 0h0m-31 1h0m14 0h0m4 0h0m9 0h0m4 0h0m4 0h0m3 0h0m1 0h0m1 0h0m1 0h0m2 0h0m-26 1h0m2 0h0m1 0h0m7 0h0m5 0h0m7 0h0m2 0h0m1 0h0m1 0h0m-35 1h0m11 0h0m5 0h0m1 0h0m6 0h0m1 0h0m1 0h0m1 0h0m1 0h0m1 0h0m1 0h0m2 0h0m3 0h0m1 0h0m2 0h0m4 0h0m3 0h0m-40 1h0m1 0h0m21 0h0m7 0h0m3 0h0m2 0h0m1 0h0m1 0h0m4 0h0m-37 1h0m4 0h0m2 0h0m2 0h0m2 0h0m1 0h0m2 0h0m9 0h0m4 0h0m1 0h0m3 0h0m1 0h0m2 0h0m1 0h0m1 0h0m4 0h0m-136 1h0m62 0h0m38 0h0m2 0h0m7 0h0m3 0h0m1 0h0m6 0h0m1 0h0m6 0h0m3 0h0m3 0h0m1 0h0m2 0h0m1 0h0m-40 1h0m4 0h0m2 0h0m1 0h0m1 0h0m3 0h0m5 0h0m1 0h0m2 0h0m2 0h0m1 0h0m2 0h0m2 0h0m1 0h0m3 0h0m5 0h0m1 0h0m2 0h0m1 0h0m2 0h0m-49 1h0m8 0h0m13 0h0m2 0h0m3 0h0m1 0h0m1 0h0m4 0h0m4 0h0m1 0h0m1 0h0m1 0h0m1 0h0m2 0h0m1 0h0m2 0h0m4 0h0m2 0h0m-50 1h0m16 0h0m3 0h0m1 0h0m1 0h0m5 0h0m1 0h0m1 0h0m1 0h0m4 0h0m4 0h0m1 0h0m1 0h0m2 0h0m1 0h0m2 0h0m1 0h0m1 0h0m-49 1h0m11 0h0m3 0h0m16 0h0m1 0h0m3 0h0m4 0h0m3 0h0m3 0h0m1 0h0m1 0h0m3 0h0m1 0h0m3 0h0m-91 1h0m42 0h0m6 0h0m7 0h0m2 0h0m3 0h0m1 0h0m1 0h0m2 0h0m4 0h0m1 0h0m1 0h0m3 0h0m7 0h0m1 0h0m2 0h0m2 0h0m3 0h0m1 0h0m1 0h0m2 0h0m-54 1h0m11 0h0m14 0h0m1 0h0m1 0h0m3 0h0m2 0h0m8 0h0m1 0h0m1 0h0m1 0h0m1 0h0m6 0h0m-50 1h0m9 0h0m3 0h0m5 0h0m3 0h0m1 0h0m8 0h0m1 0h0m2 0h0m1 0h0m1 0h0m6 0h0m2 0h0m2 0h0m3 0h0m3 0h0m2 0h0m1 0h0m-49 1h0m4 0h0m12 0h0m1 0h0m3 0h0m3 0h0m2 0h0m5 0h0m3 0h0m1 0h0m3 0h0m3 0h0m6 0h0m2 0h0m1 0h0m-41 1h0m2 0h0m2 0h0m11 0h0m1 0h0m3 0h0m7 0h0m4 0h0m1 0h0m1 0h0m1 0h0m2 0h0m1 0h0m4 0h0m1 0h0m-38 1h0m2 0h0m4 0h0m1 0h0m6 0h0m1 0h0m4 0h0m2 0h0m2 0h0m1 0h0m2 0h0m2 0h0m1 0h0m2 0h0m1 0h0m2 0h0m3 0h0m-28 1h0m1 0h0m4 0h0m1 0h0m1 0h0m1 0h0m6 0h0m2 0h0m2 0h0m1 0h0m2 0h0m4 0h0m1 0h0m1 0h0m1 0h0m-32 1h0m1 0h0m3 0h0m3 0h0m4 0h0m5 0h0m2 0h0m1 0h0m1 0h0m3 0h0m1 0h0m5 0h0m1 0h0m1 0h0m-23 1h0m3 0h0m4 0h0m1 0h0m4 0h0m3 0h0m3 0h0m-72 12h0m-2 1h0m6 0h0m51 2h0m2 0h0" stroke="#F0B4A8" stroke-width="1.05" stroke-linecap="square" fill="none"/>
<path d="M664.5 685.5h0m-2 1h0m-7 1h0m9 0h0m-10 1h0m-9 1h0m12 0h0m4 0h0m1 0h0m-3 1h0m-16 1h0m4 0h0m11 0h0m-41 3h0m4 0h0m12 0h0m8 0h0m-6 1h0m6 1h0m-49 5h0m47 5h0m1 1h0m-11 3h0m-9 4h0m6 0h0m6 1h0m-4 2h0m1 0h0m2 0h0m-7 1h0m6 0h0m6 0h0m-8 1h0m3 0h0m3 0h0m-1 3h0m1 0h0m4 0h0m-63 1h0m64 0h0m2 0h0m3 0h0m9 0h0m-21 1h0m4 0h0m17 0h0m10 0h0m-35 1h0m8 0h0m23 0h0m3 0h0m5 0h0m-27 1h0m18 0h0m11 0h0m-39 1h0m1 0h0m21 0h0m5 0h0m7 0h0m2 0h0m1 0h0m1 0h0m-5 1h0m-30 1h0m6 0h0m3 0h0m13 0h0m2 0h0m2 0h0m9 0h0m1 0h0m-46 1h0m17 0h0m2 0h0m7 0h0m4 0h0m3 0h0m1 0h0m5 0h0m6 0h0m-13 1h0m3 0h0m5 0h0m7 0h0m1 0h0m-19 1h0m4 0h0m1 0h0m1 0h0m1 0h0m6 0h0m1 0h0m2 0h0m-19 1h0m3 0h0m12 0h0m2 0h0m2 0h0m1 0h0m4 0h0m-42 1h0m14 0h0m10 0h0m11 0h0m1 0h0m1 0h0m-42 1h0m9 0h0m15 0h0m1 0h0m15 0h0m1 0h0m4 0h0m1 0h0m-56 1h0m2 0h0m20 0h0m2 0h0m11 0h0m5 0h0m2 0h0m-17 1h0m4 0h0m22 0h0m2 0h0m-38 1h0m8 0h0m2 0h0m1 0h0m5 0h0m16 0h0m-16 1h0m10 0h0m10 0h0m1 0h0m-30 1h0m2 0h0m12 0h0m4 0h0m1 0h0m6 0h0m4 0h0m1 0h0m-17 1h0m2 0h0m14 0h0m1 0h0m-75 12h0m55 1h0" stroke="#EA6E56" stroke-width="1.05" stroke-linecap="square" fill="none"/>
<line x1="30.20" y1="659.10" x2="30.20" y2="775.90" stroke="#000" stroke-width="1.50"/>
<line x1="24.70" y1="682.00" x2="30.20" y2="682.00" stroke="#000" stroke-width="1.30"/>
<text x="9.64" y="686.13" font-size="12.00" style="font-weight:bold;" fill="#000">10</text>
<line x1="24.70" y1="718.80" x2="30.20" y2="718.80" stroke="#000" stroke-width="1.30"/>
<text x="16.32" y="722.93" font-size="12.00" style="font-weight:bold;" fill="#000">0</text>
<line x1="24.70" y1="755.50" x2="30.20" y2="755.50" stroke="#000" stroke-width="1.30"/>
<text x="5.65" y="759.63" font-size="12.00" style="font-weight:bold;" fill="#000">-10</text>
<line x1="29.50" y1="775.30" x2="182.70" y2="775.30" stroke="#000" stroke-width="1.50"/>
<line x1="35.80" y1="775.30" x2="35.80" y2="779.80" stroke="#000" stroke-width="1.30"/>
<text x="29.59" y="793.60" font-size="11.00" style="font-weight:bold;" fill="#000">-15</text>
<line x1="65.70" y1="775.30" x2="65.70" y2="779.80" stroke="#000" stroke-width="1.30"/>
<text x="59.56" y="793.60" font-size="11.00" style="font-weight:bold;" fill="#000">-10</text>
<line x1="94.60" y1="775.30" x2="94.60" y2="779.80" stroke="#000" stroke-width="1.30"/>
<text x="91.45" y="793.60" font-size="11.00" style="font-weight:bold;" fill="#000">-5</text>
<line x1="123.50" y1="775.30" x2="123.50" y2="779.80" stroke="#000" stroke-width="1.30"/>
<text x="120.45" y="793.60" font-size="11.00" style="font-weight:bold;" fill="#000">0</text>
<line x1="152.40" y1="775.30" x2="152.40" y2="779.80" stroke="#000" stroke-width="1.30"/>
<text x="149.33" y="793.60" font-size="11.00" style="font-weight:bold;" fill="#000">5</text>
<line x1="181.20" y1="775.30" x2="181.20" y2="779.80" stroke="#000" stroke-width="1.30"/>
<text x="166.76" y="793.60" font-size="11.00" style="font-weight:bold;" fill="#000">10</text>
<line x1="191.00" y1="776.50" x2="343.00" y2="776.50" stroke="#000" stroke-width="1.50"/>
<line x1="191.70" y1="776.50" x2="191.70" y2="781.00" stroke="#000" stroke-width="1.30"/>
<text x="185.49" y="794.40" font-size="11.00" style="font-weight:bold;" fill="#000">-15</text>
<line x1="221.10" y1="776.50" x2="221.10" y2="781.00" stroke="#000" stroke-width="1.30"/>
<text x="214.96" y="794.40" font-size="11.00" style="font-weight:bold;" fill="#000">-10</text>
<line x1="250.50" y1="776.50" x2="250.50" y2="781.00" stroke="#000" stroke-width="1.30"/>
<text x="247.35" y="794.40" font-size="11.00" style="font-weight:bold;" fill="#000">-5</text>
<line x1="279.40" y1="776.50" x2="279.40" y2="781.00" stroke="#000" stroke-width="1.30"/>
<text x="276.35" y="794.40" font-size="11.00" style="font-weight:bold;" fill="#000">0</text>
<line x1="308.30" y1="776.50" x2="308.30" y2="781.00" stroke="#000" stroke-width="1.30"/>
<text x="305.23" y="794.40" font-size="11.00" style="font-weight:bold;" fill="#000">5</text>
<line x1="337.00" y1="776.50" x2="337.00" y2="781.00" stroke="#000" stroke-width="1.30"/>
<text x="330.76" y="794.40" font-size="11.00" style="font-weight:bold;" fill="#000">10</text>
<line x1="361.70" y1="776.50" x2="516.40" y2="776.50" stroke="#000" stroke-width="1.50"/>
<line x1="367.60" y1="776.50" x2="367.60" y2="781.00" stroke="#000" stroke-width="1.30"/>
<text x="361.39" y="794.40" font-size="11.00" style="font-weight:bold;" fill="#000">-15</text>
<line x1="396.70" y1="776.50" x2="396.70" y2="781.00" stroke="#000" stroke-width="1.30"/>
<text x="390.56" y="794.40" font-size="11.00" style="font-weight:bold;" fill="#000">-10</text>
<line x1="426.10" y1="776.50" x2="426.10" y2="781.00" stroke="#000" stroke-width="1.30"/>
<text x="422.95" y="794.40" font-size="11.00" style="font-weight:bold;" fill="#000">-5</text>
<line x1="455.00" y1="776.50" x2="455.00" y2="781.00" stroke="#000" stroke-width="1.30"/>
<text x="451.95" y="794.40" font-size="11.00" style="font-weight:bold;" fill="#000">0</text>
<line x1="484.40" y1="776.50" x2="484.40" y2="781.00" stroke="#000" stroke-width="1.30"/>
<text x="481.33" y="794.40" font-size="11.00" style="font-weight:bold;" fill="#000">5</text>
<line x1="513.20" y1="776.50" x2="513.20" y2="781.00" stroke="#000" stroke-width="1.30"/>
<text x="506.96" y="794.40" font-size="11.00" style="font-weight:bold;" fill="#000">10</text>
<line x1="527.90" y1="776.50" x2="682.00" y2="776.50" stroke="#000" stroke-width="1.50"/>
<line x1="533.00" y1="776.50" x2="533.00" y2="781.00" stroke="#000" stroke-width="1.30"/>
<text x="526.79" y="794.40" font-size="11.00" style="font-weight:bold;" fill="#000">-15</text>
<line x1="562.40" y1="776.50" x2="562.40" y2="781.00" stroke="#000" stroke-width="1.30"/>
<text x="556.26" y="794.40" font-size="11.00" style="font-weight:bold;" fill="#000">-10</text>
<line x1="591.20" y1="776.50" x2="591.20" y2="781.00" stroke="#000" stroke-width="1.30"/>
<text x="588.05" y="794.40" font-size="11.00" style="font-weight:bold;" fill="#000">-5</text>
<line x1="620.40" y1="776.50" x2="620.40" y2="781.00" stroke="#000" stroke-width="1.30"/>
<text x="617.35" y="794.40" font-size="11.00" style="font-weight:bold;" fill="#000">0</text>
<line x1="649.20" y1="776.50" x2="649.20" y2="781.00" stroke="#000" stroke-width="1.30"/>
<text x="646.13" y="794.40" font-size="11.00" style="font-weight:bold;" fill="#000">5</text>
<line x1="678.10" y1="776.50" x2="678.10" y2="781.00" stroke="#000" stroke-width="1.30"/>
<text x="671.86" y="794.40" font-size="11.00" style="font-weight:bold;" fill="#000">10</text>
<text transform="translate(13.40,744.50) rotate(-90)" x="-0.74" y="0" font-size="13.00" style="font-weight:bold;" fill="#000" textLength="49.93" lengthAdjust="spacingAndGlyphs">UMAP_2</text>
<text x="76.93" y="806.30" font-size="13.00" style="font-weight:bold;" fill="#000" textLength="51.92" lengthAdjust="spacingAndGlyphs">UMAP_1</text>
<text x="247.82" y="806.30" font-size="13.00" style="font-weight:bold;" fill="#000" textLength="52.54" lengthAdjust="spacingAndGlyphs">UMAP_1</text>
<text x="423.72" y="806.30" font-size="13.00" style="font-weight:bold;" fill="#000" textLength="52.64" lengthAdjust="spacingAndGlyphs">UMAP_1</text>
<text x="580.21" y="806.30" font-size="13.00" style="font-weight:bold;" fill="#000" textLength="53.15" lengthAdjust="spacingAndGlyphs">UMAP_1</text>
<text x="87.05" y="674.10" font-size="15.00" style="font-weight:bold;" fill="#000" textLength="42.62" lengthAdjust="spacingAndGlyphs">Sham</text>
<text x="162.43" y="674.10" font-size="15.00" style="font-weight:bold;" fill="#000" textLength="43.45" lengthAdjust="spacingAndGlyphs">P2rx4</text>
<text x="229.85" y="674.30" font-size="15.00" style="font-weight:bold;" fill="#000" textLength="59.64" lengthAdjust="spacingAndGlyphs">UUO D7</text>
<text x="418.75" y="674.30" font-size="15.00" style="font-weight:bold;" fill="#000" textLength="42.31" lengthAdjust="spacingAndGlyphs">Sham</text>
<text x="504.44" y="674.30" font-size="15.00" style="font-weight:bold;" fill="#000" textLength="43.26" lengthAdjust="spacingAndGlyphs">P2rx7</text>
<text x="564.77" y="674.30" font-size="15.00" style="font-weight:bold;" fill="#000" textLength="58.30" lengthAdjust="spacingAndGlyphs">UUO D7</text>
<text x="1.06" y="822.00" font-size="18.00" style="font-weight:bold;" fill="#000">G</text>
<text x="26.18" y="822.00" font-size="18.00" style="font-weight:bold;" fill="#000" textLength="62.75" lengthAdjust="spacingAndGlyphs">VlnPlot</text>
<line x1="30.00" y1="835.30" x2="30.00" y2="954.80" stroke="#000" stroke-width="1.60"/>
<line x1="24.50" y1="858.80" x2="30.00" y2="858.80" stroke="#000" stroke-width="1.30"/>
<text x="17.52" y="862.82" font-size="11.70" style="font-weight:bold;" fill="#000">3</text>
<line x1="24.50" y1="895.70" x2="30.00" y2="895.70" stroke="#000" stroke-width="1.30"/>
<text x="17.56" y="899.78" font-size="11.70" style="font-weight:bold;" fill="#000">2</text>
<line x1="24.50" y1="932.90" x2="30.00" y2="932.90" stroke="#000" stroke-width="1.30"/>
<text x="17.42" y="936.92" font-size="11.70" style="font-weight:bold;" fill="#000">1</text>
<text transform="translate(13.20,947.00) rotate(-90)" x="-0.91" y="0" font-size="13.50" style="font-weight:bold;" fill="#000" textLength="107.07" lengthAdjust="spacingAndGlyphs">Expression level</text>
<path d="M40.5 836.5h0m3 1h0m-3 1h0m30 0h0m-19 1h0m31 0h0m-41 1h0m7 0h0m6 0h0m-14 1h0m34 1h0m-28 1h0m9 0h0m22 0h0m-35 2h0m9 0h0m-11 1h0m15 0h0m25 0h0m98 0h0m-137 1h0m11 0h0m-13 1h0m6 1h0m4 1h0m2 0h0m30 0h0m34 0h0m-45 1h0m-17 1h0m-11 2h0m27 0h0m54 0h0m-79 1h0m4 0h0m1 0h0m20 0h0m-33 1h0m7 0h0m2 0h0m10 0h0m26 0h0m37 0h0m-69 1h0m17 0h0m65 0h0m-59 1h0m57 0h0m-84 1h0m3 0h0m1 0h0m42 0h0m38 0h0m-91 1h0m7 0h0m12 0h0m15 0h0m24 0h0m-28 1h0m2 0h0m30 0h0m17 0h0m-75 1h0m15 0h0m23 0h0m36 0h0m59 0h0m-139 1h0m6 0h0m13 0h0m13 0h0m12 0h0m35 0h0m6 0h0m2 0h0m-71 1h0m13 0h0m7 0h0m29 0h0m16 0h0m10 0h0m7 0h0m-96 1h0m11 0h0m7 0h0m7 0h0m10 0h0m6 0h0m2 0h0m36 0h0m10 0h0m-80 1h0m8 0h0m1 0h0m6 0h0m20 0h0m1 0h0m8 0h0m26 0h0m2 0h0m2 0h0m-83 1h0m30 0h0m3 0h0m2 0h0m42 0h0m9 0h0m9 0h0m-97 1h0m10 0h0m9 0h0m10 0h0m42 0h0m12 0h0m3 0h0m5 0h0m-79 1h0m6 0h0m13 0h0m7 0h0m4 0h0m3 0h0m13 0h0m23 0h0m1 0h0m2 0h0m3 0h0m4 0h0m2 0h0m2 0h0m1 0h0m41 0h0m-130 1h0m1 0h0m2 0h0m5 0h0m2 0h0m2 0h0m12 0h0m13 0h0m1 0h0m20 0h0m72 0h0m-137 1h0m3 0h0m3 0h0m2 0h0m9 0h0m10 0h0m2 0h0m2 0h0m1 0h0m1 0h0m4 0h0m2 0h0m4 0h0m3 0h0m19 0h0m-62 1h0m2 0h0m8 0h0m4 0h0m9 0h0m3 0h0m1 0h0m4 0h0m4 0h0m2 0h0m3 0h0m37 0h0m8 0h0m2 0h0m-88 1h0m1 0h0m10 0h0m4 0h0m3 0h0m8 0h0m2 0h0m4 0h0m1 0h0m1 0h0m1 0h0m6 0h0m1 0h0m2 0h0m1 0h0m15 0h0m6 0h0m1 0h0m20 0h0m-89 1h0m8 0h0m2 0h0m5 0h0m3 0h0m10 0h0m2 0h0m1 0h0m4 0h0m2 0h0m2 0h0m1 0h0m3 0h0m2 0h0m1 0h0m15 0h0m28 0h0m-84 1h0m1 0h0m1 0h0m3 0h0m2 0h0m2 0h0m3 0h0m10 0h0m2 0h0m1 0h0m4 0h0m1 0h0m1 0h0m1 0h0m4 0h0m2 0h0m4 0h0m15 0h0m1 0h0m10 0h0m23 0h0m-96 1h0m1 0h0m1 0h0m8 0h0m1 0h0m1 0h0m5 0h0m9 0h0m1 0h0m2 0h0m1 0h0m1 0h0m3 0h0m2 0h0m3 0h0m1 0h0m3 0h0m2 0h0m2 0h0m20 0h0m6 0h0m9 0h0m-82 1h0m1 0h0m8 0h0m3 0h0m3 0h0m14 0h0m1 0h0m1 0h0m2 0h0m1 0h0m1 0h0m1 0h0m4 0h0m1 0h0m6 0h0m7 0h0m2 0h0m33 0h0m6 0h0m-90 1h0m4 0h0m2 0h0m2 0h0m6 0h0m8 0h0m2 0h0m1 0h0m6 0h0m1 0h0m1 0h0m1 0h0m2 0h0m1 0h0m1 0h0m2 0h0m9 0h0m10 0h0m6 0h0m64 0h0m-133 1h0m3 0h0m5 0h0m4 0h0m1 0h0m2 0h0m10 0h0m1 0h0m5 0h0m4 0h0m2 0h0m1 0h0m1 0h0m4 0h0m3 0h0m14 0h0m4 0h0m5 0h0m-66 1h0m3 0h0m1 0h0m1 0h0m5 0h0m6 0h0m7 0h0m1 0h0m1 0h0m1 0h0m1 0h0m1 0h0m3 0h0m3 0h0m1 0h0m1 0h0m1 0h0m2 0h0m1 0h0m2 0h0m-42 1h0m1 0h0m1 0h0m4 0h0m2 0h0m1 0h0m1 0h0m1 0h0m1 0h0m3 0h0m1 0h0m1 0h0m6 0h0m1 0h0m3 0h0m1 0h0m2 0h0m1 0h0m2 0h0m5 0h0m2 0h0m1 0h0m95 0h0m-139 1h0m4 0h0m1 0h0m1 0h0m6 0h0m2 0h0m1 0h0m1 0h0m2 0h0m2 0h0m1 0h0m4 0h0m3 0h0m1 0h0m1 0h0m2 0h0m1 0h0m1 0h0m2 0h0m4 0h0m1 0h0m2 0h0m1 0h0m1 0h0m1 0h0m39 0h0m-86 1h0m2 0h0m2 0h0m1 0h0m1 0h0m1 0h0m1 0h0m1 0h0m2 0h0m2 0h0m1 0h0m1 0h0m1 0h0m2 0h0m3 0h0m6 0h0m1 0h0m3 0h0m1 0h0m2 0h0m1 0h0m2 0h0m1 0h0m2 0h0m2 0h0m3 0h0m1 0h0m1 0h0m36 0h0m-81 1h0m1 0h0m2 0h0m2 0h0m1 0h0m1 0h0m1 0h0m1 0h0m1 0h0m3 0h0m3 0h0m1 0h0m1 0h0m1 0h0m5 0h0m1 0h0m2 0h0m2 0h0m2 0h0m7 0h0m1 0h0m1 0h0m3 0h0m23 0h0m-68 1h0m1 0h0m2 0h0m1 0h0m1 0h0m1 0h0m1 0h0m1 0h0m1 0h0m1 0h0m3 0h0m1 0h0m1 0h0m1 0h0m1 0h0m1 0h0m1 0h0m1 0h0m2 0h0m4 0h0m1 0h0m1 0h0m2 0h0m3 0h0m1 0h0m1 0h0m4 0h0m3 0h0m1 0h0m1 0h0m1 0h0m1 0h0m1 0h0m51 0h0m-98 1h0m1 0h0m1 0h0m1 0h0m1 0h0m1 0h0m1 0h0m1 0h0m2 0h0m1 0h0m1 0h0m2 0h0m1 0h0m2 0h0m2 0h0m2 0h0m1 0h0m5 0h0m2 0h0m2 0h0m1 0h0m1 0h0m1 0h0m6 0h0m1 0h0m5 0h0m2 0h0m-46 1h0m1 0h0m1 0h0m2 0h0m1 0h0m1 0h0m1 0h0m2 0h0m1 0h0m1 0h0m1 0h0m1 0h0m1 0h0m1 0h0m2 0h0m3 0h0m5 0h0m1 0h0m1 0h0m3 0h0m1 0h0m1 0h0m2 0h0m3 0h0m2 0h0m1 0h0m1 0h0m1 0h0m-43 1h0m2 0h0m1 0h0m2 0h0m2 0h0m1 0h0m1 0h0m1 0h0m1 0h0m1 0h0m1 0h0m1 0h0m1 0h0m1 0h0m1 0h0m1 0h0m1 0h0m1 0h0m1 0h0m7 0h0m1 0h0m1 0h0m2 0h0m3 0h0m2 0h0m2 0h0m2 0h0m5 0h0m1 0h0m-47 1h0m2 0h0m1 0h0m1 0h0m2 0h0m1 0h0m3 0h0m2 0h0m3 0h0m2 0h0m1 0h0m1 0h0m1 0h0m1 0h0m6 0h0m3 0h0m1 0h0m1 0h0m1 0h0m2 0h0m1 0h0m2 0h0m2 0h0m1 0h0m1 0h0m2 0h0m2 0h0m1 0h0m9 0h0m13 0h0m-65 1h0m2 0h0m1 0h0m1 0h0m1 0h0m1 0h0m2 0h0m2 0h0m1 0h0m1 0h0m1 0h0m1 0h0m2 0h0m1 0h0m7 0h0m1 0h0m1 0h0m2 0h0m1 0h0m1 0h0m1 0h0m1 0h0m6 0h0m1 0h0m1 0h0m1 0h0m2 0h0m19 0h0m25 0h0m16 0h0m-107 1h0m1 0h0m1 0h0m1 0h0m1 0h0m1 0h0m4 0h0m1 0h0m1 0h0m3 0h0m1 0h0m1 0h0m1 0h0m1 0h0m2 0h0m1 0h0m1 0h0m4 0h0m1 0h0m1 0h0m4 0h0m1 0h0m3 0h0m2 0h0m1 0h0m1 0h0m2 0h0m2 0h0m1 0h0m2 0h0m-46 1h0m1 0h0m2 0h0m1 0h0m1 0h0m2 0h0m1 0h0m1 0h0m1 0h0m1 0h0m1 0h0m1 0h0m1 0h0m1 0h0m1 0h0m2 0h0m1 0h0m1 0h0m6 0h0m4 0h0m1 0h0m1 0h0m2 0h0m1 0h0m1 0h0m2 0h0m2 0h0m1 0h0m2 0h0m15 0h0m-59 1h0m2 0h0m2 0h0m1 0h0m1 0h0m2 0h0m1 0h0m3 0h0m1 0h0m1 0h0m1 0h0m1 0h0m1 0h0m1 0h0m1 0h0m1 0h0m2 0h0m5 0h0m3 0h0m1 0h0m1 0h0m2 0h0m1 0h0m6 0h0m2 0h0m3 0h0m1 0h0m41 0h0m-88 1h0m1 0h0m2 0h0m1 0h0m1 0h0m2 0h0m1 0h0m1 0h0m2 0h0m1 0h0m1 0h0m1 0h0m1 0h0m1 0h0m1 0h0m1 0h0m1 0h0m2 0h0m6 0h0m1 0h0m2 0h0m1 0h0m1 0h0m1 0h0m1 0h0m1 0h0m2 0h0m1 0h0m1 0h0m1 0h0m4 0h0m38 0h0m-82 1h0m1 0h0m1 0h0m3 0h0m1 0h0m2 0h0m3 0h0m1 0h0m1 0h0m1 0h0m1 0h0m2 0h0m1 0h0m1 0h0m1 0h0m2 0h0m6 0h0m1 0h0m1 0h0m1 0h0m4 0h0m1 0h0m2 0h0m1 0h0m1 0h0m4 0h0m1 0h0m78 0h0m-123 1h0m2 0h0m1 0h0m5 0h0m1 0h0m1 0h0m1 0h0m1 0h0m1 0h0m2 0h0m2 0h0m1 0h0m1 0h0m1 0h0m8 0h0m2 0h0m1 0h0m1 0h0m2 0h0m1 0h0m1 0h0m1 0h0m1 0h0m3 0h0m3 0h0m2 0h0m18 0h0m28 0h0m48 0h0m-140 1h0m1 0h0m1 0h0m3 0h0m1 0h0m2 0h0m1 0h0m1 0h0m1 0h0m1 0h0m1 0h0m1 0h0m1 0h0m2 0h0m1 0h0m1 0h0m1 0h0m1 0h0m7 0h0m3 0h0m2 0h0m4 0h0m1 0h0m1 0h0m5 0h0m1 0h0m48 0h0m-93 1h0m1 0h0m1 0h0m2 0h0m1 0h0m1 0h0m2 0h0m1 0h0m1 0h0m1 0h0m1 0h0m1 0h0m2 0h0m1 0h0m1 0h0m1 0h0m1 0h0m7 0h0m1 0h0m2 0h0m2 0h0m1 0h0m1 0h0m2 0h0m1 0h0m2 0h0m3 0h0m1 0h0m1 0h0m1 0h0m1 0h0m1 0h0m1 0h0m25 0h0m44 0h0m-116 1h0m2 0h0m1 0h0m1 0h0m1 0h0m1 0h0m2 0h0m1 0h0m1 0h0m1 0h0m1 0h0m1 0h0m2 0h0m1 0h0m1 0h0m1 0h0m3 0h0m5 0h0m1 0h0m1 0h0m3 0h0m1 0h0m2 0h0m1 0h0m1 0h0m2 0h0m1 0h0m3 0h0m1 0h0m3 0h0m14 0h0m9 0h0m-69 1h0m1 0h0m3 0h0m1 0h0m1 0h0m1 0h0m1 0h0m1 0h0m1 0h0m1 0h0m2 0h0m1 0h0m1 0h0m1 0h0m1 0h0m1 0h0m1 0h0m1 0h0m10 0h0m4 0h0m2 0h0m1 0h0m1 0h0m1 0h0m3 0h0m2 0h0m1 0h0m1 0h0m1 0h0m19 0h0m1 0h0m13 0h0m15 0h0m-95 1h0m1 0h0m2 0h0m1 0h0m4 0h0m2 0h0m1 0h0m3 0h0m1 0h0m1 0h0m1 0h0m1 0h0m1 0h0m2 0h0m7 0h0m1 0h0m1 0h0m2 0h0m1 0h0m2 0h0m1 0h0m2 0h0m1 0h0m1 0h0m4 0h0m-44 1h0m1 0h0m3 0h0m1 0h0m2 0h0m1 0h0m2 0h0m2 0h0m2 0h0m1 0h0m1 0h0m1 0h0m3 0h0m6 0h0m1 0h0m2 0h0m2 0h0m5 0h0m4 0h0m1 0h0m2 0h0m1 0h0m1 0h0m1 0h0m1 0h0m8 0h0m-55 1h0m2 0h0m3 0h0m1 0h0m1 0h0m1 0h0m2 0h0m3 0h0m4 0h0m1 0h0m1 0h0m1 0h0m1 0h0m5 0h0m1 0h0m2 0h0m1 0h0m7 0h0m1 0h0m1 0h0m1 0h0m5 0h0m11 0h0m10 0h0m27 0h0m-93 1h0m1 0h0m1 0h0m2 0h0m1 0h0m1 0h0m1 0h0m3 0h0m1 0h0m2 0h0m2 0h0m1 0h0m1 0h0m2 0h0m1 0h0m1 0h0m7 0h0m1 0h0m1 0h0m1 0h0m1 0h0m2 0h0m3 0h0m2 0h0m1 0h0m2 0h0m1 0h0m1 0h0m1 0h0m1 0h0m25 0h0m-71 1h0m1 0h0m1 0h0m1 0h0m1 0h0m1 0h0m1 0h0m1 0h0m1 0h0m1 0h0m1 0h0m1 0h0m1 0h0m1 0h0m3 0h0m1 0h0m1 0h0m1 0h0m1 0h0m1 0h0m1 0h0m4 0h0m1 0h0m3 0h0m1 0h0m1 0h0m1 0h0m1 0h0m2 0h0m2 0h0m2 0h0m2 0h0m2 0h0m1 0h0m2 0h0m-47 1h0m1 0h0m1 0h0m1 0h0m1 0h0m1 0h0m1 0h0m1 0h0m2 0h0m1 0h0m1 0h0m1 0h0m1 0h0m1 0h0m2 0h0m1 0h0m1 0h0m1 0h0m2 0h0m8 0h0m1 0h0m1 0h0m1 0h0m1 0h0m4 0h0m1 0h0m2 0h0m1 0h0m4 0h0m1 0h0m1 0h0m-46 1h0m1 0h0m3 0h0m2 0h0m1 0h0m1 0h0m1 0h0m1 0h0m5 0h0m1 0h0m1 0h0m1 0h0m1 0h0m6 0h0m1 0h0m1 0h0m1 0h0m2 0h0m1 0h0m1 0h0m1 0h0m2 0h0m1 0h0m1 0h0m2 0h0m1 0h0m2 0h0m2 0h0m1 0h0m1 0h0m-47 1h0m2 0h0m1 0h0m2 0h0m1 0h0m1 0h0m1 0h0m1 0h0m1 0h0m1 0h0m1 0h0m1 0h0m1 0h0m1 0h0m2 0h0m2 0h0m1 0h0m1 0h0m5 0h0m5 0h0m1 0h0m2 0h0m2 0h0m1 0h0m1 0h0m2 0h0m1 0h0m1 0h0m3 0h0m1 0h0m21 0h0m-67 1h0m1 0h0m1 0h0m1 0h0m2 0h0m1 0h0m1 0h0m3 0h0m2 0h0m1 0h0m2 0h0m1 0h0m3 0h0m1 0h0m1 0h0m6 0h0m1 0h0m2 0h0m1 0h0m3 0h0m1 0h0m2 0h0m3 0h0m2 0h0m1 0h0m1 0h0m1 0h0m1 0h0m39 0h0m-85 1h0m4 0h0m2 0h0m1 0h0m1 0h0m2 0h0m1 0h0m1 0h0m1 0h0m1 0h0m1 0h0m1 0h0m3 0h0m2 0h0m1 0h0m5 0h0m2 0h0m2 0h0m3 0h0m1 0h0m1 0h0m1 0h0m4 0h0m1 0h0m1 0h0m2 0h0m9 0h0m44 0h0m-98 1h0m1 0h0m1 0h0m1 0h0m3 0h0m1 0h0m3 0h0m3 0h0m1 0h0m1 0h0m2 0h0m1 0h0m1 0h0m1 0h0m2 0h0m4 0h0m4 0h0m1 0h0m1 0h0m2 0h0m1 0h0m2 0h0m2 0h0m3 0h0m1 0h0m2 0h0m1 0h0m7 0h0m1 0h0m27 0h0m6 0h0m-86 1h0m1 0h0m1 0h0m1 0h0m3 0h0m1 0h0m1 0h0m1 0h0m1 0h0m1 0h0m2 0h0m1 0h0m3 0h0m2 0h0m1 0h0m6 0h0m1 0h0m2 0h0m1 0h0m1 0h0m3 0h0m2 0h0m1 0h0m4 0h0m1 0h0m2 0h0m1 0h0m9 0h0m17 0h0m17 0h0m8 0h0m48 0h0m-145 1h0m1 0h0m1 0h0m2 0h0m2 0h0m1 0h0m3 0h0m1 0h0m1 0h0m2 0h0m1 0h0m2 0h0m2 0h0m1 0h0m1 0h0m6 0h0m4 0h0m2 0h0m2 0h0m2 0h0m3 0h0m2 0h0m2 0h0m2 0h0m1 0h0m44 0h0m54 0h0m-143 1h0m1 0h0m1 0h0m1 0h0m1 0h0m1 0h0m1 0h0m2 0h0m1 0h0m1 0h0m1 0h0m1 0h0m1 0h0m1 0h0m1 0h0m3 0h0m1 0h0m1 0h0m6 0h0m5 0h0m1 0h0m3 0h0m2 0h0m1 0h0m5 0h0m1 0h0m14 0h0m-60 1h0m1 0h0m1 0h0m1 0h0m3 0h0m1 0h0m1 0h0m1 0h0m2 0h0m1 0h0m2 0h0m1 0h0m1 0h0m1 0h0m2 0h0m1 0h0m1 0h0m5 0h0m7 0h0m1 0h0m1 0h0m2 0h0m5 0h0m1 0h0m1 0h0m1 0h0m2 0h0m13 0h0m8 0h0m23 0h0m-90 1h0m2 0h0m1 0h0m1 0h0m1 0h0m1 0h0m1 0h0m1 0h0m1 0h0m1 0h0m4 0h0m2 0h0m1 0h0m2 0h0m1 0h0m1 0h0m5 0h0m2 0h0m6 0h0m1 0h0m1 0h0m2 0h0m1 0h0m1 0h0m1 0h0m3 0h0m1 0h0m1 0h0m85 0h0m-132 1h0m3 0h0m1 0h0m2 0h0m1 0h0m1 0h0m1 0h0m1 0h0m1 0h0m1 0h0m2 0h0m1 0h0m1 0h0m1 0h0m3 0h0m1 0h0m5 0h0m1 0h0m2 0h0m2 0h0m2 0h0m1 0h0m2 0h0m2 0h0m1 0h0m1 0h0m1 0h0m1 0h0m1 0h0m1 0h0m11 0h0m39 0h0m-94 1h0m1 0h0m1 0h0m1 0h0m1 0h0m1 0h0m1 0h0m1 0h0m1 0h0m3 0h0m1 0h0m1 0h0m1 0h0m2 0h0m1 0h0m1 0h0m1 0h0m1 0h0m6 0h0m1 0h0m4 0h0m1 0h0m1 0h0m5 0h0m1 0h0m2 0h0m1 0h0m2 0h0m3 0h0m-47 1h0m1 0h0m2 0h0m3 0h0m1 0h0m1 0h0m1 0h0m2 0h0m1 0h0m1 0h0m2 0h0m1 0h0m2 0h0m2 0h0m1 0h0m6 0h0m3 0h0m5 0h0m1 0h0m1 0h0m1 0h0m3 0h0m1 0h0m1 0h0m1 0h0m1 0h0m2 0h0m-47 1h0m2 0h0m2 0h0m1 0h0m1 0h0m1 0h0m1 0h0m1 0h0m1 0h0m1 0h0m1 0h0m1 0h0m1 0h0m1 0h0m1 0h0m1 0h0m1 0h0m1 0h0m1 0h0m1 0h0m5 0h0m2 0h0m3 0h0m1 0h0m2 0h0m1 0h0m2 0h0m1 0h0m1 0h0m1 0h0m4 0h0m3 0h0m-47 1h0m1 0h0m2 0h0m1 0h0m1 0h0m1 0h0m2 0h0m2 0h0m1 0h0m1 0h0m1 0h0m2 0h0m1 0h0m2 0h0m2 0h0m1 0h0m6 0h0m2 0h0m1 0h0m2 0h0m1 0h0m4 0h0m1 0h0m1 0h0m2 0h0m1 0h0m1 0h0m2 0h0m2 0h0m16 0h0m9 0h0m19 0h0m-91 1h0m1 0h0m1 0h0m1 0h0m1 0h0m1 0h0m2 0h0m1 0h0m3 0h0m1 0h0m1 0h0m2 0h0m1 0h0m1 0h0m1 0h0m2 0h0m1 0h0m1 0h0m5 0h0m6 0h0m1 0h0m2 0h0m7 0h0m1 0h0m2 0h0m23 0h0m26 0h0m49 0h0m-144 1h0m2 0h0m1 0h0m1 0h0m5 0h0m1 0h0m2 0h0m1 0h0m1 0h0m2 0h0m1 0h0m1 0h0m1 0h0m1 0h0m1 0h0m5 0h0m4 0h0m3 0h0m2 0h0m1 0h0m2 0h0m1 0h0m3 0h0m2 0h0m3 0h0m-47 1h0m1 0h0m1 0h0m1 0h0m1 0h0m1 0h0m1 0h0m1 0h0m1 0h0m5 0h0m2 0h0m1 0h0m2 0h0m1 0h0m2 0h0m8 0h0m1 0h0m3 0h0m5 0h0m3 0h0m1 0h0m2 0h0m2 0h0m15 0h0m-61 1h0m1 0h0m2 0h0m1 0h0m2 0h0m1 0h0m1 0h0m1 0h0m2 0h0m3 0h0m2 0h0m1 0h0m3 0h0m1 0h0m5 0h0m4 0h0m2 0h0m1 0h0m1 0h0m1 0h0m1 0h0m1 0h0m1 0h0m1 0h0m4 0h0m2 0h0m1 0h0m10 0h0m33 0h0m19 0h0m-108 1h0m2 0h0m1 0h0m1 0h0m1 0h0m1 0h0m1 0h0m1 0h0m1 0h0m1 0h0m2 0h0m1 0h0m1 0h0m1 0h0m1 0h0m1 0h0m1 0h0m1 0h0m1 0h0m7 0h0m2 0h0m1 0h0m1 0h0m1 0h0m2 0h0m1 0h0m1 0h0m2 0h0m1 0h0m1 0h0m2 0h0m2 0h0m1 0h0m1 0h0m20 0h0m24 0h0m-89 1h0m1 0h0m1 0h0m2 0h0m1 0h0m1 0h0m1 0h0m1 0h0m1 0h0m1 0h0m1 0h0m2 0h0m1 0h0m3 0h0m2 0h0m1 0h0m6 0h0m4 0h0m1 0h0m1 0h0m2 0h0m1 0h0m1 0h0m1 0h0m2 0h0m2 0h0m1 0h0m2 0h0m-44 1h0m1 0h0m3 0h0m2 0h0m1 0h0m1 0h0m1 0h0m1 0h0m2 0h0m1 0h0m1 0h0m1 0h0m1 0h0m2 0h0m1 0h0m7 0h0m2 0h0m1 0h0m1 0h0m1 0h0m3 0h0m5 0h0m1 0h0m1 0h0m3 0h0m2 0h0m49 0h0m-95 1h0m1 0h0m3 0h0m1 0h0m1 0h0m1 0h0m1 0h0m1 0h0m3 0h0m1 0h0m1 0h0m1 0h0m1 0h0m1 0h0m1 0h0m1 0h0m1 0h0m5 0h0m1 0h0m1 0h0m1 0h0m1 0h0m1 0h0m1 0h0m1 0h0m1 0h0m3 0h0m2 0h0m1 0h0m1 0h0m1 0h0m2 0h0m39 0h0m-83 1h0m1 0h0m1 0h0m1 0h0m2 0h0m1 0h0m1 0h0m3 0h0m1 0h0m1 0h0m1 0h0m2 0h0m1 0h0m2 0h0m1 0h0m1 0h0m1 0h0m1 0h0m5 0h0m3 0h0m1 0h0m1 0h0m2 0h0m1 0h0m1 0h0m1 0h0m1 0h0m2 0h0m1 0h0m2 0h0m1 0h0m3 0h0m16 0h0m32 0h0m-95 1h0m1 0h0m1 0h0m1 0h0m1 0h0m1 0h0m1 0h0m1 0h0m2 0h0m2 0h0m1 0h0m1 0h0m1 0h0m1 0h0m1 0h0m2 0h0m1 0h0m1 0h0m1 0h0m5 0h0m2 0h0m2 0h0m1 0h0m1 0h0m1 0h0m3 0h0m1 0h0m3 0h0m1 0h0m3 0h0m2 0h0m1 0h0m-47 1h0m1 0h0m2 0h0m1 0h0m1 0h0m1 0h0m1 0h0m1 0h0m1 0h0m2 0h0m1 0h0m1 0h0m1 0h0m1 0h0m4 0h0m1 0h0m1 0h0m5 0h0m6 0h0m1 0h0m1 0h0m2 0h0m4 0h0m4 0h0m3 0h0m44 0h0m-91 1h0m1 0h0m1 0h0m1 0h0m1 0h0m3 0h0m1 0h0m1 0h0m1 0h0m2 0h0m1 0h0m1 0h0m2 0h0m1 0h0m1 0h0m1 0h0m1 0h0m1 0h0m5 0h0m1 0h0m1 0h0m1 0h0m1 0h0m3 0h0m1 0h0m1 0h0m1 0h0m1 0h0m1 0h0m1 0h0m2 0h0m1 0h0m1 0h0m1 0h0m1 0h0m45 0h0m7 0h0m47 0h0m-142 1h0m2 0h0m2 0h0m1 0h0m2 0h0m1 0h0m1 0h0m1 0h0m1 0h0m1 0h0m1 0h0m1 0h0m1 0h0m1 0h0m2 0h0m2 0h0m4 0h0m2 0h0m1 0h0m2 0h0m1 0h0m1 0h0m1 0h0m2 0h0m1 0h0m1 0h0m1 0h0m1 0h0m1 0h0m3 0h0m1 0h0m-44 1h0m1 0h0m2 0h0m2 0h0m1 0h0m1 0h0m2 0h0m3 0h0m2 0h0m1 0h0m1 0h0m1 0h0m1 0h0m1 0h0m7 0h0m1 0h0m1 0h0m5 0h0m1 0h0m2 0h0m4 0h0m2 0h0m1 0h0m1 0h0m1 0h0m18 0h0m-64 1h0m2 0h0m1 0h0m1 0h0m2 0h0m1 0h0m1 0h0m1 0h0m2 0h0m1 0h0m2 0h0m1 0h0m1 0h0m1 0h0m1 0h0m1 0h0m2 0h0m1 0h0m4 0h0m1 0h0m1 0h0m1 0h0m1 0h0m2 0h0m1 0h0m1 0h0m2 0h0m1 0h0m3 0h0m1 0h0m1 0h0m1 0h0m3 0h0m26 0h0m-71 1h0m3 0h0m1 0h0m1 0h0m2 0h0m3 0h0m1 0h0m1 0h0m1 0h0m3 0h0m2 0h0m1 0h0m1 0h0m14 0h0m2 0h0m3 0h0m1 0h0m3 0h0m1 0h0m2 0h0m23 0h0m-70 1h0m1 0h0m5 0h0m1 0h0m1 0h0m2 0h0m3 0h0m2 0h0m3 0h0m1 0h0m11 0h0m15 0h0m1 0h0m10 0h0m-40 1h0m2 0h0m120 0h0m-84 1h0m16 1h0m68 0h0m-28 1h0m5 3h0" stroke="#000" stroke-width="1.00" stroke-linecap="square" fill="none"/>
<line x1="47.50" y1="835.30" x2="47.50" y2="950.00" stroke="#222" stroke-width="1.00"/>
<path d="M35.80,950.30 C33.36,950.17 37.07,949.49 37.70,949.20 C38.33,948.91 40.44,948.14 41.20,947.80 C41.96,947.46 43.64,946.60 44.20,946.30 C44.76,946.00 45.70,945.47 46.00,945.20 C46.30,944.93 46.61,944.14 46.80,944.00 C46.99,943.86 47.41,943.86 47.60,944.00 C47.79,944.14 48.10,944.93 48.40,945.20 C48.70,945.47 49.64,946.00 50.20,946.30 C50.76,946.60 52.44,947.46 53.20,947.80 C53.96,948.14 56.07,948.91 56.70,949.20 C57.33,949.49 61.04,950.17 58.60,950.30 C56.16,950.43 38.24,950.43 35.80,950.30Z" stroke="#222" stroke-width="0.70" fill="#F8766D"/>
<line x1="73.50" y1="839.40" x2="73.50" y2="950.00" stroke="#222" stroke-width="1.00"/>
<path d="M61.40,950.30 C58.84,950.09 62.34,949.00 62.70,948.50 C63.06,948.00 64.00,946.64 64.50,946.00 C65.00,945.36 66.47,943.70 67.00,943.00 C67.53,942.30 68.57,940.70 69.00,940.00 C69.43,939.30 70.42,937.82 70.70,937.00 C70.98,936.18 71.29,934.05 71.40,933.00 C71.51,931.95 71.61,930.10 71.65,928.00 C71.69,925.90 71.72,918.27 71.75,915.00 C71.78,911.73 71.86,903.15 71.90,900.00 C71.94,896.85 72.02,890.68 72.10,888.00 C72.18,885.32 72.45,878.28 72.60,877.00 C72.75,875.72 73.25,875.72 73.40,877.00 C73.55,878.28 73.82,885.32 73.90,888.00 C73.98,890.68 74.06,896.85 74.10,900.00 C74.14,903.15 74.22,911.73 74.25,915.00 C74.28,918.27 74.31,925.90 74.35,928.00 C74.39,930.10 74.49,931.95 74.60,933.00 C74.71,934.05 75.02,936.18 75.30,937.00 C75.58,937.82 76.57,939.30 77.00,940.00 C77.43,940.70 78.47,942.30 79.00,943.00 C79.53,943.70 81.00,945.36 81.50,946.00 C82.00,946.64 82.94,948.00 83.30,948.50 C83.66,949.00 87.16,950.09 84.60,950.30 C82.04,950.51 63.95,950.51 61.40,950.30Z" stroke="#222" stroke-width="0.70" fill="#B79F00"/>
<line x1="99.50" y1="858.80" x2="99.50" y2="950.00" stroke="#222" stroke-width="1.00"/>
<line x1="87.70" y1="950.00" x2="110.30" y2="950.00" stroke="#222" stroke-width="1.50"/>
<line x1="125.50" y1="853.30" x2="125.50" y2="950.00" stroke="#222" stroke-width="1.00"/>
<line x1="114.10" y1="950.00" x2="136.70" y2="950.00" stroke="#222" stroke-width="1.50"/>
<line x1="151.50" y1="894.30" x2="151.50" y2="950.00" stroke="#222" stroke-width="1.00"/>
<line x1="139.90" y1="950.00" x2="162.50" y2="950.00" stroke="#222" stroke-width="1.50"/>
<line x1="177.50" y1="825.50" x2="177.50" y2="950.00" stroke="#222" stroke-width="1.00"/>
<path d="M165.80,950.30 C163.15,950.12 166.24,949.21 166.50,948.80 C166.76,948.39 167.53,947.34 168.00,946.80 C168.47,946.26 169.92,944.88 170.50,944.20 C171.08,943.52 172.53,941.72 173.00,941.00 C173.47,940.28 174.23,938.76 174.50,938.00 C174.77,937.24 175.12,936.02 175.30,934.50 C175.48,932.98 175.87,927.27 176.00,925.00 C176.13,922.73 176.32,917.57 176.40,915.00 C176.48,912.43 176.63,905.92 176.70,903.00 C176.77,900.08 176.95,893.27 177.00,890.00 C177.05,886.73 177.12,879.67 177.15,875.00 C177.18,870.33 177.23,855.72 177.25,850.00 C177.27,844.28 177.30,828.80 177.35,826.00 C177.40,823.20 177.60,823.20 177.65,826.00 C177.70,828.80 177.73,844.28 177.75,850.00 C177.77,855.72 177.82,870.33 177.85,875.00 C177.88,879.67 177.95,886.73 178.00,890.00 C178.05,893.27 178.23,900.08 178.30,903.00 C178.37,905.92 178.52,912.43 178.60,915.00 C178.68,917.57 178.87,922.73 179.00,925.00 C179.13,927.27 179.52,932.98 179.70,934.50 C179.88,936.02 180.23,937.24 180.50,938.00 C180.77,938.76 181.53,940.28 182.00,941.00 C182.47,941.72 183.92,943.52 184.50,944.20 C185.08,944.88 186.53,946.26 187.00,946.80 C187.47,947.34 188.24,948.39 188.50,948.80 C188.76,949.21 191.85,950.12 189.20,950.30 C186.55,950.47 168.45,950.47 165.80,950.30Z" stroke="#222" stroke-width="0.70" fill="#F564E3"/>
<line x1="29.30" y1="954.10" x2="189.20" y2="954.10" stroke="#000" stroke-width="1.60"/>
<line x1="47.20" y1="954.10" x2="47.20" y2="957.90" stroke="#000" stroke-width="1.30"/>
<line x1="73.00" y1="954.10" x2="73.00" y2="957.90" stroke="#000" stroke-width="1.30"/>
<line x1="99.00" y1="954.10" x2="99.00" y2="957.90" stroke="#000" stroke-width="1.30"/>
<line x1="125.40" y1="954.10" x2="125.40" y2="957.90" stroke="#000" stroke-width="1.30"/>
<line x1="151.20" y1="954.10" x2="151.20" y2="957.90" stroke="#000" stroke-width="1.30"/>
<line x1="177.50" y1="954.10" x2="177.50" y2="957.90" stroke="#000" stroke-width="1.30"/>
<path d="M242.5 839.5h0m-10 1h0m10 0h0m5 0h0m-17 1h0m3 0h0m2 0h0m5 0h0m-12 1h0m2 0h0m2 0h0m13 0h0m-17 2h0m7 0h0m3 0h0m-2 1h0m5 0h0m3 0h0m-16 1h0m1 0h0m2 1h0m9 0h0m6 0h0m-14 1h0m1 0h0m1 0h0m1 0h0m1 1h0m10 0h0m-19 1h0m4 0h0m3 0h0m2 0h0m1 0h0m-6 1h0m5 0h0m-9 1h0m8 0h0m2 0h0m-36 1h0m2 0h0m31 0h0m2 0h0m62 0h0m-95 1h0m7 0h0m1 0h0m3 0h0m19 0h0m1 0h0m1 0h0m5 0h0m5 0h0m1 0h0m-32 1h0m4 0h0m17 0h0m2 0h0m6 0h0m38 0h0m-81 1h0m27 0h0m7 0h0m6 0h0m5 0h0m12 0h0m15 0h0m10 0h0m-64 1h0m3 0h0m6 0h0m1 0h0m4 0h0m3 0h0m5 0h0m-19 1h0m10 0h0m3 0h0m1 0h0m3 0h0m1 0h0m1 0h0m14 0h0m4 0h0m-27 1h0m2 0h0m6 0h0m6 0h0m3 0h0m-21 1h0m2 0h0m1 0h0m1 0h0m4 0h0m2 0h0m1 0h0m1 0h0m1 0h0m18 0h0m15 0h0m-46 1h0m4 0h0m1 0h0m1 0h0m4 0h0m1 0h0m6 0h0m9 0h0m2 0h0m64 0h0m-113 1h0m3 0h0m11 0h0m14 0h0m3 0h0m2 0h0m3 0h0m3 0h0m2 0h0m42 0h0m20 0h0m-71 1h0m1 0h0m1 0h0m1 0h0m2 0h0m4 0h0m-44 1h0m9 0h0m1 0h0m15 0h0m1 0h0m3 0h0m3 0h0m4 0h0m3 0h0m1 0h0m1 0h0m3 0h0m15 0h0m6 0h0m19 0h0m26 0h0m-108 1h0m4 0h0m18 0h0m3 0h0m3 0h0m2 0h0m2 0h0m3 0h0m1 0h0m3 0h0m17 0h0m12 0h0m20 0h0m-66 1h0m4 0h0m1 0h0m1 0h0m1 0h0m2 0h0m2 0h0m8 0h0m1 0h0m1 0h0m20 0h0m-41 1h0m1 0h0m4 0h0m3 0h0m1 0h0m4 0h0m3 0h0m25 0h0m48 0h0m-108 1h0m12 0h0m11 0h0m2 0h0m2 0h0m1 0h0m1 0h0m2 0h0m1 0h0m6 0h0m1 0h0m9 0h0m5 0h0m5 0h0m2 0h0m6 0h0m14 0h0m18 0h0m18 0h0m-121 1h0m4 0h0m20 0h0m1 0h0m2 0h0m2 0h0m4 0h0m1 0h0m3 0h0m1 0h0m1 0h0m6 0h0m7 0h0m35 0h0m6 0h0m19 0h0m8 0h0m-121 1h0m1 0h0m18 0h0m8 0h0m8 0h0m1 0h0m1 0h0m7 0h0m1 0h0m1 0h0m7 0h0m-27 1h0m2 0h0m2 0h0m1 0h0m1 0h0m2 0h0m1 0h0m1 0h0m1 0h0m1 0h0m1 0h0m1 0h0m1 0h0m2 0h0m1 0h0m68 0h0m-105 1h0m5 0h0m13 0h0m1 0h0m2 0h0m1 0h0m1 0h0m1 0h0m2 0h0m1 0h0m1 0h0m1 0h0m1 0h0m1 0h0m4 0h0m1 0h0m1 0h0m1 0h0m1 0h0m10 0h0m2 0h0m1 0h0m1 0h0m10 0h0m17 0h0m-88 1h0m27 0h0m1 0h0m2 0h0m1 0h0m2 0h0m3 0h0m2 0h0m1 0h0m1 0h0m1 0h0m1 0h0m2 0h0m2 0h0m11 0h0m7 0h0m5 0h0m47 0h0m-111 1h0m7 0h0m14 0h0m1 0h0m1 0h0m1 0h0m1 0h0m1 0h0m1 0h0m1 0h0m2 0h0m2 0h0m1 0h0m1 0h0m1 0h0m1 0h0m1 0h0m2 0h0m1 0h0m1 0h0m14 0h0m4 0h0m1 0h0m4 0h0m-58 1h0m15 0h0m1 0h0m1 0h0m1 0h0m1 0h0m1 0h0m1 0h0m1 0h0m1 0h0m1 0h0m1 0h0m1 0h0m1 0h0m1 0h0m2 0h0m1 0h0m1 0h0m1 0h0m1 0h0m1 0h0m12 0h0m-43 1h0m1 0h0m4 0h0m6 0h0m3 0h0m1 0h0m1 0h0m1 0h0m1 0h0m1 0h0m1 0h0m1 0h0m3 0h0m1 0h0m1 0h0m1 0h0m1 0h0m1 0h0m1 0h0m1 0h0m14 0h0m1 0h0m1 0h0m1 0h0m7 0h0m13 0h0m-83 1h0m2 0h0m3 0h0m5 0h0m1 0h0m5 0h0m10 0h0m1 0h0m1 0h0m1 0h0m1 0h0m1 0h0m1 0h0m1 0h0m1 0h0m1 0h0m1 0h0m1 0h0m1 0h0m1 0h0m1 0h0m1 0h0m1 0h0m1 0h0m1 0h0m1 0h0m1 0h0m1 0h0m6 0h0m5 0h0m1 0h0m1 0h0m2 0h0m1 0h0m4 0h0m1 0h0m14 0h0m-82 1h0m4 0h0m3 0h0m1 0h0m1 0h0m8 0h0m1 0h0m2 0h0m7 0h0m2 0h0m1 0h0m1 0h0m1 0h0m1 0h0m1 0h0m1 0h0m1 0h0m1 0h0m1 0h0m1 0h0m2 0h0m1 0h0m1 0h0m1 0h0m1 0h0m1 0h0m1 0h0m13 0h0m1 0h0m1 0h0m1 0h0m1 0h0m2 0h0m1 0h0m16 0h0m4 0h0m-83 1h0m22 0h0m1 0h0m1 0h0m1 0h0m1 0h0m1 0h0m1 0h0m1 0h0m1 0h0m1 0h0m1 0h0m1 0h0m1 0h0m1 0h0m1 0h0m1 0h0m1 0h0m1 0h0m1 0h0m1 0h0m1 0h0m1 0h0m6 0h0m7 0h0m1 0h0m2 0h0m3 0h0m5 0h0m-71 1h0m6 0h0m5 0h0m5 0h0m10 0h0m1 0h0m1 0h0m1 0h0m1 0h0m1 0h0m1 0h0m1 0h0m1 0h0m1 0h0m1 0h0m1 0h0m1 0h0m1 0h0m1 0h0m1 0h0m1 0h0m1 0h0m1 0h0m1 0h0m1 0h0m1 0h0m5 0h0m1 0h0m5 0h0m1 0h0m3 0h0m1 0h0m1 0h0m2 0h0m1 0h0m2 0h0m1 0h0m-68 1h0m1 0h0m8 0h0m2 0h0m13 0h0m1 0h0m1 0h0m1 0h0m1 0h0m1 0h0m1 0h0m1 0h0m1 0h0m1 0h0m1 0h0m1 0h0m1 0h0m1 0h0m1 0h0m2 0h0m1 0h0m1 0h0m1 0h0m1 0h0m12 0h0m1 0h0m1 0h0m2 0h0m10 0h0m-73 1h0m9 0h0m18 0h0m1 0h0m1 0h0m1 0h0m1 0h0m1 0h0m1 0h0m1 0h0m1 0h0m1 0h0m1 0h0m1 0h0m2 0h0m1 0h0m1 0h0m1 0h0m1 0h0m1 0h0m1 0h0m1 0h0m5 0h0m1 0h0m1 0h0m2 0h0m1 0h0m8 0h0m4 0h0m2 0h0m3 0h0m6 0h0m-79 1h0m15 0h0m5 0h0m6 0h0m1 0h0m1 0h0m2 0h0m1 0h0m1 0h0m1 0h0m1 0h0m1 0h0m1 0h0m1 0h0m1 0h0m1 0h0m1 0h0m1 0h0m1 0h0m1 0h0m1 0h0m1 0h0m1 0h0m1 0h0m10 0h0m5 0h0m1 0h0m3 0h0m1 0h0m2 0h0m47 0h0m-117 1h0m2 0h0m1 0h0m2 0h0m3 0h0m1 0h0m3 0h0m8 0h0m7 0h0m1 0h0m1 0h0m1 0h0m1 0h0m1 0h0m1 0h0m1 0h0m1 0h0m1 0h0m1 0h0m1 0h0m1 0h0m1 0h0m1 0h0m1 0h0m1 0h0m1 0h0m1 0h0m1 0h0m1 0h0m1 0h0m4 0h0m1 0h0m3 0h0m5 0h0m12 0h0m25 0h0m-94 1h0m3 0h0m2 0h0m7 0h0m3 0h0m1 0h0m7 0h0m1 0h0m1 0h0m1 0h0m1 0h0m1 0h0m1 0h0m1 0h0m1 0h0m2 0h0m1 0h0m1 0h0m3 0h0m1 0h0m1 0h0m1 0h0m1 0h0m1 0h0m1 0h0m7 0h0m4 0h0m8 0h0m2 0h0m2 0h0m11 0h0m24 0h0m12 0h0m-115 1h0m3 0h0m4 0h0m4 0h0m13 0h0m1 0h0m1 0h0m1 0h0m1 0h0m1 0h0m1 0h0m1 0h0m1 0h0m1 0h0m1 0h0m1 0h0m1 0h0m2 0h0m1 0h0m1 0h0m1 0h0m1 0h0m2 0h0m6 0h0m9 0h0m1 0h0m7 0h0m-65 1h0m1 0h0m1 0h0m3 0h0m1 0h0m1 0h0m1 0h0m4 0h0m2 0h0m2 0h0m6 0h0m1 0h0m1 0h0m1 0h0m1 0h0m1 0h0m1 0h0m1 0h0m1 0h0m1 0h0m1 0h0m1 0h0m1 0h0m1 0h0m1 0h0m1 0h0m1 0h0m1 0h0m1 0h0m1 0h0m1 0h0m1 0h0m6 0h0m2 0h0m3 0h0m1 0h0m1 0h0m2 0h0m1 0h0m2 0h0m-62 1h0m1 0h0m4 0h0m3 0h0m3 0h0m3 0h0m2 0h0m7 0h0m1 0h0m1 0h0m1 0h0m1 0h0m1 0h0m1 0h0m1 0h0m1 0h0m1 0h0m1 0h0m1 0h0m1 0h0m2 0h0m1 0h0m1 0h0m1 0h0m1 0h0m2 0h0m1 0h0m5 0h0m8 0h0m4 0h0m3 0h0m1 0h0m2 0h0m2 0h0m-72 1h0m3 0h0m2 0h0m7 0h0m5 0h0m1 0h0m8 0h0m1 0h0m1 0h0m1 0h0m1 0h0m1 0h0m1 0h0m1 0h0m1 0h0m1 0h0m1 0h0m1 0h0m1 0h0m1 0h0m1 0h0m1 0h0m1 0h0m1 0h0m1 0h0m1 0h0m1 0h0m1 0h0m5 0h0m7 0h0m6 0h0m1 0h0m74 0h0m5 0h0m-146 1h0m1 0h0m1 0h0m2 0h0m5 0h0m4 0h0m1 0h0m1 0h0m2 0h0m2 0h0m8 0h0m1 0h0m2 0h0m2 0h0m1 0h0m1 0h0m1 0h0m1 0h0m1 0h0m1 0h0m2 0h0m1 0h0m1 0h0m1 0h0m1 0h0m1 0h0m1 0h0m2 0h0m9 0h0m10 0h0m1 0h0m2 0h0m72 0h0m-142 1h0m1 0h0m1 0h0m1 0h0m14 0h0m2 0h0m1 0h0m2 0h0m5 0h0m1 0h0m1 0h0m1 0h0m1 0h0m1 0h0m2 0h0m1 0h0m2 0h0m1 0h0m1 0h0m1 0h0m1 0h0m1 0h0m1 0h0m2 0h0m1 0h0m1 0h0m1 0h0m10 0h0m2 0h0m1 0h0m2 0h0m4 0h0m1 0h0m5 0h0m-71 1h0m2 0h0m1 0h0m1 0h0m2 0h0m4 0h0m1 0h0m2 0h0m1 0h0m2 0h0m2 0h0m1 0h0m6 0h0m1 0h0m1 0h0m1 0h0m1 0h0m1 0h0m1 0h0m2 0h0m1 0h0m1 0h0m1 0h0m1 0h0m1 0h0m1 0h0m1 0h0m1 0h0m1 0h0m1 0h0m1 0h0m1 0h0m1 0h0m7 0h0m1 0h0m4 0h0m2 0h0m1 0h0m2 0h0m1 0h0m2 0h0m2 0h0m2 0h0m-71 1h0m2 0h0m1 0h0m1 0h0m1 0h0m2 0h0m3 0h0m1 0h0m2 0h0m1 0h0m4 0h0m1 0h0m7 0h0m1 0h0m1 0h0m1 0h0m1 0h0m1 0h0m1 0h0m1 0h0m2 0h0m1 0h0m1 0h0m1 0h0m1 0h0m1 0h0m1 0h0m1 0h0m1 0h0m3 0h0m12 0h0m7 0h0m4 0h0m76 0h0m2 0h0m-147 1h0m1 0h0m5 0h0m1 0h0m1 0h0m1 0h0m1 0h0m1 0h0m1 0h0m1 0h0m1 0h0m1 0h0m2 0h0m1 0h0m1 0h0m1 0h0m6 0h0m1 0h0m1 0h0m1 0h0m1 0h0m1 0h0m1 0h0m1 0h0m1 0h0m1 0h0m1 0h0m1 0h0m1 0h0m1 0h0m1 0h0m1 0h0m1 0h0m1 0h0m1 0h0m1 0h0m1 0h0m1 0h0m6 0h0m1 0h0m2 0h0m3 0h0m5 0h0m1 0h0m2 0h0m2 0h0m1 0h0m3 0h0m-74 1h0m1 0h0m1 0h0m3 0h0m1 0h0m1 0h0m1 0h0m1 0h0m1 0h0m1 0h0m2 0h0m2 0h0m1 0h0m2 0h0m1 0h0m1 0h0m7 0h0m1 0h0m1 0h0m1 0h0m1 0h0m1 0h0m2 0h0m1 0h0m1 0h0m1 0h0m1 0h0m1 0h0m1 0h0m1 0h0m1 0h0m1 0h0m1 0h0m1 0h0m1 0h0m1 0h0m1 0h0m5 0h0m1 0h0m1 0h0m1 0h0m1 0h0m2 0h0m2 0h0m1 0h0m1 0h0m1 0h0m1 0h0m7 0h0m1 0h0m-71 1h0m1 0h0m4 0h0m2 0h0m3 0h0m3 0h0m1 0h0m1 0h0m1 0h0m1 0h0m1 0h0m1 0h0m6 0h0m1 0h0m1 0h0m1 0h0m1 0h0m1 0h0m1 0h0m1 0h0m2 0h0m1 0h0m1 0h0m1 0h0m1 0h0m1 0h0m1 0h0m2 0h0m1 0h0m1 0h0m1 0h0m1 0h0m9 0h0m5 0h0m2 0h0m2 0h0m1 0h0m1 0h0m-67 1h0m2 0h0m3 0h0m1 0h0m1 0h0m1 0h0m1 0h0m2 0h0m1 0h0m1 0h0m2 0h0m1 0h0m2 0h0m1 0h0m7 0h0m1 0h0m1 0h0m1 0h0m2 0h0m1 0h0m1 0h0m1 0h0m1 0h0m1 0h0m1 0h0m1 0h0m1 0h0m1 0h0m1 0h0m1 0h0m1 0h0m1 0h0m1 0h0m1 0h0m1 0h0m10 0h0m4 0h0m1 0h0m1 0h0m1 0h0m1 0h0m2 0h0m18 0h0m-85 1h0m1 0h0m1 0h0m1 0h0m1 0h0m2 0h0m1 0h0m2 0h0m1 0h0m1 0h0m1 0h0m1 0h0m3 0h0m4 0h0m6 0h0m1 0h0m2 0h0m1 0h0m1 0h0m1 0h0m1 0h0m1 0h0m1 0h0m1 0h0m1 0h0m1 0h0m1 0h0m1 0h0m1 0h0m1 0h0m1 0h0m1 0h0m1 0h0m1 0h0m1 0h0m8 0h0m4 0h0m2 0h0m5 0h0m5 0h0m-70 1h0m1 0h0m1 0h0m2 0h0m4 0h0m1 0h0m1 0h0m2 0h0m1 0h0m1 0h0m4 0h0m7 0h0m1 0h0m2 0h0m1 0h0m1 0h0m1 0h0m1 0h0m1 0h0m1 0h0m1 0h0m1 0h0m1 0h0m1 0h0m1 0h0m1 0h0m1 0h0m1 0h0m1 0h0m1 0h0m1 0h0m1 0h0m5 0h0m4 0h0m4 0h0m1 0h0m1 0h0m2 0h0m2 0h0m19 0h0m58 0h0m-143 1h0m1 0h0m2 0h0m1 0h0m1 0h0m1 0h0m1 0h0m1 0h0m2 0h0m8 0h0m8 0h0m1 0h0m1 0h0m3 0h0m1 0h0m1 0h0m1 0h0m1 0h0m1 0h0m1 0h0m1 0h0m1 0h0m1 0h0m1 0h0m1 0h0m1 0h0m1 0h0m2 0h0m19 0h0m8 0h0m11 0h0m26 0h0m31 0h0m-142 1h0m1 0h0m2 0h0m3 0h0m7 0h0m2 0h0m1 0h0m1 0h0m1 0h0m9 0h0m1 0h0m2 0h0m1 0h0m1 0h0m1 0h0m1 0h0m1 0h0m2 0h0m2 0h0m1 0h0m1 0h0m1 0h0m1 0h0m1 0h0m1 0h0m1 0h0m1 0h0m17 0h0m1 0h0m2 0h0m1 0h0m1 0h0m2 0h0m1 0h0m-70 1h0m2 0h0m1 0h0m2 0h0m1 0h0m1 0h0m1 0h0m1 0h0m1 0h0m1 0h0m1 0h0m1 0h0m3 0h0m1 0h0m8 0h0m1 0h0m1 0h0m1 0h0m1 0h0m1 0h0m1 0h0m1 0h0m2 0h0m1 0h0m1 0h0m1 0h0m1 0h0m1 0h0m1 0h0m1 0h0m1 0h0m1 0h0m1 0h0m1 0h0m1 0h0m5 0h0m3 0h0m2 0h0m7 0h0m1 0h0m40 0h0m3 0h0m-108 1h0m1 0h0m2 0h0m1 0h0m1 0h0m1 0h0m1 0h0m1 0h0m2 0h0m1 0h0m2 0h0m1 0h0m1 0h0m1 0h0m1 0h0m3 0h0m6 0h0m1 0h0m1 0h0m1 0h0m2 0h0m1 0h0m1 0h0m1 0h0m1 0h0m1 0h0m1 0h0m1 0h0m1 0h0m1 0h0m1 0h0m1 0h0m1 0h0m1 0h0m1 0h0m1 0h0m1 0h0m6 0h0m5 0h0m6 0h0m3 0h0m30 0h0m-96 1h0m1 0h0m2 0h0m2 0h0m1 0h0m1 0h0m1 0h0m4 0h0m4 0h0m2 0h0m7 0h0m1 0h0m1 0h0m1 0h0m1 0h0m1 0h0m1 0h0m1 0h0m2 0h0m1 0h0m1 0h0m1 0h0m1 0h0m1 0h0m1 0h0m2 0h0m1 0h0m1 0h0m1 0h0m1 0h0m6 0h0m2 0h0m2 0h0m4 0h0m2 0h0m2 0h0m2 0h0m4 0h0m-71 1h0m3 0h0m3 0h0m1 0h0m6 0h0m1 0h0m3 0h0m1 0h0m8 0h0m2 0h0m1 0h0m1 0h0m1 0h0m1 0h0m1 0h0m1 0h0m1 0h0m1 0h0m1 0h0m1 0h0m1 0h0m1 0h0m1 0h0m1 0h0m1 0h0m1 0h0m1 0h0m6 0h0m1 0h0m8 0h0m8 0h0m22 0h0m28 0h0m18 0h0m-135 1h0m1 0h0m2 0h0m2 0h0m1 0h0m1 0h0m1 0h0m4 0h0m3 0h0m1 0h0m1 0h0m1 0h0m1 0h0m7 0h0m1 0h0m2 0h0m1 0h0m1 0h0m1 0h0m1 0h0m1 0h0m1 0h0m1 0h0m1 0h0m1 0h0m1 0h0m1 0h0m1 0h0m1 0h0m1 0h0m1 0h0m1 0h0m1 0h0m11 0h0m2 0h0m3 0h0m4 0h0m3 0h0m2 0h0m23 0h0m13 0h0m-108 1h0m1 0h0m2 0h0m4 0h0m1 0h0m2 0h0m3 0h0m1 0h0m1 0h0m1 0h0m1 0h0m9 0h0m1 0h0m1 0h0m1 0h0m1 0h0m1 0h0m1 0h0m1 0h0m1 0h0m1 0h0m1 0h0m1 0h0m1 0h0m1 0h0m1 0h0m2 0h0m1 0h0m1 0h0m1 0h0m1 0h0m1 0h0m5 0h0m7 0h0m10 0h0m3 0h0m1 0h0m8 0h0m1 0h0m-83 1h0m2 0h0m2 0h0m1 0h0m1 0h0m2 0h0m2 0h0m1 0h0m2 0h0m2 0h0m1 0h0m4 0h0m7 0h0m1 0h0m1 0h0m1 0h0m1 0h0m1 0h0m1 0h0m1 0h0m1 0h0m1 0h0m1 0h0m1 0h0m1 0h0m1 0h0m1 0h0m1 0h0m1 0h0m1 0h0m3 0h0m1 0h0m7 0h0m2 0h0m13 0h0m37 0h0m-106 1h0m1 0h0m1 0h0m1 0h0m2 0h0m1 0h0m4 0h0m4 0h0m1 0h0m2 0h0m1 0h0m1 0h0m2 0h0m5 0h0m1 0h0m2 0h0m1 0h0m2 0h0m1 0h0m1 0h0m1 0h0m1 0h0m1 0h0m2 0h0m1 0h0m1 0h0m1 0h0m1 0h0m1 0h0m1 0h0m1 0h0m9 0h0m3 0h0m8 0h0m6 0h0m1 0h0m46 0h0m-120 1h0m4 0h0m1 0h0m4 0h0m5 0h0m2 0h0m3 0h0m1 0h0m7 0h0m1 0h0m1 0h0m1 0h0m1 0h0m1 0h0m1 0h0m1 0h0m1 0h0m1 0h0m1 0h0m1 0h0m1 0h0m1 0h0m1 0h0m1 0h0m1 0h0m1 0h0m1 0h0m1 0h0m1 0h0m7 0h0m3 0h0m2 0h0m3 0h0m8 0h0m3 0h0m41 0h0m-113 1h0m2 0h0m7 0h0m2 0h0m2 0h0m2 0h0m1 0h0m5 0h0m5 0h0m1 0h0m1 0h0m1 0h0m1 0h0m1 0h0m1 0h0m1 0h0m1 0h0m1 0h0m1 0h0m1 0h0m1 0h0m1 0h0m1 0h0m1 0h0m1 0h0m1 0h0m1 0h0m1 0h0m1 0h0m12 0h0m2 0h0m5 0h0m3 0h0m49 0h0m-117 1h0m1 0h0m2 0h0m2 0h0m1 0h0m2 0h0m1 0h0m6 0h0m2 0h0m10 0h0m1 0h0m1 0h0m1 0h0m1 0h0m1 0h0m1 0h0m1 0h0m1 0h0m1 0h0m1 0h0m1 0h0m1 0h0m1 0h0m1 0h0m1 0h0m1 0h0m1 0h0m1 0h0m1 0h0m1 0h0m7 0h0m3 0h0m3 0h0m6 0h0m3 0h0m1 0h0m2 0h0m75 0h0m-146 1h0m5 0h0m5 0h0m1 0h0m2 0h0m1 0h0m2 0h0m2 0h0m7 0h0m1 0h0m1 0h0m1 0h0m1 0h0m2 0h0m1 0h0m1 0h0m1 0h0m1 0h0m1 0h0m1 0h0m1 0h0m1 0h0m1 0h0m1 0h0m1 0h0m1 0h0m1 0h0m1 0h0m8 0h0m6 0h0m1 0h0m7 0h0m2 0h0m-70 1h0m1 0h0m1 0h0m1 0h0m2 0h0m2 0h0m2 0h0m1 0h0m2 0h0m1 0h0m1 0h0m1 0h0m3 0h0m2 0h0m6 0h0m1 0h0m1 0h0m1 0h0m1 0h0m1 0h0m1 0h0m1 0h0m1 0h0m1 0h0m1 0h0m1 0h0m1 0h0m1 0h0m1 0h0m1 0h0m1 0h0m1 0h0m1 0h0m1 0h0m1 0h0m14 0h0m3 0h0m7 0h0m2 0h0m-72 1h0m1 0h0m1 0h0m5 0h0m2 0h0m2 0h0m1 0h0m1 0h0m1 0h0m1 0h0m4 0h0m7 0h0m1 0h0m1 0h0m1 0h0m1 0h0m1 0h0m1 0h0m1 0h0m1 0h0m1 0h0m1 0h0m1 0h0m1 0h0m1 0h0m1 0h0m1 0h0m2 0h0m1 0h0m1 0h0m1 0h0m1 0h0m16 0h0m5 0h0m1 0h0m-69 1h0m1 0h0m1 0h0m5 0h0m6 0h0m3 0h0m1 0h0m1 0h0m1 0h0m7 0h0m1 0h0m1 0h0m1 0h0m1 0h0m1 0h0m1 0h0m1 0h0m1 0h0m1 0h0m1 0h0m1 0h0m1 0h0m1 0h0m2 0h0m1 0h0m1 0h0m1 0h0m1 0h0m1 0h0m6 0h0m9 0h0m1 0h0m2 0h0m1 0h0m1 0h0m7 0h0m-73 1h0m1 0h0m1 0h0m3 0h0m2 0h0m2 0h0m2 0h0m1 0h0m3 0h0m2 0h0m9 0h0m1 0h0m1 0h0m1 0h0m2 0h0m1 0h0m1 0h0m2 0h0m1 0h0m1 0h0m1 0h0m1 0h0m1 0h0m1 0h0m1 0h0m1 0h0m1 0h0m2 0h0m1 0h0m7 0h0m3 0h0m2 0h0m1 0h0m1 0h0m3 0h0m84 0h0m-147 1h0m1 0h0m1 0h0m1 0h0m1 0h0m1 0h0m2 0h0m1 0h0m1 0h0m1 0h0m1 0h0m5 0h0m2 0h0m7 0h0m1 0h0m1 0h0m1 0h0m1 0h0m1 0h0m1 0h0m1 0h0m1 0h0m1 0h0m1 0h0m1 0h0m1 0h0m1 0h0m2 0h0m1 0h0m1 0h0m1 0h0m1 0h0m1 0h0m1 0h0m5 0h0m2 0h0m9 0h0m6 0h0m-70 1h0m1 0h0m1 0h0m2 0h0m1 0h0m3 0h0m5 0h0m2 0h0m1 0h0m3 0h0m1 0h0m1 0h0m6 0h0m2 0h0m1 0h0m1 0h0m1 0h0m1 0h0m1 0h0m1 0h0m1 0h0m1 0h0m1 0h0m1 0h0m1 0h0m1 0h0m1 0h0m1 0h0m1 0h0m1 0h0m1 0h0m1 0h0m1 0h0m9 0h0m9 0h0m54 0h0m30 0h0m-149 1h0m1 0h0m2 0h0m3 0h0m1 0h0m1 0h0m3 0h0m1 0h0m3 0h0m1 0h0m2 0h0m8 0h0m1 0h0m1 0h0m1 0h0m1 0h0m1 0h0m1 0h0m2 0h0m1 0h0m2 0h0m1 0h0m1 0h0m1 0h0m1 0h0m2 0h0m1 0h0m1 0h0m1 0h0m1 0h0m7 0h0m6 0h0m2 0h0m6 0h0m2 0h0m-70 1h0m2 0h0m2 0h0m1 0h0m1 0h0m4 0h0m3 0h0m2 0h0m1 0h0m1 0h0m9 0h0m1 0h0m2 0h0m1 0h0m1 0h0m1 0h0m1 0h0m1 0h0m1 0h0m1 0h0m1 0h0m1 0h0m1 0h0m1 0h0m1 0h0m1 0h0m1 0h0m1 0h0m1 0h0m1 0h0m1 0h0m5 0h0m4 0h0m1 0h0m2 0h0m5 0h0m30 0h0m16 0h0m-108 1h0m4 0h0m1 0h0m1 0h0m3 0h0m2 0h0m2 0h0m1 0h0m1 0h0m2 0h0m1 0h0m6 0h0m2 0h0m1 0h0m1 0h0m1 0h0m1 0h0m1 0h0m1 0h0m1 0h0m1 0h0m1 0h0m1 0h0m1 0h0m1 0h0m1 0h0m1 0h0m1 0h0m1 0h0m1 0h0m1 0h0m1 0h0m7 0h0m3 0h0m9 0h0m3 0h0m3 0h0m19 0h0m-92 1h0m1 0h0m1 0h0m1 0h0m1 0h0m1 0h0m1 0h0m1 0h0m2 0h0m1 0h0m1 0h0m2 0h0m1 0h0m1 0h0m1 0h0m1 0h0m4 0h0m6 0h0m1 0h0m1 0h0m1 0h0m1 0h0m1 0h0m1 0h0m1 0h0m1 0h0m1 0h0m2 0h0m1 0h0m1 0h0m1 0h0m1 0h0m1 0h0m1 0h0m1 0h0m1 0h0m1 0h0m7 0h0m1 0h0m5 0h0m1 0h0m2 0h0m6 0h0m76 0h0m-145 1h0m1 0h0m3 0h0m1 0h0m2 0h0m1 0h0m1 0h0m2 0h0m1 0h0m4 0h0m2 0h0m3 0h0m1 0h0m5 0h0m1 0h0m1 0h0m1 0h0m1 0h0m1 0h0m1 0h0m1 0h0m1 0h0m1 0h0m1 0h0m2 0h0m1 0h0m1 0h0m1 0h0m1 0h0m1 0h0m1 0h0m1 0h0m1 0h0m1 0h0m10 0h0m6 0h0m2 0h0m2 0h0m18 0h0m-84 1h0m3 0h0m1 0h0m2 0h0m6 0h0m2 0h0m1 0h0m1 0h0m2 0h0m7 0h0m1 0h0m1 0h0m1 0h0m1 0h0m1 0h0m1 0h0m1 0h0m1 0h0m1 0h0m1 0h0m1 0h0m1 0h0m1 0h0m1 0h0m1 0h0m1 0h0m1 0h0m1 0h0m1 0h0m1 0h0m6 0h0m8 0h0m1 0h0m1 0h0m6 0h0m4 0h0m-72 1h0m3 0h0m2 0h0m1 0h0m4 0h0m2 0h0m1 0h0m2 0h0m1 0h0m1 0h0m1 0h0m1 0h0m7 0h0m1 0h0m1 0h0m1 0h0m1 0h0m1 0h0m1 0h0m3 0h0m1 0h0m1 0h0m1 0h0m1 0h0m1 0h0m1 0h0m1 0h0m1 0h0m1 0h0m1 0h0m1 0h0m7 0h0m1 0h0m1 0h0m4 0h0m5 0h0m76 0h0m-140 1h0m1 0h0m1 0h0m1 0h0m2 0h0m2 0h0m7 0h0m4 0h0m1 0h0m7 0h0m1 0h0m1 0h0m1 0h0m1 0h0m1 0h0m2 0h0m1 0h0m1 0h0m1 0h0m1 0h0m2 0h0m1 0h0m1 0h0m1 0h0m1 0h0m1 0h0m1 0h0m1 0h0m1 0h0m6 0h0m2 0h0m7 0h0m3 0h0m7 0h0m-73 1h0m1 0h0m2 0h0m2 0h0m8 0h0m1 0h0m1 0h0m1 0h0m1 0h0m1 0h0m1 0h0m1 0h0m7 0h0m1 0h0m1 0h0m1 0h0m1 0h0m1 0h0m1 0h0m1 0h0m1 0h0m1 0h0m1 0h0m1 0h0m1 0h0m1 0h0m1 0h0m2 0h0m1 0h0m1 0h0m1 0h0m1 0h0m1 0h0m7 0h0m1 0h0m4 0h0m24 0h0m-83 1h0m1 0h0m1 0h0m2 0h0m1 0h0m4 0h0m1 0h0m1 0h0m1 0h0m2 0h0m1 0h0m1 0h0m10 0h0m1 0h0m1 0h0m1 0h0m1 0h0m1 0h0m1 0h0m1 0h0m1 0h0m1 0h0m1 0h0m1 0h0m1 0h0m1 0h0m1 0h0m1 0h0m1 0h0m1 0h0m1 0h0m1 0h0m1 0h0m1 0h0m12 0h0m1 0h0m8 0h0m4 0h0m16 0h0m-89 1h0m1 0h0m8 0h0m2 0h0m1 0h0m4 0h0m3 0h0m1 0h0m7 0h0m1 0h0m1 0h0m1 0h0m1 0h0m1 0h0m1 0h0m1 0h0m1 0h0m1 0h0m1 0h0m1 0h0m1 0h0m1 0h0m1 0h0m1 0h0m1 0h0m2 0h0m1 0h0m1 0h0m1 0h0m13 0h0m1 0h0m5 0h0m1 0h0m16 0h0m-83 1h0m3 0h0m1 0h0m1 0h0m1 0h0m2 0h0m1 0h0m1 0h0m1 0h0m1 0h0m2 0h0m3 0h0m1 0h0m9 0h0m1 0h0m1 0h0m1 0h0m1 0h0m1 0h0m1 0h0m1 0h0m2 0h0m1 0h0m1 0h0m1 0h0m1 0h0m1 0h0m1 0h0m1 0h0m1 0h0m1 0h0m1 0h0m1 0h0m7 0h0m8 0h0m-61 1h0m1 0h0m1 0h0m1 0h0m2 0h0m1 0h0m3 0h0m1 0h0m1 0h0m3 0h0m1 0h0m3 0h0m7 0h0m1 0h0m1 0h0m1 0h0m1 0h0m2 0h0m1 0h0m1 0h0m1 0h0m1 0h0m1 0h0m1 0h0m1 0h0m1 0h0m1 0h0m2 0h0m1 0h0m1 0h0m1 0h0m1 0h0m7 0h0m4 0h0m4 0h0m5 0h0m1 0h0m2 0h0m1 0h0m70 0h0m-141 1h0m4 0h0m2 0h0m1 0h0m1 0h0m1 0h0m2 0h0m3 0h0m1 0h0m2 0h0m9 0h0m1 0h0m1 0h0m1 0h0m1 0h0m1 0h0m1 0h0m1 0h0m1 0h0m1 0h0m1 0h0m1 0h0m1 0h0m1 0h0m1 0h0m1 0h0m1 0h0m1 0h0m1 0h0m1 0h0m1 0h0m1 0h0m9 0h0m4 0h0m2 0h0m5 0h0m1 0h0m14 0h0m-79 1h0m1 0h0m1 0h0m1 0h0m1 0h0m2 0h0m2 0h0m2 0h0m1 0h0m1 0h0m1 0h0m2 0h0m1 0h0m7 0h0m1 0h0m2 0h0m1 0h0m1 0h0m1 0h0m1 0h0m1 0h0m1 0h0m1 0h0m1 0h0m1 0h0m1 0h0m1 0h0m1 0h0m1 0h0m1 0h0m1 0h0m1 0h0m1 0h0m1 0h0m7 0h0m4 0h0m1 0h0m2 0h0m1 0h0m2 0h0m4 0h0m1 0h0m1 0h0m8 0h0m-74 1h0m2 0h0m6 0h0m1 0h0m1 0h0m3 0h0m3 0h0m1 0h0m5 0h0m1 0h0m1 0h0m1 0h0m1 0h0m1 0h0m1 0h0m1 0h0m1 0h0m1 0h0m1 0h0m1 0h0m1 0h0m1 0h0m1 0h0m1 0h0m2 0h0m1 0h0m2 0h0m1 0h0m14 0h0m1 0h0m4 0h0m1 0h0m3 0h0m-71 1h0m5 0h0m1 0h0m4 0h0m3 0h0m1 0h0m1 0h0m1 0h0m1 0h0m1 0h0m2 0h0m7 0h0m3 0h0m1 0h0m1 0h0m1 0h0m1 0h0m3 0h0m1 0h0m1 0h0m1 0h0m1 0h0m1 0h0m1 0h0m1 0h0m2 0h0m2 0h0m6 0h0m1 0h0m2 0h0m4 0h0m3 0h0m1 0h0m3 0h0m1 0h0m3 0h0m27 0h0m8 0h0m26 0h0m-132 1h0m3 0h0m2 0h0m1 0h0m1 0h0m3 0h0m1 0h0m3 0h0m1 0h0m2 0h0m2 0h0m1 0h0m7 0h0m3 0h0m7 0h0m1 0h0m2 0h0m3 0h0m2 0h0m7 0h0m2 0h0m5 0h0m1 0h0m2 0h0m2 0h0m2 0h0m1 0h0m6 0h0m-74 1h0m1 0h0m1 0h0m3 0h0m1 0h0m2 0h0m1 0h0m3 0h0m6 0h0m2 0h0m1 0h0m33 0h0m1 0h0m8 0h0m2 0h0m1 0h0m3 0h0m62 0h0m-127 1h0m1 0h0m2 0h0m1 0h0m1 0h0m1 0h0m6 0h0m1 0h0m4 0h0m33 0h0m3 0h0m2 0h0m7 0h0m1 0h0m1 0h0m3 0h0m2 0h0m1 0h0m61 0h0m-132 1h0m4 0h0m3 0h0m3 0h0m1 0h0m1 0h0m3 0h0m2 0h0m34 0h0m8 0h0m5 0h0m-61 1h0m61 0h0m13 1h0m34 2h0m-32 2h0" stroke="#000" stroke-width="1.00" stroke-linecap="square" fill="none"/>
<line x1="211.50" y1="853.50" x2="211.50" y2="948.70" stroke="#222" stroke-width="1.00"/>
<line x1="200.00" y1="948.70" x2="222.60" y2="948.70" stroke="#222" stroke-width="1.50"/>
<line x1="237.50" y1="831.40" x2="237.50" y2="948.70" stroke="#222" stroke-width="1.00"/>
<path d="M226.40,948.70 C223.96,948.53 227.73,947.69 228.30,947.20 C228.87,946.71 230.60,945.22 231.30,944.50 C232.00,943.78 233.73,941.76 234.30,941.00 C234.87,940.24 235.89,938.70 236.20,938.00 C236.52,937.30 236.86,935.93 237.00,935.00 C237.14,934.07 237.26,930.58 237.40,930.00 C237.54,929.42 238.06,929.42 238.20,930.00 C238.34,930.58 238.46,934.07 238.60,935.00 C238.74,935.93 239.09,937.30 239.40,938.00 C239.72,938.70 240.73,940.24 241.30,941.00 C241.87,941.76 243.60,943.78 244.30,944.50 C245.00,945.22 246.73,946.71 247.30,947.20 C247.87,947.69 251.64,948.53 249.20,948.70 C246.76,948.88 228.84,948.88 226.40,948.70Z" stroke="#222" stroke-width="0.70" fill="#B79F00"/>
<line x1="263.50" y1="856.40" x2="263.50" y2="948.70" stroke="#222" stroke-width="1.00"/>
<line x1="252.30" y1="948.70" x2="274.90" y2="948.70" stroke="#222" stroke-width="1.50"/>
<line x1="289.50" y1="844.40" x2="289.50" y2="948.70" stroke="#222" stroke-width="1.00"/>
<line x1="278.30" y1="948.70" x2="300.90" y2="948.70" stroke="#222" stroke-width="1.50"/>
<line x1="316.50" y1="849.90" x2="316.50" y2="948.70" stroke="#222" stroke-width="1.00"/>
<line x1="304.80" y1="948.70" x2="327.40" y2="948.70" stroke="#222" stroke-width="1.50"/>
<line x1="341.50" y1="881.20" x2="341.50" y2="948.70" stroke="#222" stroke-width="1.00"/>
<path d="M330.00,949.20 C327.46,949.00 331.24,947.99 331.80,947.50 C332.36,947.01 334.16,945.58 334.80,945.00 C335.44,944.42 336.86,943.08 337.30,942.50 C337.74,941.92 338.36,940.88 338.60,940.00 C338.85,939.12 339.24,936.75 339.40,935.00 C339.56,933.25 339.89,927.68 340.00,925.00 C340.11,922.32 340.19,914.92 340.30,912.00 C340.41,909.08 340.78,902.57 340.90,900.00 C341.02,897.43 341.22,892.07 341.30,890.00 C341.38,887.93 341.52,883.20 341.60,882.30 C341.68,881.40 341.92,881.40 342.00,882.30 C342.08,883.20 342.22,887.93 342.30,890.00 C342.38,892.07 342.58,897.43 342.70,900.00 C342.82,902.57 343.19,909.08 343.30,912.00 C343.41,914.92 343.50,922.32 343.60,925.00 C343.71,927.68 344.04,933.25 344.20,935.00 C344.36,936.75 344.75,939.12 345.00,940.00 C345.25,940.88 345.86,941.92 346.30,942.50 C346.74,943.08 348.16,944.42 348.80,945.00 C349.44,945.58 351.24,947.01 351.80,947.50 C352.36,947.99 356.14,949.00 353.60,949.20 C351.06,949.40 332.54,949.40 330.00,949.20Z" stroke="#222" stroke-width="0.70" fill="#F564E3"/>
<line x1="194.50" y1="952.80" x2="353.70" y2="952.80" stroke="#000" stroke-width="1.60"/>
<line x1="211.30" y1="952.80" x2="211.30" y2="956.60" stroke="#000" stroke-width="1.30"/>
<line x1="237.80" y1="952.80" x2="237.80" y2="956.60" stroke="#000" stroke-width="1.30"/>
<line x1="263.60" y1="952.80" x2="263.60" y2="956.60" stroke="#000" stroke-width="1.30"/>
<line x1="289.60" y1="952.80" x2="289.60" y2="956.60" stroke="#000" stroke-width="1.30"/>
<line x1="316.10" y1="952.80" x2="316.10" y2="956.60" stroke="#000" stroke-width="1.30"/>
<line x1="341.80" y1="952.80" x2="341.80" y2="956.60" stroke="#000" stroke-width="1.30"/>
<path d="M420.5 864.5h0m-25 6h0m1 2h0m31 0h0m-34 1h0m9 0h0m18 0h0m4 0h0m6 0h0m-23 1h0m19 0h0m4 0h0m-5 1h0m13 0h0m0 1h0m-31 1h0m5 0h0m1 0h0m7 0h0m2 0h0m17 0h0m-43 1h0m10 0h0m14 0h0m3 0h0m3 0h0m1 0h0m4 0h0m5 0h0m-31 1h0m19 0h0m2 0h0m4 0h0m1 0h0m9 0h0m-41 1h0m15 0h0m14 0h0m-26 1h0m-4 2h0m34 0h0m4 0h0m-33 1h0m1 0h0m10 0h0m6 0h0m2 0h0m4 0h0m-31 1h0m32 0h0m10 0h0m2 0h0m-45 1h0m3 0h0m4 0h0m4 0h0m34 0h0m-36 1h0m6 0h0m13 0h0m3 0h0m-30 1h0m14 0h0m31 0h0m-43 1h0m7 0h0m4 0h0m6 0h0m8 0h0m2 0h0m6 0h0m-30 1h0m2 0h0m2 0h0m24 0h0m-31 1h0m2 0h0m4 0h0m4 0h0m20 0h0m6 0h0m1 0h0m75 0h0m-99 1h0m15 0h0m3 0h0m1 0h0m26 0h0m3 0h0m-61 1h0m1 0h0m2 0h0m2 0h0m4 0h0m9 0h0m7 0h0m90 0h0m-117 1h0m2 0h0m2 0h0m2 0h0m10 0h0m15 0h0m7 0h0m13 0h0m19 0h0m-69 1h0m1 0h0m9 0h0m3 0h0m1 0h0m2 0h0m15 0h0m7 0h0m5 0h0m1 0h0m-47 1h0m1 0h0m3 0h0m5 0h0m1 0h0m1 0h0m1 0h0m3 0h0m1 0h0m5 0h0m22 0h0m-41 1h0m2 0h0m2 0h0m3 0h0m2 0h0m1 0h0m1 0h0m5 0h0m12 0h0m-27 1h0m2 0h0m1 0h0m1 0h0m2 0h0m1 0h0m1 0h0m1 0h0m3 0h0m1 0h0m4 0h0m1 0h0m7 0h0m18 0h0m11 0h0m-56 1h0m1 0h0m1 0h0m1 0h0m1 0h0m1 0h0m1 0h0m2 0h0m1 0h0m1 0h0m1 0h0m1 0h0m1 0h0m1 0h0m1 0h0m1 0h0m4 0h0m51 0h0m-68 1h0m6 0h0m1 0h0m4 0h0m3 0h0m3 0h0m12 0h0m9 0h0m5 0h0m24 0h0m-58 1h0m3 0h0m4 0h0m11 0h0m2 0h0m11 0h0m-44 1h0m4 0h0m2 0h0m8 0h0m4 0h0m21 0h0m3 0h0m-36 1h0m4 0h0m1 0h0m1 0h0m4 0h0m2 0h0m3 0h0m20 0h0m-38 1h0m2 0h0m1 0h0m6 0h0m1 0h0m1 0h0m1 0h0m1 0h0m25 0h0m-40 1h0m4 0h0m5 0h0m3 0h0m1 0h0m4 0h0m1 0h0m1 0h0m1 0h0m12 0h0m8 0h0m2 0h0m24 0h0m-67 1h0m5 0h0m1 0h0m1 0h0m1 0h0m7 0h0m1 0h0m1 0h0m2 0h0m1 0h0m1 0h0m1 0h0m6 0h0m8 0h0m4 0h0m-39 1h0m2 0h0m2 0h0m1 0h0m1 0h0m2 0h0m1 0h0m2 0h0m2 0h0m1 0h0m4 0h0m2 0h0m25 0h0m-46 1h0m2 0h0m2 0h0m1 0h0m4 0h0m4 0h0m1 0h0m1 0h0m4 0h0m2 0h0m1 0h0m14 0h0m-32 1h0m1 0h0m1 0h0m1 0h0m1 0h0m3 0h0m1 0h0m1 0h0m1 0h0m1 0h0m2 0h0m3 0h0m19 0h0m2 0h0m1 0h0m1 0h0m-41 1h0m1 0h0m3 0h0m1 0h0m4 0h0m3 0h0m1 0h0m6 0h0m-15 1h0m1 0h0m3 0h0m1 0h0m2 0h0m3 0h0m1 0h0m30 0h0m-44 1h0m1 0h0m1 0h0m4 0h0m6 0h0m1 0h0m1 0h0m27 0h0m-42 1h0m8 0h0m2 0h0m4 0h0m2 0h0m3 0h0m8 0h0m2 0h0m4 0h0m-35 1h0m1 0h0m3 0h0m4 0h0m5 0h0m3 0h0m4 0h0m9 0h0m6 0h0m7 0h0m-40 1h0m1 0h0m2 0h0m1 0h0m2 0h0m4 0h0m1 0h0m3 0h0m2 0h0m1 0h0m2 0h0m9 0h0m8 0h0m-38 1h0m3 0h0m2 0h0m2 0h0m5 0h0m2 0h0m3 0h0m1 0h0m1 0h0m18 0h0m1 0h0m3 0h0m2 0h0m4 0h0m-46 1h0m6 0h0m3 0h0m3 0h0m5 0h0m12 0h0m10 0h0m3 0h0m28 0h0m-70 1h0m1 0h0m7 0h0m3 0h0m1 0h0m5 0h0m1 0h0m11 0h0m6 0h0m-35 1h0m4 0h0m5 0h0m2 0h0m6 0h0m2 0h0m1 0h0m17 0h0m17 0h0m11 0h0m-59 1h0m2 0h0m2 0h0m4 0h0m2 0h0m2 0h0m2 0h0m8 0h0m5 0h0m20 0h0m14 0h0m-66 1h0m1 0h0m6 0h0m5 0h0m2 0h0m5 0h0m12 0h0m9 0h0m-41 1h0m5 0h0m5 0h0m2 0h0m2 0h0m4 0h0m3 0h0m7 0h0m2 0h0m5 0h0m-35 1h0m3 0h0m8 0h0m3 0h0m5 0h0m1 0h0m10 0h0m3 0h0m13 0h0m22 0h0m-68 1h0m4 0h0m1 0h0m2 0h0m3 0h0m5 0h0m4 0h0m1 0h0m-21 1h0m4 0h0m8 0h0m4 0h0m5 0h0m-43 1h0m7 0h0m16 0h0m1 0h0m1 0h0m5 0h0m2 0h0m5 0h0m1 0h0m4 0h0m1 0h0m21 0h0m4 0h0m-51 1h0m7 0h0m3 0h0m1 0h0m2 0h0m1 0h0m3 0h0m1 0h0m2 0h0m2 0h0m1 0h0m4 0h0m14 0h0m10 0h0m16 0h0m9 0h0m-83 1h0m18 0h0m2 0h0m3 0h0m2 0h0m3 0h0m1 0h0m3 0h0m2 0h0m11 0h0m1 0h0m2 0h0m5 0h0m6 0h0m-40 1h0m1 0h0m3 0h0m1 0h0m2 0h0m1 0h0m4 0h0m19 0h0m4 0h0m-65 1h0m23 0h0m12 0h0m2 0h0m4 0h0m1 0h0m9 0h0m2 0h0m11 0h0m3 0h0m-44 1h0m13 0h0m6 0h0m15 0h0m1 0h0m-46 1h0m12 0h0m2 0h0m39 0h0m1 0h0m-64 1h0m10 0h0m22 0h0m4 0h0m31 0h0m-67 1h0m9 0h0m4 0h0m36 0h0m10 0h0m3 0h0m30 0h0m-86 1h0m61 0h0m-12 1h0m1 0h0m3 0h0m2 0h0m-10 2h0m6 0h0m10 0h0m0 1h0m25 0h0" stroke="#000" stroke-width="1.00" stroke-linecap="square" fill="none"/>
<line x1="378.50" y1="928.00" x2="378.50" y2="948.50" stroke="#222" stroke-width="1.00"/>
<line x1="367.30" y1="948.50" x2="389.90" y2="948.50" stroke="#555" stroke-width="1.50"/>
<line x1="404.50" y1="830.00" x2="404.50" y2="948.50" stroke="#222" stroke-width="1.00"/>
<line x1="393.10" y1="948.50" x2="415.70" y2="948.50" stroke="#555" stroke-width="1.50"/>
<line x1="430.50" y1="853.10" x2="430.50" y2="948.50" stroke="#222" stroke-width="1.00"/>
<line x1="419.30" y1="948.50" x2="441.90" y2="948.50" stroke="#555" stroke-width="1.50"/>
<line x1="456.50" y1="888.00" x2="456.50" y2="948.50" stroke="#222" stroke-width="1.00"/>
<line x1="445.10" y1="948.50" x2="467.70" y2="948.50" stroke="#555" stroke-width="1.50"/>
<line x1="481.50" y1="948.50" x2="481.50" y2="948.50" stroke="#222" stroke-width="1.00"/>
<line x1="470.60" y1="948.50" x2="493.20" y2="948.50" stroke="#555" stroke-width="1.50"/>
<line x1="508.50" y1="893.80" x2="508.50" y2="948.50" stroke="#222" stroke-width="1.00"/>
<line x1="496.90" y1="948.50" x2="519.50" y2="948.50" stroke="#555" stroke-width="1.50"/>
<line x1="361.00" y1="953.00" x2="520.20" y2="953.00" stroke="#000" stroke-width="1.60"/>
<line x1="378.60" y1="953.00" x2="378.60" y2="956.80" stroke="#000" stroke-width="1.30"/>
<line x1="404.40" y1="953.00" x2="404.40" y2="956.80" stroke="#000" stroke-width="1.30"/>
<line x1="430.60" y1="953.00" x2="430.60" y2="956.80" stroke="#000" stroke-width="1.30"/>
<line x1="456.40" y1="953.00" x2="456.40" y2="956.80" stroke="#000" stroke-width="1.30"/>
<line x1="481.90" y1="953.00" x2="481.90" y2="956.80" stroke="#000" stroke-width="1.30"/>
<line x1="508.20" y1="953.00" x2="508.20" y2="956.80" stroke="#000" stroke-width="1.30"/>
<path d="M562.5 838.5h0m3 2h0m9 2h0m2 1h0m-3 1h0m2 0h0m-16 2h0m4 1h0m1 0h0m-3 1h0m12 0h0m0 1h0m5 0h0m-19 2h0m19 0h0m-6 1h0m7 0h0m5 0h0m-21 1h0m2 0h0m32 1h0m5 1h0m-11 1h0m9 0h0m-35 1h0m3 0h0m34 0h0m2 0h0m-43 1h0m36 0h0m7 0h0m-44 1h0m30 1h0m6 0h0m3 0h0m3 0h0m-1 1h0m-42 1h0m8 0h0m25 0h0m11 0h0m-29 1h0m16 0h0m5 0h0m1 0h0m-39 1h0m5 0h0m5 0h0m22 0h0m2 0h0m5 0h0m4 0h0m1 0h0m-39 1h0m38 0h0m-40 1h0m15 0h0m8 0h0m2 0h0m1 0h0m1 0h0m3 0h0m2 0h0m12 0h0m-15 1h0m5 0h0m2 0h0m4 0h0m4 0h0m-39 1h0m2 0h0m2 0h0m7 0h0m3 0h0m5 0h0m2 0h0m1 0h0m5 0h0m-32 1h0m3 0h0m9 0h0m3 0h0m10 0h0m4 0h0m5 0h0m3 0h0m1 0h0m4 0h0m2 0h0m-25 1h0m4 0h0m3 0h0m2 0h0m1 0h0m4 0h0m3 0h0m2 0h0m2 0h0m1 0h0m1 0h0m1 0h0m-37 1h0m2 0h0m19 0h0m1 0h0m1 0h0m1 0h0m1 0h0m3 0h0m1 0h0m1 0h0m1 0h0m2 0h0m3 0h0m1 0h0m1 0h0m-46 1h0m29 0h0m3 0h0m4 0h0m10 0h0m-34 1h0m16 0h0m3 0h0m3 0h0m10 0h0m-18 1h0m14 0h0m1 0h0m4 0h0m-43 1h0m14 0h0m2 0h0m13 0h0m7 0h0m1 0h0m-34 1h0m8 0h0m3 0h0m10 0h0m3 0h0m6 0h0m2 0h0m2 0h0m3 0h0m3 0h0m1 0h0m-47 1h0m26 0h0m2 0h0m1 0h0m15 0h0m1 0h0m-40 1h0m5 0h0m3 0h0m2 0h0m3 0h0m11 0h0m2 0h0m9 0h0m4 0h0m-40 1h0m2 0h0m6 0h0m1 0h0m7 0h0m2 0h0m5 0h0m1 0h0m3 0h0m2 0h0m7 0h0m-36 1h0m2 0h0m1 0h0m1 0h0m5 0h0m14 0h0m3 0h0m15 0h0m-39 1h0m2 0h0m1 0h0m9 0h0m4 0h0m4 0h0m9 0h0m8 0h0m4 0h0m-46 1h0m1 0h0m2 0h0m4 0h0m4 0h0m2 0h0m2 0h0m4 0h0m10 0h0m2 0h0m8 0h0m2 0h0m4 0h0m-43 1h0m5 0h0m1 0h0m1 0h0m1 0h0m3 0h0m2 0h0m1 0h0m1 0h0m2 0h0m1 0h0m7 0h0m2 0h0m4 0h0m5 0h0m-38 1h0m1 0h0m2 0h0m1 0h0m1 0h0m2 0h0m1 0h0m1 0h0m2 0h0m2 0h0m3 0h0m5 0h0m7 0h0m1 0h0m3 0h0m-32 1h0m1 0h0m2 0h0m1 0h0m1 0h0m1 0h0m2 0h0m6 0h0m1 0h0m1 0h0m2 0h0m2 0h0m6 0h0m7 0h0m4 0h0m5 0h0m4 0h0m1 0h0m-48 1h0m3 0h0m1 0h0m1 0h0m1 0h0m1 0h0m5 0h0m1 0h0m2 0h0m1 0h0m2 0h0m1 0h0m1 0h0m7 0h0m1 0h0m8 0h0m5 0h0m2 0h0m-42 1h0m1 0h0m2 0h0m2 0h0m1 0h0m2 0h0m1 0h0m1 0h0m2 0h0m1 0h0m1 0h0m2 0h0m1 0h0m1 0h0m1 0h0m18 0h0m-36 1h0m1 0h0m1 0h0m1 0h0m1 0h0m1 0h0m2 0h0m1 0h0m2 0h0m1 0h0m2 0h0m1 0h0m1 0h0m1 0h0m2 0h0m1 0h0m5 0h0m2 0h0m4 0h0m3 0h0m2 0h0m2 0h0m1 0h0m1 0h0m2 0h0m4 0h0m-47 1h0m1 0h0m1 0h0m2 0h0m1 0h0m1 0h0m1 0h0m1 0h0m2 0h0m1 0h0m1 0h0m1 0h0m2 0h0m1 0h0m1 0h0m2 0h0m1 0h0m1 0h0m16 0h0m3 0h0m5 0h0m3 0h0m-46 1h0m1 0h0m1 0h0m1 0h0m2 0h0m1 0h0m1 0h0m1 0h0m1 0h0m1 0h0m1 0h0m1 0h0m2 0h0m1 0h0m1 0h0m1 0h0m1 0h0m1 0h0m7 0h0m2 0h0m1 0h0m5 0h0m1 0h0m3 0h0m1 0h0m29 0h0m-70 1h0m1 0h0m3 0h0m1 0h0m1 0h0m1 0h0m1 0h0m1 0h0m1 0h0m1 0h0m1 0h0m1 0h0m1 0h0m1 0h0m1 0h0m1 0h0m1 0h0m1 0h0m1 0h0m7 0h0m3 0h0m1 0h0m9 0h0m25 0h0m28 0h0m-93 1h0m1 0h0m1 0h0m1 0h0m1 0h0m1 0h0m1 0h0m1 0h0m1 0h0m1 0h0m1 0h0m1 0h0m2 0h0m1 0h0m1 0h0m2 0h0m1 0h0m1 0h0m1 0h0m1 0h0m1 0h0m10 0h0m3 0h0m9 0h0m16 0h0m-58 1h0m1 0h0m1 0h0m1 0h0m1 0h0m1 0h0m1 0h0m1 0h0m1 0h0m1 0h0m1 0h0m1 0h0m1 0h0m1 0h0m1 0h0m1 0h0m1 0h0m2 0h0m1 0h0m1 0h0m5 0h0m1 0h0m4 0h0m11 0h0m3 0h0m23 0h0m24 0h0m21 0h0m-113 1h0m3 0h0m1 0h0m1 0h0m3 0h0m2 0h0m1 0h0m1 0h0m1 0h0m1 0h0m1 0h0m1 0h0m1 0h0m1 0h0m1 0h0m1 0h0m1 0h0m5 0h0m1 0h0m2 0h0m6 0h0m6 0h0m3 0h0m1 0h0m16 0h0m-62 1h0m1 0h0m1 0h0m1 0h0m1 0h0m1 0h0m1 0h0m2 0h0m1 0h0m1 0h0m1 0h0m1 0h0m2 0h0m1 0h0m2 0h0m1 0h0m1 0h0m1 0h0m20 0h0m6 0h0m1 0h0m-47 1h0m2 0h0m1 0h0m1 0h0m2 0h0m1 0h0m2 0h0m1 0h0m1 0h0m1 0h0m1 0h0m1 0h0m1 0h0m1 0h0m1 0h0m1 0h0m1 0h0m1 0h0m1 0h0m8 0h0m3 0h0m7 0h0m4 0h0m-43 1h0m1 0h0m1 0h0m1 0h0m1 0h0m1 0h0m1 0h0m1 0h0m1 0h0m1 0h0m1 0h0m1 0h0m1 0h0m1 0h0m1 0h0m1 0h0m1 0h0m1 0h0m1 0h0m2 0h0m1 0h0m12 0h0m2 0h0m1 0h0m11 0h0m5 0h0m-52 1h0m2 0h0m1 0h0m1 0h0m1 0h0m1 0h0m1 0h0m3 0h0m2 0h0m1 0h0m3 0h0m1 0h0m1 0h0m1 0h0m1 0h0m1 0h0m9 0h0m3 0h0m2 0h0m4 0h0m1 0h0m6 0h0m-46 1h0m1 0h0m1 0h0m1 0h0m2 0h0m1 0h0m1 0h0m1 0h0m1 0h0m1 0h0m1 0h0m1 0h0m1 0h0m1 0h0m1 0h0m2 0h0m1 0h0m1 0h0m1 0h0m1 0h0m9 0h0m12 0h0m4 0h0m72 0h0m-118 1h0m1 0h0m1 0h0m2 0h0m2 0h0m1 0h0m1 0h0m1 0h0m1 0h0m1 0h0m1 0h0m1 0h0m1 0h0m1 0h0m1 0h0m1 0h0m1 0h0m3 0h0m10 0h0m3 0h0m1 0h0m3 0h0m1 0h0m32 0h0m-71 1h0m1 0h0m1 0h0m1 0h0m1 0h0m1 0h0m1 0h0m1 0h0m1 0h0m1 0h0m2 0h0m1 0h0m1 0h0m1 0h0m1 0h0m1 0h0m1 0h0m1 0h0m1 0h0m2 0h0m1 0h0m9 0h0m2 0h0m6 0h0m48 0h0m-86 1h0m1 0h0m1 0h0m1 0h0m1 0h0m1 0h0m2 0h0m1 0h0m1 0h0m1 0h0m1 0h0m1 0h0m1 0h0m1 0h0m1 0h0m2 0h0m3 0h0m1 0h0m8 0h0m3 0h0m1 0h0m5 0h0m1 0h0m-40 1h0m1 0h0m1 0h0m1 0h0m1 0h0m1 0h0m1 0h0m1 0h0m1 0h0m1 0h0m1 0h0m2 0h0m1 0h0m2 0h0m1 0h0m1 0h0m1 0h0m1 0h0m1 0h0m1 0h0m1 0h0m8 0h0m5 0h0m5 0h0m4 0h0m1 0h0m1 0h0m22 0h0m-68 1h0m1 0h0m1 0h0m1 0h0m1 0h0m1 0h0m1 0h0m1 0h0m2 0h0m1 0h0m3 0h0m1 0h0m2 0h0m1 0h0m1 0h0m1 0h0m1 0h0m1 0h0m1 0h0m19 0h0m6 0h0m-71 1h0m12 0h0m12 0h0m2 0h0m1 0h0m2 0h0m1 0h0m2 0h0m1 0h0m1 0h0m1 0h0m1 0h0m1 0h0m1 0h0m1 0h0m1 0h0m1 0h0m1 0h0m1 0h0m1 0h0m1 0h0m5 0h0m8 0h0m6 0h0m3 0h0m1 0h0m2 0h0m-45 1h0m1 0h0m2 0h0m2 0h0m1 0h0m1 0h0m3 0h0m1 0h0m1 0h0m1 0h0m2 0h0m1 0h0m1 0h0m1 0h0m1 0h0m1 0h0m6 0h0m2 0h0m16 0h0m-67 1h0m2 0h0m15 0h0m6 0h0m1 0h0m1 0h0m1 0h0m1 0h0m1 0h0m1 0h0m2 0h0m1 0h0m1 0h0m1 0h0m1 0h0m1 0h0m1 0h0m1 0h0m1 0h0m1 0h0m2 0h0m1 0h0m5 0h0m2 0h0m6 0h0m3 0h0m5 0h0m3 0h0m-44 1h0m1 0h0m1 0h0m1 0h0m1 0h0m1 0h0m1 0h0m1 0h0m1 0h0m1 0h0m1 0h0m1 0h0m1 0h0m1 0h0m1 0h0m1 0h0m1 0h0m1 0h0m1 0h0m1 0h0m1 0h0m1 0h0m5 0h0m2 0h0m2 0h0m1 0h0m3 0h0m7 0h0m4 0h0m-46 1h0m1 0h0m1 0h0m1 0h0m1 0h0m1 0h0m1 0h0m1 0h0m2 0h0m2 0h0m1 0h0m2 0h0m1 0h0m3 0h0m1 0h0m2 0h0m1 0h0m13 0h0m2 0h0m3 0h0m3 0h0m2 0h0m12 0h0m-55 1h0m2 0h0m1 0h0m1 0h0m3 0h0m1 0h0m1 0h0m1 0h0m1 0h0m1 0h0m1 0h0m1 0h0m1 0h0m2 0h0m1 0h0m1 0h0m18 0h0m2 0h0m4 0h0m1 0h0m79 0h0m-132 1h0m9 0h0m1 0h0m1 0h0m1 0h0m1 0h0m1 0h0m1 0h0m1 0h0m1 0h0m1 0h0m2 0h0m1 0h0m2 0h0m4 0h0m1 0h0m1 0h0m9 0h0m2 0h0m8 0h0m6 0h0m-70 1h0m7 0h0m3 0h0m1 0h0m2 0h0m11 0h0m1 0h0m1 0h0m4 0h0m1 0h0m1 0h0m1 0h0m1 0h0m1 0h0m1 0h0m1 0h0m1 0h0m1 0h0m1 0h0m1 0h0m1 0h0m1 0h0m1 0h0m1 0h0m8 0h0m2 0h0m14 0h0m-69 1h0m15 0h0m8 0h0m1 0h0m2 0h0m1 0h0m1 0h0m1 0h0m1 0h0m1 0h0m1 0h0m1 0h0m2 0h0m2 0h0m1 0h0m1 0h0m3 0h0m2 0h0m1 0h0m8 0h0m5 0h0m-59 1h0m6 0h0m4 0h0m3 0h0m1 0h0m11 0h0m1 0h0m1 0h0m2 0h0m2 0h0m1 0h0m1 0h0m1 0h0m1 0h0m1 0h0m2 0h0m1 0h0m1 0h0m1 0h0m1 0h0m2 0h0m9 0h0m2 0h0m3 0h0m7 0h0m1 0h0m3 0h0m2 0h0m25 0h0m-78 1h0m6 0h0m1 0h0m1 0h0m1 0h0m1 0h0m1 0h0m1 0h0m1 0h0m2 0h0m1 0h0m1 0h0m1 0h0m1 0h0m1 0h0m1 0h0m1 0h0m2 0h0m1 0h0m1 0h0m1 0h0m9 0h0m13 0h0m-60 1h0m17 0h0m1 0h0m1 0h0m1 0h0m2 0h0m1 0h0m1 0h0m1 0h0m3 0h0m1 0h0m1 0h0m1 0h0m1 0h0m1 0h0m2 0h0m1 0h0m1 0h0m1 0h0m1 0h0m7 0h0m-29 1h0m3 0h0m3 0h0m1 0h0m1 0h0m1 0h0m1 0h0m2 0h0m1 0h0m1 0h0m1 0h0m1 0h0m1 0h0m1 0h0m1 0h0m1 0h0m1 0h0m8 0h0m5 0h0m11 0h0m2 0h0m-46 1h0m2 0h0m1 0h0m1 0h0m1 0h0m1 0h0m1 0h0m1 0h0m1 0h0m1 0h0m2 0h0m2 0h0m1 0h0m1 0h0m1 0h0m1 0h0m1 0h0m11 0h0m7 0h0m33 0h0m-70 1h0m1 0h0m1 0h0m1 0h0m1 0h0m1 0h0m1 0h0m1 0h0m1 0h0m2 0h0m1 0h0m1 0h0m2 0h0m1 0h0m1 0h0m1 0h0m1 0h0m1 0h0m1 0h0m1 0h0m12 0h0m11 0h0m25 0h0m-78 1h0m9 0h0m1 0h0m1 0h0m1 0h0m1 0h0m1 0h0m1 0h0m1 0h0m1 0h0m1 0h0m1 0h0m1 0h0m2 0h0m1 0h0m1 0h0m1 0h0m1 0h0m1 0h0m1 0h0m1 0h0m8 0h0m2 0h0m3 0h0m3 0h0m9 0h0m-46 1h0m1 0h0m1 0h0m1 0h0m1 0h0m2 0h0m1 0h0m1 0h0m1 0h0m1 0h0m2 0h0m2 0h0m1 0h0m1 0h0m1 0h0m1 0h0m1 0h0m1 0h0m1 0h0m1 0h0m11 0h0m4 0h0m-37 1h0m1 0h0m1 0h0m1 0h0m1 0h0m1 0h0m2 0h0m1 0h0m1 0h0m1 0h0m1 0h0m2 0h0m1 0h0m1 0h0m1 0h0m1 0h0m2 0h0m1 0h0m6 0h0m1 0h0m4 0h0m14 0h0m-45 1h0m1 0h0m1 0h0m1 0h0m2 0h0m2 0h0m1 0h0m1 0h0m1 0h0m1 0h0m1 0h0m1 0h0m1 0h0m1 0h0m1 0h0m1 0h0m2 0h0m1 0h0m1 0h0m1 0h0m10 0h0m13 0h0m-44 1h0m1 0h0m1 0h0m1 0h0m1 0h0m1 0h0m1 0h0m1 0h0m2 0h0m1 0h0m1 0h0m1 0h0m1 0h0m1 0h0m2 0h0m1 0h0m1 0h0m1 0h0m1 0h0m10 0h0m7 0h0m32 0h0m-76 1h0m7 0h0m1 0h0m1 0h0m1 0h0m1 0h0m1 0h0m1 0h0m1 0h0m2 0h0m1 0h0m5 0h0m1 0h0m1 0h0m1 0h0m2 0h0m15 0h0m1 0h0m5 0h0m1 0h0m3 0h0m-64 1h0m18 0h0m3 0h0m1 0h0m1 0h0m1 0h0m1 0h0m1 0h0m1 0h0m1 0h0m1 0h0m1 0h0m1 0h0m1 0h0m1 0h0m1 0h0m1 0h0m1 0h0m1 0h0m1 0h0m1 0h0m1 0h0m10 0h0m10 0h0m4 0h0m-45 1h0m1 0h0m1 0h0m1 0h0m1 0h0m1 0h0m2 0h0m2 0h0m2 0h0m2 0h0m1 0h0m1 0h0m1 0h0m1 0h0m2 0h0m1 0h0m9 0h0m7 0h0m3 0h0m7 0h0m23 0h0m-70 1h0m1 0h0m1 0h0m1 0h0m3 0h0m4 0h0m1 0h0m1 0h0m2 0h0m1 0h0m2 0h0m1 0h0m1 0h0m1 0h0m1 0h0m1 0h0m7 0h0m17 0h0m-70 1h0m3 0h0m3 0h0m18 0h0m2 0h0m1 0h0m1 0h0m2 0h0m1 0h0m2 0h0m2 0h0m2 0h0m1 0h0m1 0h0m1 0h0m2 0h0m1 0h0m1 0h0m1 0h0m1 0h0m8 0h0m11 0h0m6 0h0m6 0h0m-71 1h0m1 0h0m4 0h0m3 0h0m11 0h0m2 0h0m1 0h0m1 0h0m1 0h0m1 0h0m1 0h0m1 0h0m1 0h0m1 0h0m3 0h0m1 0h0m1 0h0m1 0h0m1 0h0m1 0h0m1 0h0m1 0h0m9 0h0m2 0h0m11 0h0m1 0h0m-43 1h0m1 0h0m1 0h0m1 0h0m2 0h0m1 0h0m1 0h0m1 0h0m1 0h0m1 0h0m1 0h0m1 0h0m2 0h0m1 0h0m1 0h0m1 0h0m1 0h0m1 0h0m1 0h0m1 0h0m11 0h0m7 0h0m4 0h0m2 0h0m-55 1h0m4 0h0m7 0h0m2 0h0m1 0h0m2 0h0m2 0h0m1 0h0m2 0h0m1 0h0m1 0h0m1 0h0m1 0h0m1 0h0m1 0h0m2 0h0m1 0h0m1 0h0m7 0h0m1 0h0m6 0h0m10 0h0m1 0h0m-62 1h0m16 0h0m3 0h0m2 0h0m1 0h0m1 0h0m1 0h0m1 0h0m4 0h0m1 0h0m1 0h0m1 0h0m1 0h0m1 0h0m1 0h0m1 0h0m11 0h0m2 0h0m4 0h0m4 0h0m-41 1h0m1 0h0m1 0h0m2 0h0m1 0h0m1 0h0m1 0h0m3 0h0m1 0h0m2 0h0m1 0h0m1 0h0m1 0h0m1 0h0m1 0h0m2 0h0m6 0h0m2 0h0m-41 1h0m12 0h0m2 0h0m1 0h0m1 0h0m1 0h0m2 0h0m1 0h0m2 0h0m1 0h0m1 0h0m2 0h0m1 0h0m1 0h0m1 0h0m2 0h0m1 0h0m1 0h0m8 0h0m5 0h0m3 0h0m20 0h0m-73 1h0m1 0h0m16 0h0m3 0h0m1 0h0m1 0h0m1 0h0m1 0h0m1 0h0m1 0h0m2 0h0m1 0h0m1 0h0m1 0h0m1 0h0m1 0h0m2 0h0m1 0h0m1 0h0m6 0h0m2 0h0m35 0h0m-62 1h0m2 0h0m1 0h0m3 0h0m1 0h0m3 0h0m2 0h0m1 0h0m1 0h0m1 0h0m2 0h0m1 0h0m1 0h0m6 0h0m5 0h0m1 0h0m5 0h0m1 0h0m3 0h0m1 0h0m1 0h0m-43 1h0m2 0h0m1 0h0m7 0h0m1 0h0m2 0h0m3 0h0m5 0h0m9 0h0m8 0h0m4 0h0m2 0h0m12 0h0m-49 1h0m2 0h0m5 0h0m11 0h0m6 0h0m3 0h0m1 0h0m5 0h0m1 0h0m-4 1h0m2 0h0m4 0h0m16 0h0m12 5h0" stroke="#000" stroke-width="1.00" stroke-linecap="square" fill="none"/>
<line x1="543.50" y1="893.80" x2="543.50" y2="948.50" stroke="#222" stroke-width="1.00"/>
<line x1="531.80" y1="948.50" x2="554.40" y2="948.50" stroke="#555" stroke-width="1.50"/>
<line x1="568.50" y1="834.70" x2="568.50" y2="948.50" stroke="#222" stroke-width="1.00"/>
<line x1="557.30" y1="948.50" x2="579.90" y2="948.50" stroke="#555" stroke-width="1.50"/>
<line x1="594.50" y1="832.00" x2="594.50" y2="948.50" stroke="#222" stroke-width="1.00"/>
<line x1="583.00" y1="948.50" x2="605.60" y2="948.50" stroke="#555" stroke-width="1.50"/>
<line x1="620.50" y1="881.20" x2="620.50" y2="948.50" stroke="#222" stroke-width="1.00"/>
<line x1="608.80" y1="948.50" x2="631.40" y2="948.50" stroke="#555" stroke-width="1.50"/>
<line x1="646.50" y1="893.00" x2="646.50" y2="948.50" stroke="#222" stroke-width="1.00"/>
<line x1="635.10" y1="948.50" x2="657.70" y2="948.50" stroke="#555" stroke-width="1.50"/>
<line x1="672.50" y1="886.50" x2="672.50" y2="948.50" stroke="#222" stroke-width="1.00"/>
<line x1="661.10" y1="948.50" x2="683.70" y2="948.50" stroke="#555" stroke-width="1.50"/>
<line x1="526.00" y1="953.00" x2="685.00" y2="953.00" stroke="#000" stroke-width="1.60"/>
<line x1="543.10" y1="953.00" x2="543.10" y2="956.80" stroke="#000" stroke-width="1.30"/>
<line x1="568.60" y1="953.00" x2="568.60" y2="956.80" stroke="#000" stroke-width="1.30"/>
<line x1="594.30" y1="953.00" x2="594.30" y2="956.80" stroke="#000" stroke-width="1.30"/>
<line x1="620.10" y1="953.00" x2="620.10" y2="956.80" stroke="#000" stroke-width="1.30"/>
<line x1="646.40" y1="953.00" x2="646.40" y2="956.80" stroke="#000" stroke-width="1.30"/>
<line x1="672.40" y1="953.00" x2="672.40" y2="956.80" stroke="#000" stroke-width="1.30"/>
<text x="43.87" y="971.30" font-size="12.00" style="font-weight:bold;" fill="#000">0</text>
<text x="69.45" y="971.30" font-size="12.00" style="font-weight:bold;" fill="#000">1</text>
<text x="95.70" y="971.30" font-size="12.00" style="font-weight:bold;" fill="#000">2</text>
<text x="122.14" y="971.30" font-size="12.00" style="font-weight:bold;" fill="#000">3</text>
<text x="147.80" y="971.30" font-size="12.00" style="font-weight:bold;" fill="#000">4</text>
<text x="174.15" y="971.30" font-size="12.00" style="font-weight:bold;" fill="#000">5</text>
<text x="89.32" y="984.90" font-size="14.00" style="font-weight:bold;" fill="#000" textLength="46.65" lengthAdjust="spacingAndGlyphs">Identity</text>
<text x="207.97" y="971.30" font-size="12.00" style="font-weight:bold;" fill="#000">0</text>
<text x="234.25" y="971.30" font-size="12.00" style="font-weight:bold;" fill="#000">1</text>
<text x="260.30" y="971.30" font-size="12.00" style="font-weight:bold;" fill="#000">2</text>
<text x="286.34" y="971.30" font-size="12.00" style="font-weight:bold;" fill="#000">3</text>
<text x="312.70" y="971.30" font-size="12.00" style="font-weight:bold;" fill="#000">4</text>
<text x="338.45" y="971.30" font-size="12.00" style="font-weight:bold;" fill="#000">5</text>
<text x="254.24" y="984.90" font-size="14.00" style="font-weight:bold;" fill="#000" textLength="45.53" lengthAdjust="spacingAndGlyphs">Identity</text>
<text x="375.27" y="971.30" font-size="12.00" style="font-weight:bold;" fill="#000">0</text>
<text x="400.85" y="971.30" font-size="12.00" style="font-weight:bold;" fill="#000">1</text>
<text x="427.30" y="971.30" font-size="12.00" style="font-weight:bold;" fill="#000">2</text>
<text x="453.14" y="971.30" font-size="12.00" style="font-weight:bold;" fill="#000">3</text>
<text x="478.50" y="971.30" font-size="12.00" style="font-weight:bold;" fill="#000">4</text>
<text x="504.85" y="971.30" font-size="12.00" style="font-weight:bold;" fill="#000">5</text>
<text x="429.72" y="984.90" font-size="14.00" style="font-weight:bold;" fill="#000" textLength="46.95" lengthAdjust="spacingAndGlyphs">Identity</text>
<text x="539.77" y="971.30" font-size="12.00" style="font-weight:bold;" fill="#000">0</text>
<text x="565.05" y="971.30" font-size="12.00" style="font-weight:bold;" fill="#000">1</text>
<text x="591.00" y="971.30" font-size="12.00" style="font-weight:bold;" fill="#000">2</text>
<text x="616.84" y="971.30" font-size="12.00" style="font-weight:bold;" fill="#000">3</text>
<text x="643.00" y="971.30" font-size="12.00" style="font-weight:bold;" fill="#000">4</text>
<text x="669.05" y="971.30" font-size="12.00" style="font-weight:bold;" fill="#000">5</text>
<text x="594.72" y="984.90" font-size="14.00" style="font-weight:bold;" fill="#000" textLength="46.95" lengthAdjust="spacingAndGlyphs">Identity</text>
<text x="93.74" y="834.00" font-size="15.00" style="font-weight:bold;" fill="#000" textLength="43.04" lengthAdjust="spacingAndGlyphs">Sham</text>
<text x="177.54" y="834.00" font-size="15.00" style="font-weight:bold;" fill="#000" textLength="43.04" lengthAdjust="spacingAndGlyphs">P2rx4</text>
<text x="254.47" y="833.80" font-size="15.00" style="font-weight:bold;" fill="#000" textLength="58.72" lengthAdjust="spacingAndGlyphs">UUO D7</text>
<text x="419.14" y="833.90" font-size="15.00" style="font-weight:bold;" fill="#000" textLength="43.24" lengthAdjust="spacingAndGlyphs">Sham</text>
<text x="503.93" y="833.90" font-size="15.00" style="font-weight:bold;" fill="#000" textLength="43.78" lengthAdjust="spacingAndGlyphs">P2rx7</text>
<text x="581.06" y="833.90" font-size="15.00" style="font-weight:bold;" fill="#000" textLength="59.13" lengthAdjust="spacingAndGlyphs">UUO D7</text>
</svg></body></html>
